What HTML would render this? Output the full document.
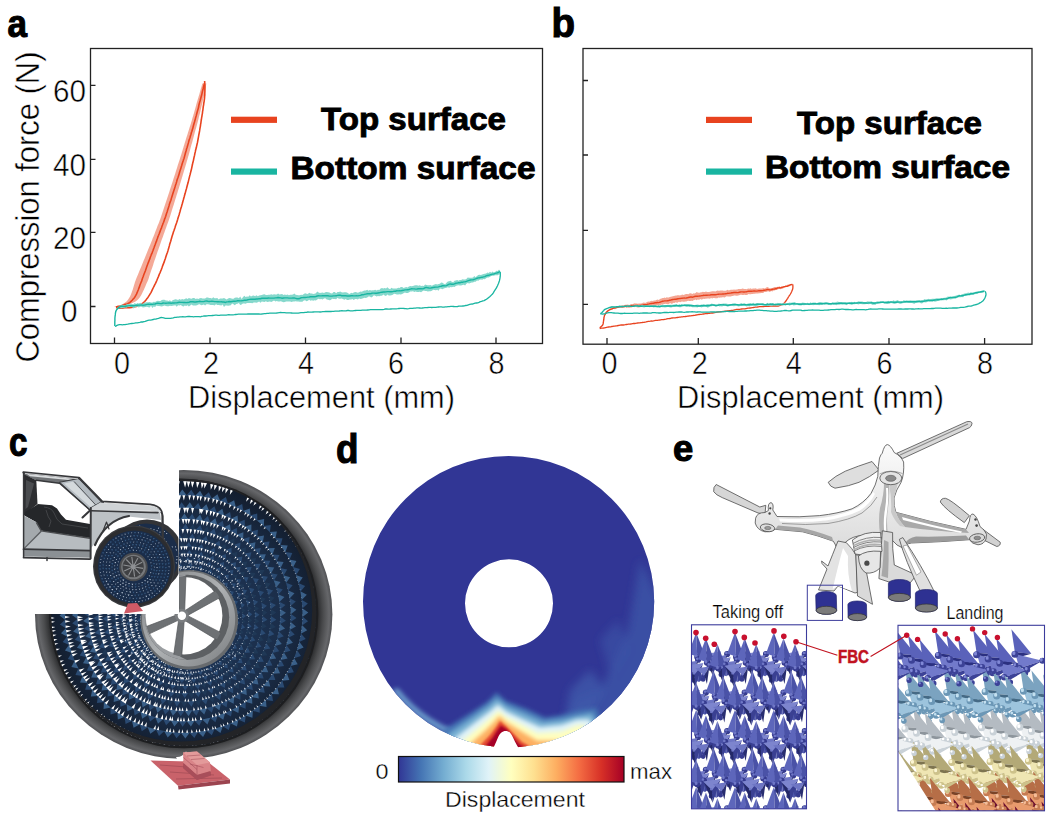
<!DOCTYPE html>
<html><head><meta charset="utf-8"><title>Figure</title>
<style>
html,body{margin:0;padding:0;background:#fff;}
body{width:1053px;height:820px;overflow:hidden;font-family:"Liberation Sans",sans-serif;}
svg{display:block}
.lbl{font-family:"Liberation Sans",sans-serif;font-weight:bold;font-size:41px;fill:#000;stroke:#000;stroke-width:1.1px}
.ax{font-family:"Liberation Sans",sans-serif;fill:#000;stroke:#fff;stroke-width:0.5px}
.lg{font-family:"Liberation Sans",sans-serif;font-weight:bold;fill:#000;stroke:#000;stroke-width:0.9px}
</style></head><body>
<svg width="1053" height="820" viewBox="0 0 1053 820">
<rect width="1053" height="820" fill="#fff"/>

<g id="axes" fill="none" stroke="#222" stroke-width="1.3">
<rect x="90.5" y="48.5" width="452" height="295"/>
<rect x="583" y="48.5" width="449" height="295.7"/>
<path d="M90.5,85.3h5M90.5,159.3h5M90.5,232.4h5M90.5,306.5h5"/>
<path d="M114.5,343.5v-6M210,343.5v-6M305.5,343.5v-6M401,343.5v-6M496,343.5v-6"/>
<path d="M583,80.5h5M583,155h5M583,230.3h5M583,304.4h5"/>
<path d="M607,344v-6M698.3,344v-6M793.3,344v-6M889,344v-6M984.6,344v-6"/>
</g>
<g class="ax" font-size="32">
<text x="86" y="101.5" text-anchor="end" textLength="33" lengthAdjust="spacingAndGlyphs">60</text>
<text x="86" y="175.5" text-anchor="end" textLength="33" lengthAdjust="spacingAndGlyphs">40</text>
<text x="86" y="248.5" text-anchor="end" textLength="33" lengthAdjust="spacingAndGlyphs">20</text>
<text x="77.5" y="321.5" text-anchor="end" textLength="16.5" lengthAdjust="spacingAndGlyphs">0</text>
</g>
<g class="ax" font-size="31" text-anchor="middle">
<text x="122" y="374" textLength="16" lengthAdjust="spacingAndGlyphs">0</text>
<text x="211" y="374" textLength="16" lengthAdjust="spacingAndGlyphs">2</text>
<text x="306" y="374" textLength="16" lengthAdjust="spacingAndGlyphs">4</text>
<text x="396" y="374" textLength="16" lengthAdjust="spacingAndGlyphs">6</text>
<text x="496.5" y="374" textLength="16" lengthAdjust="spacingAndGlyphs">8</text>
<text x="609.5" y="374" textLength="16" lengthAdjust="spacingAndGlyphs">0</text>
<text x="699.7" y="374" textLength="16" lengthAdjust="spacingAndGlyphs">2</text>
<text x="793.8" y="374" textLength="16" lengthAdjust="spacingAndGlyphs">4</text>
<text x="884.5" y="374" textLength="16" lengthAdjust="spacingAndGlyphs">6</text>
<text x="985" y="374" textLength="16" lengthAdjust="spacingAndGlyphs">8</text>
</g>
<g class="ax" font-size="31">
<text x="188" y="408" textLength="267" lengthAdjust="spacingAndGlyphs">Displacement (mm)</text>
<text x="677" y="408" textLength="267" lengthAdjust="spacingAndGlyphs">Displacement (mm)</text>
<text transform="translate(39,362.5) rotate(-90)" font-size="34" textLength="311" lengthAdjust="spacingAndGlyphs">Compression force (N)</text>
</g>
<g id="legend">
<rect x="231" y="116.7" width="46" height="6.2" fill="#e8431f"/>
<rect x="231" y="168.5" width="46" height="6.2" fill="#19b5a1"/>
<rect x="706" y="116.8" width="46" height="6.2" fill="#e8431f"/>
<rect x="706" y="168.5" width="46" height="6.2" fill="#19b5a1"/>
<g class="lg" font-size="32">
<text x="321" y="130" textLength="185" lengthAdjust="spacingAndGlyphs">Top surface</text>
<text x="290.5" y="179.3" textLength="245" lengthAdjust="spacingAndGlyphs">Bottom surface</text>
<text x="797" y="133.5" textLength="185" lengthAdjust="spacingAndGlyphs">Top surface</text>
<text x="765" y="177.5" textLength="245" lengthAdjust="spacingAndGlyphs">Bottom surface</text>
</g>
</g>
<g class="lbl">
<text x="7.5" y="37" font-size="38.5" textLength="19.5" lengthAdjust="spacingAndGlyphs">a</text>
<text x="551.5" y="36.5" font-size="40" textLength="23.5" lengthAdjust="spacingAndGlyphs">b</text>
<text x="9" y="455.5" font-size="40" textLength="18.5" lengthAdjust="spacingAndGlyphs">c</text>
<text x="336" y="463" font-size="40" textLength="22.5" lengthAdjust="spacingAndGlyphs">d</text>
<text x="673" y="461" font-size="36.5" textLength="20.3" lengthAdjust="spacingAndGlyphs">e</text>
</g>
<g id="plotA">
<path d="M113.9,306.9 L114.6,306.8 L115.6,306.6 L117.0,306.3 L118.2,306.0 L119.5,305.5 L120.8,305.0 L122.0,304.5 L123.2,303.8 L124.4,303.1 L125.5,302.3 L126.5,301.4 L127.4,300.4 L128.3,299.3 L129.1,298.1 L129.9,296.8 L130.5,295.4 L131.1,294.0 L131.7,292.6 L132.2,291.1 L132.7,289.7 L133.1,288.2 L133.6,286.8 L134.0,285.3 L134.5,283.8 L134.9,282.3 L135.4,280.9 L135.9,279.4 L136.5,277.9 L137.1,276.5 L137.8,275.0 L138.4,273.5 L139.0,272.1 L139.6,270.6 L140.2,269.1 L140.8,267.7 L141.4,266.2 L142.0,264.7 L142.6,263.3 L143.2,261.8 L143.8,260.3 L144.4,258.9 L145.0,257.4 L145.6,255.9 L146.2,254.5 L146.8,253.0 L147.4,251.5 L148.0,250.1 L148.6,248.6 L149.2,247.1 L149.8,245.7 L150.4,244.2 L151.0,242.7 L151.6,241.3 L152.2,239.8 L152.7,238.3 L153.3,236.9 L153.9,235.4 L154.5,233.9 L155.0,232.5 L155.6,231.0 L156.2,229.5 L156.8,228.1 L157.3,226.6 L157.9,225.1 L158.5,223.7 L159.1,222.2 L159.6,220.7 L160.2,219.3 L160.7,217.8 L161.2,216.3 L161.7,214.8 L162.2,213.3 L162.7,211.8 L163.2,210.3 L163.7,208.8 L164.1,207.4 L164.6,205.9 L165.1,204.4 L165.6,202.9 L166.1,201.4 L166.6,199.9 L167.1,198.4 L167.6,196.9 L168.1,195.4 L168.6,193.9 L169.1,192.4 L169.6,190.9 L170.0,189.4 L170.5,188.0 L171.0,186.5 L171.5,185.0 L172.0,183.5 L172.5,182.0 L173.0,180.5 L173.4,179.0 L173.9,177.5 L174.4,176.0 L174.9,174.5 L175.4,173.0 L175.8,171.5 L176.3,170.0 L176.8,168.5 L177.3,167.0 L177.7,165.5 L178.2,164.0 L178.7,162.5 L179.2,161.0 L179.7,159.5 L180.1,158.0 L180.6,156.5 L181.1,155.0 L181.6,153.5 L182.0,152.0 L182.5,150.5 L182.9,149.0 L183.4,147.5 L183.8,146.0 L184.3,144.5 L184.7,143.0 L185.2,141.5 L185.7,140.0 L186.1,138.5 L186.6,137.0 L187.1,135.5 L187.6,134.0 L188.0,132.5 L188.5,131.0 L189.0,129.5 L189.4,128.0 L189.9,126.5 L190.4,125.0 L190.9,123.5 L191.3,121.9 L191.8,120.4 L192.2,118.9 L192.6,117.4 L193.1,115.9 L193.5,114.4 L194.0,112.9 L194.4,111.4 L194.8,109.9 L195.3,108.3 L195.7,106.8 L196.1,105.3 L196.5,103.8 L196.9,102.3 L197.4,100.7 L197.8,99.2 L198.3,97.7 L198.7,96.2 L199.2,94.7 L199.6,93.2 L200.1,91.6 L200.5,90.1 L200.9,88.6 L201.4,87.1 L201.8,85.6 L202.1,84.3 L202.4,83.4 L206.4,83.4 L206.2,84.3 L206.0,85.6 L205.7,87.1 L205.4,88.6 L205.1,90.1 L204.8,91.6 L204.5,93.2 L204.1,94.7 L203.8,96.2 L203.5,97.7 L203.2,99.2 L202.8,100.7 L202.5,102.3 L202.2,103.8 L201.8,105.3 L201.4,106.8 L201.1,108.3 L200.7,109.9 L200.4,111.4 L200.0,112.9 L199.6,114.4 L199.2,115.9 L198.8,117.4 L198.5,118.9 L198.1,120.4 L197.7,121.9 L197.3,123.5 L196.9,125.0 L196.5,126.5 L196.1,128.0 L195.6,129.5 L195.2,131.0 L194.8,132.5 L194.4,134.0 L194.0,135.5 L193.6,137.0 L193.2,138.5 L192.8,140.0 L192.4,141.5 L192.0,143.0 L191.5,144.5 L191.1,146.0 L190.7,147.5 L190.3,149.0 L189.9,150.5 L189.5,152.0 L189.1,153.5 L188.7,155.0 L188.2,156.5 L187.8,158.0 L187.4,159.5 L186.9,161.0 L186.5,162.5 L186.1,164.0 L185.6,165.5 L185.2,167.0 L184.7,168.5 L184.3,170.0 L183.8,171.5 L183.4,173.0 L182.9,174.5 L182.5,176.0 L182.0,177.5 L181.6,179.0 L181.1,180.5 L180.7,182.0 L180.2,183.5 L179.8,185.0 L179.3,186.5 L178.9,188.0 L178.4,189.4 L177.9,190.9 L177.5,192.4 L177.0,193.9 L176.5,195.4 L176.1,196.9 L175.6,198.4 L175.1,199.9 L174.7,201.4 L174.2,202.9 L173.8,204.4 L173.3,205.9 L172.8,207.4 L172.4,208.8 L171.9,210.3 L171.5,211.8 L171.0,213.3 L170.6,214.8 L170.1,216.3 L169.6,217.8 L169.1,219.3 L168.6,220.7 L168.1,222.2 L167.5,223.7 L167.0,225.1 L166.5,226.6 L166.0,228.1 L165.4,229.5 L164.9,231.0 L164.4,232.5 L163.8,233.9 L163.3,235.4 L162.8,236.9 L162.3,238.3 L161.7,239.8 L161.2,241.3 L160.7,242.7 L160.2,244.2 L159.7,245.7 L159.2,247.1 L158.7,248.6 L158.2,250.1 L157.6,251.5 L157.1,253.0 L156.6,254.5 L156.1,255.9 L155.6,257.4 L155.1,258.9 L154.6,260.3 L154.1,261.8 L153.6,263.3 L153.2,264.7 L152.7,266.2 L152.2,267.7 L151.7,269.1 L151.2,270.6 L150.7,272.1 L150.2,273.5 L149.7,275.0 L149.2,276.5 L148.8,277.9 L148.3,279.4 L147.7,280.9 L147.1,282.3 L146.4,283.8 L145.8,285.3 L145.2,286.8 L144.5,288.2 L143.9,289.7 L143.2,291.1 L142.5,292.6 L141.8,294.0 L141.0,295.4 L140.2,296.8 L139.3,298.1 L138.2,299.3 L136.9,300.4 L135.5,301.4 L134.0,302.3 L132.4,303.1 L130.8,303.8 L129.2,304.5 L127.5,305.0 L125.8,305.5 L124.1,306.0 L122.3,306.3 L120.6,306.6 L119.1,306.8 L117.9,306.9Z" fill="#f3a08c" opacity="0.9"/>
<path d="M115.9,306.9 L116.9,306.8 L118.1,306.4 L119.6,306.3 L121.2,305.9 L122.7,305.3 L124.1,304.8 L125.6,304.2 L127.0,304.0 L128.4,303.3 L129.7,302.6 L131.0,301.4 L132.2,300.3 L133.2,299.1 L134.2,297.9 L135.0,296.7 L135.8,295.4 L136.5,294.1 L137.1,292.6 L137.7,291.2 L138.3,289.8 L138.8,288.4 L139.4,286.9 L139.9,285.3 L140.5,283.8 L141.0,282.5 L141.6,281.1 L142.1,279.5 L142.6,278.0 L143.2,276.5 L143.7,275.0 L144.3,273.5 L144.8,272.2 L145.4,270.7 L145.9,269.3 L146.5,267.5 L147.0,266.1 L147.6,264.5 L148.1,263.1 L148.7,261.6 L149.2,260.3 L149.8,258.9 L150.3,257.3 L150.9,255.8 L151.4,254.4 L152.0,253.1 L152.5,251.7 L153.1,250.3 L153.6,248.8 L154.2,247.2 L154.7,245.7 L155.3,244.2 L155.8,242.8 L156.4,241.4 L156.9,239.8 L157.5,238.3 L158.0,236.6 L158.6,235.3 L159.2,233.8 L159.7,232.4 L160.3,230.9 L160.8,229.3 L161.4,228.1 L161.9,226.4 L162.5,225.0 L163.0,223.5 L163.6,222.3 L164.1,220.7 L164.6,219.1 L165.2,217.6 L165.7,216.2 L166.1,214.9 L166.6,213.3 L167.1,211.9 L167.6,210.2 L168.0,208.9 L168.5,207.4 L169.0,205.9 L169.4,204.2 L169.9,202.8 L170.4,201.4 L170.9,200.2 L171.3,198.6 L171.8,197.1 L172.3,195.5 L172.8,193.8 L173.3,192.2 L173.7,190.9 L174.2,189.4 L174.7,187.9 L175.2,186.3 L175.6,184.9 L176.1,183.5 L176.6,181.9 L177.0,180.3 L177.5,178.7 L178.0,177.5 L178.4,176.2 L178.9,174.7 L179.4,173.1 L179.8,171.5 L180.3,170.0 L180.8,168.6 L181.2,167.0 L181.7,165.5 L182.1,164.0 L182.6,162.6 L183.1,161.1 L183.5,159.8 L184.0,158.4 L184.4,157.0 L184.9,155.1 L185.3,153.5 L185.8,151.8 L186.2,150.5 L186.6,148.8 L187.1,147.5 L187.5,146.0 L187.9,144.6 L188.4,142.9 L188.8,141.2 L189.2,139.8 L189.7,138.5 L190.1,137.2 L190.5,135.7 L191.0,134.2 L191.4,132.5 L191.9,131.2 L192.3,129.7 L192.8,128.3 L193.2,126.5 L193.6,125.0 L194.1,123.3 L194.5,122.0 L194.9,120.5 L195.3,119.1 L195.7,117.4 L196.2,115.9 L196.6,114.3 L197.0,112.8 L197.4,111.3 L197.8,110.0 L198.2,108.6 L198.6,107.0 L198.9,105.1 L199.3,103.5 L199.7,102.1 L200.1,100.8 L200.5,99.3 L200.9,97.8 L201.3,96.2 L201.7,94.7 L202.1,93.1 L202.4,91.5 L202.8,90.0 L203.2,88.5 L203.5,87.0 L203.9,85.4 L204.2,84.2 L204.4,83.3" fill="none" stroke="#e8431f" stroke-width="1.6"/>
<path d="M204.6,81.0 L204.7,82.0 L204.7,83.3 L204.8,85.0 L204.9,86.8 L204.9,88.3 L204.9,89.9 L204.9,91.5 L204.8,93.3 L204.8,94.9 L204.6,96.7 L204.5,98.4 L204.3,100.0 L204.1,101.6 L203.8,103.2 L203.6,104.8 L203.3,106.4 L203.1,108.0 L202.9,109.8 L202.6,111.4 L202.4,113.3 L202.1,114.8 L201.9,116.3 L201.6,117.8 L201.4,119.5 L201.1,121.1 L200.9,122.8 L200.6,124.3 L200.4,126.1 L200.1,127.7 L199.8,129.4 L199.6,130.9 L199.3,132.5 L199.0,134.0 L198.7,135.6 L198.4,137.3 L198.1,139.0 L197.8,140.7 L197.5,142.4 L197.1,144.0 L196.7,145.7 L196.4,147.3 L196.0,148.7 L195.6,150.2 L195.3,151.9 L194.9,153.4 L194.6,155.2 L194.2,156.7 L193.8,158.5 L193.5,160.1 L193.1,161.7 L192.7,163.2 L192.4,164.8 L192.0,166.5 L191.7,168.1 L191.3,169.7 L190.9,171.3 L190.5,172.9 L190.1,174.5 L189.7,175.9 L189.3,177.6 L188.9,179.1 L188.5,180.9 L188.1,182.6 L187.6,184.2 L187.2,185.7 L186.8,187.2 L186.4,188.9 L185.9,190.5 L185.5,192.1 L185.1,193.6 L184.6,195.2 L184.2,196.8 L183.7,198.5 L183.3,200.0 L182.8,201.7 L182.4,203.3 L181.9,204.9 L181.5,206.4 L181.0,207.9 L180.5,209.6 L180.1,211.3 L179.6,212.9 L179.2,214.5 L178.7,215.9 L178.2,217.5 L177.7,219.3 L177.2,220.9 L176.7,222.5 L176.2,223.9 L175.6,225.5 L175.1,227.2 L174.6,228.7 L174.1,230.3 L173.5,231.8 L173.0,233.4 L172.5,234.9 L172.0,236.5 L171.6,238.1 L171.1,239.7 L170.7,241.2 L170.2,242.7 L169.7,244.3 L169.3,246.0 L168.8,247.7 L168.3,249.4 L167.9,250.9 L167.4,252.5 L166.8,254.0 L166.3,255.6 L165.8,257.1 L165.3,258.7 L164.7,260.3 L164.2,261.9 L163.6,263.4 L163.0,264.9 L162.4,266.5 L161.9,268.1 L161.3,269.6 L160.7,271.0 L160.1,272.6 L159.4,274.0 L158.8,275.6 L158.2,277.1 L157.5,278.7 L156.9,280.3 L156.2,281.8 L155.5,283.3 L154.8,284.7 L154.1,286.1 L153.4,287.5 L152.6,289.1 L151.9,290.6 L151.1,292.3 L150.3,293.6 L149.4,295.1 L148.6,296.4 L147.7,297.7 L146.7,298.9 L145.8,300.2 L144.7,301.5 L143.5,302.6 L142.2,303.7 L140.9,304.6 L139.4,305.3 L137.9,305.8 L136.3,306.4 L134.7,306.8 L133.1,307.2 L131.4,307.4 L129.8,307.6 L128.1,307.6 L126.5,307.6 L124.9,307.7 L123.2,307.9 L121.6,308.1 L119.9,308.1 L118.3,307.9 L117.0,307.7 L116.0,307.5" fill="none" stroke="#e8431f" stroke-width="1.6"/>
<path d="M115.4,312.7 L115.7,311.1 L116.2,309.6 L116.8,309.5 L117.7,307.0 L118.8,306.8 L120.0,305.5 L121.3,305.2 L122.7,304.4 L124.0,305.4 L125.3,305.2 L126.7,304.3 L128.0,303.7 L129.4,304.3 L130.7,303.5 L132.1,303.9 L133.4,304.3 L134.8,303.1 L136.1,303.9 L137.5,302.9 L138.8,303.4 L140.2,302.8 L141.6,303.5 L142.9,303.7 L144.3,302.4 L145.6,302.5 L147.0,302.2 L148.3,302.3 L149.7,301.9 L151.0,302.6 L152.4,302.6 L153.7,301.8 L155.1,302.0 L156.4,301.2 L157.8,300.7 L159.1,300.9 L160.5,301.1 L161.8,300.0 L163.2,299.8 L164.5,299.8 L165.9,300.4 L167.2,300.6 L168.6,300.9 L169.9,300.3 L171.3,301.4 L172.6,300.3 L174.0,299.8 L175.4,299.2 L176.7,299.5 L178.1,300.0 L179.4,299.1 L180.8,299.8 L182.1,298.9 L183.5,299.5 L184.8,298.9 L186.2,298.3 L187.5,299.0 L188.9,298.1 L190.2,298.6 L191.6,298.7 L192.9,297.9 L194.3,298.0 L195.7,299.1 L197.0,298.5 L198.4,299.1 L199.7,298.2 L201.1,297.9 L202.4,298.4 L203.8,298.6 L205.1,298.6 L206.5,297.6 L207.8,297.6 L209.2,297.9 L210.5,297.9 L211.9,298.6 L213.3,297.2 L214.6,298.3 L216.0,298.3 L217.3,297.9 L218.7,299.5 L220.0,298.5 L221.4,298.4 L222.7,298.4 L224.0,297.9 L225.4,298.8 L226.7,299.4 L228.1,298.6 L229.4,298.0 L230.8,298.2 L232.1,298.7 L233.5,298.8 L234.8,297.7 L236.2,297.5 L237.5,297.4 L238.9,298.2 L240.2,296.6 L241.6,298.9 L242.9,297.3 L244.3,295.8 L245.6,297.0 L247.0,296.5 L248.3,296.8 L249.7,295.3 L251.0,296.5 L252.4,295.7 L253.7,295.6 L255.1,296.3 L256.4,295.2 L257.8,296.3 L259.1,295.5 L260.5,295.3 L261.8,295.0 L263.2,294.5 L264.5,294.2 L265.9,294.9 L267.2,295.0 L268.6,294.8 L269.9,294.7 L271.3,294.2 L272.7,294.7 L274.0,294.3 L275.4,294.4 L276.7,294.6 L278.1,293.4 L279.4,294.6 L280.8,294.3 L282.1,293.9 L283.5,295.0 L284.8,294.4 L286.2,295.1 L287.5,294.6 L288.9,295.3 L290.2,294.7 L291.6,294.8 L293.0,294.4 L294.3,293.6 L295.7,294.7 L297.0,294.9 L298.4,295.3 L299.7,295.2 L301.1,294.7 L302.4,295.1 L303.8,294.0 L305.1,293.3 L306.5,293.8 L307.8,293.9 L309.2,292.8 L310.5,293.6 L311.9,293.6 L313.2,293.9 L314.5,293.8 L315.9,293.3 L317.2,291.6 L318.6,292.5 L319.9,293.0 L321.3,292.8 L322.6,292.4 L324.0,293.1 L325.3,292.2 L326.7,292.1 L328.1,292.3 L329.4,292.4 L330.8,293.3 L332.1,293.5 L333.5,291.9 L334.8,291.9 L336.2,293.2 L337.5,291.9 L338.9,291.9 L340.2,291.5 L341.6,292.2 L342.9,292.5 L344.3,292.3 L345.7,292.2 L347.0,292.6 L348.4,293.5 L349.7,294.1 L351.1,292.8 L352.4,293.2 L353.8,292.4 L355.1,292.1 L356.5,292.3 L357.8,292.7 L359.1,292.2 L360.5,291.4 L361.8,291.8 L363.1,290.9 L364.5,290.6 L365.8,290.6 L367.2,289.7 L368.5,290.8 L369.8,289.9 L371.2,290.6 L372.5,290.2 L373.9,290.3 L375.2,289.7 L376.6,290.4 L377.9,289.7 L379.3,290.0 L380.6,288.6 L382.0,288.0 L383.3,288.6 L384.7,287.9 L386.0,288.4 L387.4,287.3 L388.7,288.4 L390.1,289.3 L391.4,287.8 L392.8,288.4 L394.1,288.6 L395.5,288.4 L396.8,288.5 L398.1,287.8 L399.5,288.0 L400.8,287.0 L402.2,287.0 L403.5,288.0 L404.9,287.6 L406.2,287.1 L407.6,287.6 L408.9,286.5 L410.3,286.1 L411.6,286.2 L413.0,286.1 L414.3,285.6 L415.6,285.3 L417.0,285.2 L418.4,285.7 L419.7,285.2 L421.1,286.0 L422.4,285.7 L423.8,286.0 L425.1,284.4 L426.5,285.0 L427.8,285.3 L429.2,285.2 L430.5,284.9 L431.9,285.7 L433.2,284.9 L434.5,284.4 L435.9,284.1 L437.2,284.6 L438.5,284.0 L439.9,283.7 L441.2,282.6 L442.5,282.7 L443.8,283.7 L445.2,284.2 L446.5,282.7 L447.8,281.4 L449.2,281.3 L450.5,280.8 L451.8,281.8 L453.2,282.2 L454.5,280.7 L455.8,280.5 L457.2,280.0 L458.5,280.8 L459.8,280.0 L461.2,279.9 L462.5,279.2 L463.8,279.5 L465.1,279.4 L466.4,279.0 L467.7,277.6 L469.1,277.8 L470.4,277.8 L471.7,277.8 L473.0,277.6 L474.3,276.0 L475.6,277.2 L477.0,276.1 L478.3,275.1 L479.6,274.7 L480.9,275.0 L482.2,274.5 L483.5,274.1 L484.8,273.8 L486.1,273.6 L487.4,272.4 L488.7,272.9 L490.0,271.8 L491.3,272.8 L492.6,271.5 L493.8,272.5 L495.1,272.1 L496.4,270.7 L497.7,271.1 L498.9,269.8 L499.8,269.9 L499.8,274.3 L498.9,274.4 L497.7,275.3 L496.4,275.3 L495.1,275.3 L493.8,275.8 L492.6,275.8 L491.3,275.9 L490.0,276.7 L488.7,277.6 L487.4,277.6 L486.1,278.2 L484.8,279.3 L483.5,279.0 L482.2,279.8 L480.9,279.5 L479.6,279.7 L478.3,280.8 L477.0,280.6 L475.6,281.7 L474.3,281.8 L473.0,282.5 L471.7,282.5 L470.4,282.9 L469.1,283.6 L467.7,282.9 L466.4,283.7 L465.1,285.4 L463.8,284.8 L462.5,284.9 L461.2,285.6 L459.8,285.6 L458.5,285.3 L457.2,285.4 L455.8,286.1 L454.5,287.0 L453.2,286.8 L451.8,287.3 L450.5,287.0 L449.2,287.7 L447.8,287.3 L446.5,287.7 L445.2,288.1 L443.8,288.4 L442.5,289.2 L441.2,288.8 L439.9,288.5 L438.5,290.7 L437.2,289.7 L435.9,290.3 L434.5,290.0 L433.2,289.8 L431.9,290.8 L430.5,291.3 L429.2,291.2 L427.8,291.5 L426.5,291.0 L425.1,291.1 L423.8,290.4 L422.4,291.3 L421.1,292.3 L419.7,291.7 L418.4,291.9 L417.0,291.9 L415.6,291.6 L414.3,292.0 L413.0,291.2 L411.6,291.6 L410.3,291.4 L408.9,292.6 L407.6,293.0 L406.2,293.1 L404.9,292.5 L403.5,293.2 L402.2,294.0 L400.8,294.5 L399.5,294.3 L398.1,294.6 L396.8,294.4 L395.5,294.0 L394.1,293.8 L392.8,294.7 L391.4,295.3 L390.1,295.5 L388.7,295.5 L387.4,294.5 L386.0,296.1 L384.7,295.6 L383.3,294.6 L382.0,295.7 L380.6,295.7 L379.3,296.3 L377.9,295.9 L376.6,296.6 L375.2,295.8 L373.9,295.3 L372.5,296.7 L371.2,297.5 L369.8,296.4 L368.5,296.4 L367.2,297.5 L365.8,297.9 L364.5,297.8 L363.1,298.2 L361.8,298.8 L360.5,299.0 L359.1,298.6 L357.8,299.6 L356.5,298.9 L355.1,299.0 L353.8,300.0 L352.4,299.0 L351.1,299.4 L349.7,299.6 L348.4,299.9 L347.0,299.9 L345.7,299.1 L344.3,299.8 L342.9,299.1 L341.6,298.6 L340.2,298.7 L338.9,298.7 L337.5,297.7 L336.2,299.2 L334.8,299.0 L333.5,299.0 L332.1,298.7 L330.8,300.1 L329.4,300.2 L328.1,299.8 L326.7,299.6 L325.3,298.3 L324.0,298.5 L322.6,299.5 L321.3,298.9 L319.9,299.2 L318.6,298.8 L317.2,299.6 L315.9,300.4 L314.5,300.3 L313.2,300.8 L311.9,300.2 L310.5,300.7 L309.2,299.8 L307.8,300.7 L306.5,301.3 L305.1,300.2 L303.8,300.4 L302.4,301.7 L301.1,301.8 L299.7,301.8 L298.4,301.4 L297.0,301.4 L295.7,301.2 L294.3,301.5 L293.0,301.4 L291.6,301.9 L290.2,301.5 L288.9,301.5 L287.5,301.6 L286.2,301.6 L284.8,302.0 L283.5,302.3 L282.1,301.8 L280.8,301.2 L279.4,301.4 L278.1,301.5 L276.7,300.9 L275.4,301.4 L274.0,300.6 L272.7,301.3 L271.3,301.9 L269.9,301.6 L268.6,301.8 L267.2,302.1 L265.9,301.3 L264.5,302.0 L263.2,301.8 L261.8,301.6 L260.5,302.8 L259.1,301.4 L257.8,302.2 L256.4,302.7 L255.1,302.4 L253.7,302.6 L252.4,303.3 L251.0,303.0 L249.7,302.9 L248.3,302.9 L247.0,302.9 L245.6,303.7 L244.3,303.6 L242.9,303.5 L241.6,304.5 L240.2,304.9 L238.9,303.0 L237.5,303.7 L236.2,304.0 L234.8,305.2 L233.5,304.2 L232.1,303.5 L230.8,305.2 L229.4,305.4 L228.1,305.7 L226.7,305.5 L225.4,305.5 L224.0,307.0 L222.7,304.4 L221.4,305.4 L220.0,305.3 L218.7,304.9 L217.3,304.9 L216.0,304.2 L214.6,305.4 L213.3,304.9 L211.9,305.1 L210.5,305.0 L209.2,304.5 L207.8,304.3 L206.5,304.3 L205.1,305.5 L203.8,304.4 L202.4,304.9 L201.1,305.2 L199.7,304.3 L198.4,304.5 L197.0,305.2 L195.7,305.4 L194.3,305.4 L192.9,305.6 L191.6,304.4 L190.2,305.4 L188.9,306.4 L187.5,305.3 L186.2,306.0 L184.8,305.4 L183.5,306.5 L182.1,306.1 L180.8,305.0 L179.4,305.4 L178.1,305.3 L176.7,306.7 L175.4,305.2 L174.0,305.4 L172.6,305.7 L171.3,305.9 L169.9,305.7 L168.6,306.2 L167.2,306.3 L165.9,305.9 L164.5,305.4 L163.2,306.0 L161.8,306.6 L160.5,306.3 L159.1,306.1 L157.8,305.9 L156.4,305.5 L155.1,307.1 L153.7,306.6 L152.4,308.1 L151.0,305.8 L149.7,307.6 L148.3,307.3 L147.0,306.7 L145.6,307.0 L144.3,307.3 L142.9,307.4 L141.6,306.7 L140.2,306.7 L138.8,307.4 L137.5,306.7 L136.1,306.7 L134.8,307.5 L133.4,308.4 L132.1,306.9 L130.7,307.1 L129.4,305.8 L128.0,306.7 L126.7,307.8 L125.3,307.4 L124.0,308.0 L122.7,307.9 L121.3,308.6 L120.0,308.2 L118.8,308.3 L117.7,309.9 L116.8,310.4 L116.2,310.9 L115.7,312.7 L115.4,315.1Z" fill="#7fd6c9" opacity="0.95"/>
<path d="M114.8,325.9 L114.8,324.8 L114.8,323.3 L114.8,321.9 L114.9,320.6 L114.9,319.3 L114.9,318.2 L115.0,317.0 L115.1,316.2 L115.3,314.9 L115.4,313.5 L115.7,311.8 L116.2,310.5 L116.8,309.3 L117.7,308.4 L118.8,307.6 L120.0,306.7 L121.3,306.3 L122.7,306.1 L124.0,306.6 L125.3,306.2 L126.7,306.0 L128.0,305.9 L129.4,305.7 L130.7,305.8 L132.1,305.7 L133.4,305.8 L134.8,305.6 L136.1,305.3 L137.5,305.3 L138.8,305.1 L140.2,305.1 L141.6,304.9 L142.9,305.3 L144.3,305.1 L145.6,304.8 L147.0,304.4 L148.3,304.3 L149.7,304.4 L151.0,304.2 L152.4,304.4 L153.7,304.1 L155.1,304.0 L156.4,303.4 L157.8,303.2 L159.1,303.4 L160.5,303.6 L161.8,303.5 L163.2,303.0 L164.5,303.1 L165.9,303.2 L167.2,303.1 L168.6,303.0 L169.9,303.0 L171.3,303.2 L172.6,302.9 L174.0,303.0 L175.4,302.9 L176.7,302.9 L178.1,302.5 L179.4,302.3 L180.8,302.4 L182.1,302.4 L183.5,302.5 L184.8,302.4 L186.2,302.6 L187.5,302.5 L188.9,302.4 L190.2,301.8 L191.6,301.7 L192.9,301.8 L194.3,302.0 L195.7,302.0 L197.0,301.8 L198.4,301.6 L199.7,301.3 L201.1,301.6 L202.4,301.6 L203.8,301.6 L205.1,301.1 L206.5,301.0 L207.8,301.3 L209.2,301.5 L210.5,301.4 L211.9,301.3 L213.3,301.4 L214.6,301.6 L216.0,301.6 L217.3,301.7 L218.7,301.7 L220.0,301.9 L221.4,301.7 L222.7,302.0 L224.0,302.0 L225.4,302.5 L226.7,301.9 L228.1,301.8 L229.4,301.5 L230.8,301.7 L232.1,301.5 L233.5,301.3 L234.8,301.3 L236.2,301.1 L237.5,300.8 L238.9,300.8 L240.2,300.9 L241.6,300.8 L242.9,300.6 L244.3,300.3 L245.6,300.3 L247.0,300.0 L248.3,299.6 L249.7,299.4 L251.0,299.3 L252.4,299.3 L253.7,299.1 L255.1,299.2 L256.4,299.0 L257.8,299.0 L259.1,298.6 L260.5,298.7 L261.8,298.3 L263.2,298.3 L264.5,298.2 L265.9,298.3 L267.2,298.3 L268.6,298.0 L269.9,298.1 L271.3,298.1 L272.7,298.1 L274.0,298.1 L275.4,297.9 L276.7,297.8 L278.1,297.5 L279.4,297.7 L280.8,297.9 L282.1,298.2 L283.5,298.0 L284.8,297.9 L286.2,297.9 L287.5,297.9 L288.9,298.1 L290.2,298.1 L291.6,298.1 L293.0,298.0 L294.3,297.9 L295.7,298.3 L297.0,298.7 L298.4,298.8 L299.7,298.5 L301.1,297.7 L302.4,297.6 L303.8,297.5 L305.1,297.5 L306.5,297.4 L307.8,297.1 L309.2,297.0 L310.5,296.8 L311.9,296.7 L313.2,296.7 L314.5,296.7 L315.9,296.5 L317.2,296.0 L318.6,295.8 L319.9,295.9 L321.3,295.9 L322.6,295.7 L324.0,295.6 L325.3,295.7 L326.7,295.8 L328.1,295.8 L329.4,296.1 L330.8,296.1 L332.1,296.1 L333.5,295.9 L334.8,295.9 L336.2,295.8 L337.5,295.4 L338.9,295.3 L340.2,295.2 L341.6,295.7 L342.9,295.6 L344.3,295.8 L345.7,295.6 L347.0,296.0 L348.4,296.0 L349.7,296.0 L351.1,295.8 L352.4,295.8 L353.8,295.9 L355.1,295.9 L356.5,295.8 L357.8,295.9 L359.1,295.6 L360.5,295.4 L361.8,294.8 L363.1,294.8 L364.5,294.4 L365.8,294.1 L367.2,293.8 L368.5,293.8 L369.8,293.7 L371.2,293.5 L372.5,293.1 L373.9,293.1 L375.2,293.2 L376.6,293.2 L377.9,293.0 L379.3,292.8 L380.6,292.4 L382.0,292.2 L383.3,292.0 L384.7,292.0 L386.0,291.9 L387.4,291.6 L388.7,291.6 L390.1,291.8 L391.4,291.8 L392.8,291.6 L394.1,291.2 L395.5,291.2 L396.8,290.8 L398.1,290.9 L399.5,290.6 L400.8,290.9 L402.2,290.5 L403.5,290.3 L404.9,289.9 L406.2,289.9 L407.6,289.7 L408.9,289.5 L410.3,289.1 L411.6,288.8 L413.0,288.9 L414.3,288.9 L415.6,289.1 L417.0,289.0 L418.4,288.7 L419.7,288.6 L421.1,288.7 L422.4,288.9 L423.8,288.5 L425.1,287.7 L426.5,287.4 L427.8,287.8 L429.2,288.1 L430.5,288.1 L431.9,287.8 L433.2,287.5 L434.5,287.3 L435.9,287.1 L437.2,287.1 L438.5,286.9 L439.9,286.4 L441.2,286.2 L442.5,285.8 L443.8,285.8 L445.2,285.9 L446.5,285.6 L447.8,284.8 L449.2,284.1 L450.5,284.0 L451.8,284.3 L453.2,284.3 L454.5,283.8 L455.8,283.3 L457.2,283.1 L458.5,282.8 L459.8,282.8 L461.2,282.3 L462.5,282.3 L463.8,281.9 L465.1,281.7 L466.4,281.4 L467.7,280.8 L469.1,280.4 L470.4,280.0 L471.7,279.9 L473.0,279.7 L474.3,279.3 L475.6,278.9 L477.0,278.2 L478.3,277.9 L479.6,277.8 L480.9,277.4 L482.2,277.3 L483.5,276.9 L484.8,276.6 L486.1,275.9 L487.4,275.5 L488.7,275.3 L490.0,274.8 L491.3,274.5 L492.6,274.1 L493.8,274.0 L495.1,273.4 L496.4,273.1 L497.7,272.8 L498.9,272.1 L499.8,271.4" fill="none" stroke="#19b5a1" stroke-width="1.4"/>
<path d="M500.2,271.8 L500.3,272.8 L500.3,274.2 L500.3,275.5 L500.2,276.7 L500.0,278.1 L499.7,279.5 L499.4,280.9 L499.0,282.1 L498.5,283.4 L498.0,284.5 L497.5,285.8 L496.9,286.9 L496.3,288.2 L495.6,289.2 L494.8,290.4 L494.0,291.6 L493.3,292.9 L492.5,294.0 L491.6,294.9 L490.7,295.8 L489.7,296.7 L488.7,297.5 L487.6,298.4 L486.5,299.2 L485.3,299.9 L484.1,300.6 L482.8,300.9 L481.5,301.4 L480.3,301.7 L479.0,302.4 L477.7,302.8 L476.4,303.0 L475.0,303.2 L473.7,303.6 L472.4,304.0 L471.0,304.2 L469.7,304.4 L468.4,304.8 L467.0,305.3 L465.7,305.5 L464.4,305.9 L463.0,306.0 L461.7,306.2 L460.3,306.1 L458.9,306.2 L457.6,306.5 L456.2,306.6 L454.9,306.6 L453.5,306.5 L452.1,306.4 L450.8,306.4 L449.4,306.6 L448.1,306.7 L446.7,306.9 L445.3,306.9 L444.0,307.1 L442.6,307.1 L441.3,306.9 L439.9,306.9 L438.5,307.0 L437.2,307.2 L435.8,307.4 L434.5,307.4 L433.1,307.4 L431.7,307.5 L430.4,307.4 L429.0,307.3 L427.6,307.5 L426.3,307.6 L424.9,307.7 L423.6,307.8 L422.2,308.0 L420.8,308.1 L419.5,308.0 L418.1,307.9 L416.8,307.9 L415.4,308.1 L414.0,308.1 L412.7,308.3 L411.3,308.3 L409.9,308.4 L408.6,308.7 L407.2,308.8 L405.9,308.6 L404.5,308.5 L403.1,308.3 L401.8,308.4 L400.4,308.4 L399.1,308.5 L397.7,308.7 L396.3,308.8 L395.0,308.8 L393.6,308.8 L392.2,308.8 L390.9,309.0 L389.5,309.2 L388.2,309.1 L386.8,309.0 L385.4,309.0 L384.1,309.4 L382.7,309.6 L381.4,309.7 L380.0,309.7 L378.6,309.6 L377.3,309.7 L375.9,309.6 L374.5,309.6 L373.2,309.6 L371.8,309.7 L370.5,309.7 L369.1,309.9 L367.7,310.0 L366.4,310.2 L365.0,310.1 L363.7,310.1 L362.3,310.2 L360.9,310.4 L359.6,310.4 L358.2,310.3 L356.9,310.4 L355.5,310.5 L354.1,310.6 L352.8,310.8 L351.4,310.8 L350.0,310.9 L348.7,310.5 L347.3,310.5 L346.0,310.8 L344.6,310.9 L343.2,310.9 L341.9,310.7 L340.5,310.8 L339.2,311.0 L337.8,311.1 L336.4,311.2 L335.1,311.2 L333.7,311.3 L332.3,311.4 L331.0,311.5 L329.6,311.5 L328.3,311.5 L326.9,311.5 L325.5,311.5 L324.2,311.6 L322.8,311.6 L321.5,311.9 L320.1,312.0 L318.7,311.9 L317.4,311.9 L316.0,311.9 L314.6,311.9 L313.3,312.0 L311.9,312.2 L310.6,312.2 L309.2,312.2 L307.8,312.0 L306.5,312.3 L305.1,312.3 L303.8,312.7 L302.4,312.6 L301.0,312.7 L299.7,312.8 L298.3,313.1 L297.0,313.1 L295.6,313.2 L294.2,313.1 L292.9,313.1 L291.5,313.0 L290.2,312.9 L288.8,312.9 L287.4,312.8 L286.1,312.8 L284.7,312.7 L283.4,312.7 L282.0,312.6 L280.6,312.5 L279.3,312.6 L277.9,312.8 L276.6,313.0 L275.2,313.1 L273.8,313.1 L272.5,313.1 L271.1,313.1 L269.8,313.1 L268.4,313.3 L267.0,313.4 L265.7,313.6 L264.3,313.6 L263.0,313.8 L261.6,314.0 L260.2,314.1 L258.9,314.0 L257.5,314.0 L256.2,314.0 L254.8,314.0 L253.4,313.8 L252.1,314.0 L250.7,313.9 L249.3,314.0 L248.0,314.0 L246.6,314.1 L245.3,314.2 L243.9,314.2 L242.5,314.1 L241.2,314.2 L239.8,314.1 L238.4,314.2 L237.1,314.3 L235.7,314.5 L234.4,314.7 L233.0,314.8 L231.6,314.8 L230.3,314.8 L228.9,314.7 L227.6,314.9 L226.2,315.1 L224.8,315.2 L223.5,315.1 L222.1,315.1 L220.7,315.2 L219.4,315.3 L218.0,315.3 L216.7,315.2 L215.3,315.2 L213.9,315.3 L212.6,315.5 L211.2,315.7 L209.9,315.7 L208.5,315.7 L207.1,315.8 L205.8,316.0 L204.4,316.0 L203.1,316.2 L201.7,316.3 L200.4,316.8 L199.0,316.7 L197.7,316.7 L196.3,316.7 L194.9,316.7 L193.6,316.8 L192.2,316.6 L190.9,316.6 L189.5,316.4 L188.1,316.5 L186.8,316.7 L185.4,316.9 L184.0,316.9 L182.7,316.7 L181.3,316.8 L180.0,316.9 L178.6,317.2 L177.3,317.1 L176.0,317.4 L174.6,317.4 L173.3,317.9 L171.9,318.1 L170.6,318.3 L169.3,318.4 L167.9,318.4 L166.6,318.4 L165.2,318.3 L163.8,317.9 L162.5,317.7 L161.1,317.5 L159.8,317.8 L158.5,318.3 L157.2,318.7 L155.9,319.1 L154.5,319.2 L153.2,319.5 L151.9,319.8 L150.6,320.1 L149.2,320.2 L147.9,320.4 L146.6,320.8 L145.2,321.4 L143.9,321.7 L142.6,322.0 L141.2,322.0 L139.9,322.4 L138.5,322.6 L137.2,322.8 L135.8,322.8 L134.5,323.2 L133.1,323.4 L131.8,323.5 L130.4,323.6 L129.1,323.8 L127.7,324.1 L126.4,324.3 L125.0,324.6 L123.7,324.7 L122.3,324.8 L121.0,324.6 L119.6,324.7 L118.3,324.9 L117.0,325.4 L115.8,326.1 L115.0,326.5" fill="none" stroke="#19b5a1" stroke-width="1.3"/>
</g>
<g id="plotB">
<path d="M603.5,320.7 L603.6,319.9 L603.8,319.2 L603.9,317.9 L604.0,316.4 L604.3,316.0 L604.6,314.7 L605.1,313.6 L605.6,313.3 L606.1,312.1 L606.7,311.6 L607.4,310.7 L608.3,310.1 L609.2,309.5 L610.1,308.9 L611.0,308.3 L612.0,308.0 L612.9,308.0 L614.0,306.7 L615.0,306.8 L616.0,306.8 L617.0,306.4 L618.0,306.0 L619.1,306.1 L620.1,305.8 L621.1,305.7 L622.2,305.3 L623.2,305.4 L624.3,304.9 L625.3,304.7 L626.3,304.7 L627.4,304.5 L628.4,304.8 L629.5,304.9 L630.5,304.2 L631.5,304.0 L632.6,303.9 L633.6,303.7 L634.7,303.3 L635.7,303.6 L636.8,303.6 L637.8,303.7 L638.8,303.4 L639.9,303.6 L640.9,303.6 L642.0,303.3 L643.0,302.7 L644.0,302.4 L645.1,303.0 L646.1,302.5 L647.1,301.9 L648.1,301.5 L649.2,301.8 L650.2,301.2 L651.2,300.8 L652.2,301.0 L653.3,300.8 L654.3,300.5 L655.3,300.4 L656.4,299.9 L657.4,299.6 L658.4,300.0 L659.4,299.4 L660.5,298.8 L661.5,298.6 L662.5,298.0 L663.6,298.1 L664.6,297.4 L665.6,297.9 L666.6,297.2 L667.7,297.6 L668.7,297.4 L669.7,297.0 L670.8,296.7 L671.8,296.4 L672.8,296.3 L673.9,296.0 L674.9,295.7 L675.9,295.5 L677.0,295.6 L678.0,295.0 L679.0,295.4 L680.1,295.2 L681.1,295.2 L682.1,294.5 L683.2,295.0 L684.2,294.8 L685.2,294.2 L686.3,294.0 L687.3,293.9 L688.3,294.3 L689.4,293.6 L690.4,293.2 L691.4,293.4 L692.5,294.0 L693.5,293.3 L694.5,293.4 L695.6,292.9 L696.6,292.1 L697.7,292.4 L698.7,292.8 L699.7,292.8 L700.8,292.2 L701.8,292.2 L702.8,291.7 L703.9,291.9 L704.9,291.9 L706.0,291.6 L707.0,291.9 L708.0,292.0 L709.1,291.9 L710.1,291.7 L711.2,291.4 L712.2,291.3 L713.2,291.2 L714.3,291.2 L715.3,291.5 L716.4,290.9 L717.4,290.5 L718.4,290.7 L719.5,290.7 L720.5,290.4 L721.6,290.6 L722.6,290.6 L723.6,290.7 L724.7,290.8 L725.7,290.7 L726.8,290.2 L727.8,289.8 L728.8,290.4 L729.9,289.9 L730.9,289.8 L732.0,289.7 L733.0,289.7 L734.0,289.4 L735.1,289.8 L736.1,289.4 L737.2,289.6 L738.2,288.9 L739.2,289.0 L740.3,289.1 L741.3,289.0 L742.4,288.5 L743.4,288.7 L744.4,289.1 L745.5,289.1 L746.5,289.3 L747.6,288.7 L748.6,288.6 L749.7,288.7 L750.7,288.2 L751.7,289.1 L752.8,288.5 L753.8,288.4 L754.9,288.4 L755.9,288.2 L756.9,289.1 L758.0,288.8 L759.0,288.5 L760.1,288.4 L761.1,288.6 L762.1,288.6 L763.2,288.1 L764.2,288.4 L765.3,288.2 L766.3,287.4 L767.3,287.1 L768.4,287.5 L769.4,288.2 L770.5,288.3 L771.5,288.1 L772.5,287.9 L773.5,287.5 L774.6,287.1 L775.6,287.1 L776.6,287.2 L777.6,286.7 L778.7,286.8 L779.7,286.2 L780.7,287.2 L781.7,286.2 L782.7,286.5 L783.7,286.0 L784.7,285.9 L785.7,285.2 L786.7,285.4 L787.7,284.5 L788.7,285.0 L789.7,284.6 L790.7,283.9 L791.7,283.8 L792.4,283.7 L792.4,284.8 L791.7,284.7 L790.7,284.9 L789.7,286.2 L788.7,286.3 L787.7,287.0 L786.7,287.1 L785.7,287.2 L784.7,287.6 L783.7,287.9 L782.7,288.7 L781.7,288.4 L780.7,289.2 L779.7,289.1 L778.7,289.1 L777.6,289.5 L776.6,290.0 L775.6,290.0 L774.6,290.6 L773.5,290.4 L772.5,291.5 L771.5,291.1 L770.5,291.6 L769.4,292.0 L768.4,291.3 L767.3,291.5 L766.3,291.9 L765.3,292.1 L764.2,292.1 L763.2,293.1 L762.1,293.0 L761.1,293.1 L760.1,293.3 L759.0,293.3 L758.0,293.4 L756.9,293.5 L755.9,293.6 L754.9,293.8 L753.8,293.7 L752.8,293.9 L751.7,294.1 L750.7,294.2 L749.7,294.3 L748.6,294.1 L747.6,294.7 L746.5,295.1 L745.5,295.0 L744.4,294.8 L743.4,295.1 L742.4,294.9 L741.3,294.7 L740.3,294.8 L739.2,295.3 L738.2,295.5 L737.2,295.8 L736.1,295.8 L735.1,295.6 L734.0,295.6 L733.0,296.1 L732.0,295.9 L730.9,296.4 L729.9,296.4 L728.8,296.5 L727.8,296.6 L726.8,296.3 L725.7,296.7 L724.7,297.4 L723.6,297.3 L722.6,297.2 L721.6,297.6 L720.5,297.4 L719.5,297.7 L718.4,297.4 L717.4,298.2 L716.4,298.2 L715.3,298.2 L714.3,297.9 L713.2,298.1 L712.2,298.5 L711.2,298.0 L710.1,298.5 L709.1,298.7 L708.0,298.3 L707.0,298.7 L706.0,298.5 L704.9,299.0 L703.9,298.7 L702.8,299.0 L701.8,299.7 L700.8,299.1 L699.7,299.6 L698.7,299.8 L697.7,299.6 L696.6,300.2 L695.6,299.6 L694.5,300.1 L693.5,300.3 L692.5,300.9 L691.4,300.7 L690.4,300.9 L689.4,301.0 L688.3,300.8 L687.3,301.1 L686.3,301.6 L685.2,301.5 L684.2,301.7 L683.2,301.8 L682.1,301.5 L681.1,301.8 L680.1,302.3 L679.0,301.8 L678.0,302.3 L677.0,302.9 L675.9,302.0 L674.9,302.9 L673.9,302.8 L672.8,303.2 L671.8,304.1 L670.8,303.3 L669.7,303.2 L668.7,304.3 L667.7,304.2 L666.6,304.1 L665.6,303.7 L664.6,304.0 L663.6,304.0 L662.5,304.7 L661.5,304.4 L660.5,305.1 L659.4,304.9 L658.4,305.8 L657.4,305.5 L656.4,305.5 L655.3,305.8 L654.3,306.1 L653.3,306.0 L652.2,306.0 L651.2,306.1 L650.2,306.3 L649.2,306.5 L648.1,306.4 L647.1,306.8 L646.1,306.6 L645.1,307.1 L644.0,306.5 L643.0,307.0 L642.0,307.0 L640.9,307.1 L639.9,307.3 L638.8,307.5 L637.8,307.6 L636.8,307.2 L635.7,306.8 L634.7,307.3 L633.6,306.6 L632.6,307.0 L631.5,307.5 L630.5,307.5 L629.5,307.8 L628.4,307.8 L627.4,307.5 L626.3,307.9 L625.3,307.1 L624.3,307.9 L623.2,307.6 L622.2,307.7 L621.1,307.6 L620.1,307.8 L619.1,308.1 L618.0,307.9 L617.0,308.2 L616.0,308.7 L615.0,309.2 L614.0,309.1 L612.9,309.0 L612.0,309.9 L611.0,309.8 L610.1,310.3 L609.2,310.8 L608.3,311.5 L607.4,311.8 L606.7,312.4 L606.1,313.7 L605.6,314.1 L605.1,315.0 L604.6,315.7 L604.3,317.0 L604.0,317.7 L603.9,319.1 L603.8,320.0 L603.6,321.3 L603.5,321.1Z" fill="#f3a08c" opacity="0.95"/>
<path d="M599.7,327.8 L600.2,327.4 L601.0,326.7 L601.8,326.1 L602.5,325.3 L602.9,324.6 L603.2,323.4 L603.3,322.3 L603.5,321.2 L603.6,320.5 L603.8,319.5 L603.9,318.5 L604.0,317.3 L604.3,316.3 L604.6,315.2 L605.1,314.4 L605.6,313.6 L606.1,312.7 L606.7,311.9 L607.4,311.2 L608.3,310.5 L609.2,310.0 L610.1,309.5 L611.0,309.1 L612.0,308.8 L612.9,308.3 L614.0,308.0 L615.0,307.7 L616.0,307.6 L617.0,307.3 L618.0,307.1 L619.1,307.0 L620.1,306.9 L621.1,306.8 L622.2,306.7 L623.2,306.6 L624.3,306.4 L625.3,306.1 L626.3,306.1 L627.4,306.2 L628.4,306.3 L629.5,306.1 L630.5,305.9 L631.5,305.7 L632.6,305.6 L633.6,305.5 L634.7,305.6 L635.7,305.4 L636.8,305.5 L637.8,305.5 L638.8,305.7 L639.9,305.5 L640.9,305.4 L642.0,305.1 L643.0,305.0 L644.0,304.8 L645.1,304.8 L646.1,304.6 L647.1,304.4 L648.1,304.1 L649.2,303.9 L650.2,303.6 L651.2,303.5 L652.2,303.4 L653.3,303.3 L654.3,303.0 L655.3,302.8 L656.4,302.7 L657.4,302.5 L658.4,302.6 L659.4,302.4 L660.5,302.0 L661.5,301.7 L662.5,301.3 L663.6,301.1 L664.6,300.9 L665.6,300.9 L666.6,300.9 L667.7,300.7 L668.7,300.5 L669.7,300.2 L670.8,300.0 L671.8,299.7 L672.8,299.5 L673.9,299.4 L674.9,299.3 L675.9,299.2 L677.0,299.0 L678.0,298.8 L679.0,298.6 L680.1,298.5 L681.1,298.4 L682.1,298.2 L683.2,298.1 L684.2,298.0 L685.2,298.1 L686.3,298.0 L687.3,297.8 L688.3,297.5 L689.4,297.2 L690.4,297.0 L691.4,297.0 L692.5,297.2 L693.5,296.8 L694.5,296.5 L695.6,296.2 L696.6,296.2 L697.7,296.2 L698.7,296.1 L699.7,296.0 L700.8,295.9 L701.8,295.6 L702.8,295.5 L703.9,295.3 L704.9,295.4 L706.0,295.2 L707.0,295.2 L708.0,295.1 L709.1,295.1 L710.1,295.0 L711.2,294.8 L712.2,294.7 L713.2,294.6 L714.3,294.8 L715.3,294.7 L716.4,294.6 L717.4,294.4 L718.4,294.2 L719.5,294.1 L720.5,294.1 L721.6,294.1 L722.6,293.9 L723.6,294.0 L724.7,293.9 L725.7,293.7 L726.8,293.6 L727.8,293.3 L728.8,293.4 L729.9,293.1 L730.9,293.0 L732.0,292.8 L733.0,292.7 L734.0,292.4 L735.1,292.5 L736.1,292.5 L737.2,292.6 L738.2,292.5 L739.2,292.3 L740.3,292.0 L741.3,291.9 L742.4,291.9 L743.4,292.0 L744.4,292.0 L745.5,291.9 L746.5,291.8 L747.6,291.4 L748.6,291.3 L749.7,291.3 L750.7,291.3 L751.7,291.2 L752.8,291.1 L753.8,291.0 L754.9,291.0 L755.9,291.1 L756.9,291.1 L758.0,290.9 L759.0,290.8 L760.1,290.7 L761.1,290.7 L762.1,290.6 L763.2,290.5 L764.2,290.2 L765.3,290.1 L766.3,289.8 L767.3,289.5 L768.4,289.6 L769.4,289.8 L770.5,289.9 L771.5,289.6 L772.5,289.3 L773.5,289.1 L774.6,289.0 L775.6,288.7 L776.6,288.5 L777.6,287.9 L778.7,287.9 L779.7,287.8 L780.7,287.9 L781.7,287.5 L782.7,287.2 L783.7,286.8 L784.7,286.6 L785.7,286.4 L786.7,286.3 L787.7,286.1 L788.7,285.5 L789.7,285.1 L790.7,284.8 L791.7,284.6 L792.4,284.3" fill="none" stroke="#e8431f" stroke-width="1.4"/>
<path d="M792.7,284.3 L792.8,284.9 L792.9,286.1 L792.9,287.2 L792.8,288.3 L792.6,289.3 L792.2,290.3 L791.8,291.3 L791.4,292.2 L790.9,293.1 L790.4,294.0 L789.9,294.8 L789.3,295.6 L788.8,296.5 L788.2,297.4 L787.7,298.3 L787.1,299.1 L786.5,300.2 L785.9,301.0 L785.3,301.8 L784.6,302.6 L783.9,303.3 L783.1,304.0 L782.3,304.6 L781.3,305.0 L780.3,305.4 L779.4,305.7 L778.3,306.0 L777.3,305.9 L776.2,306.0 L775.2,306.0 L774.1,306.1 L773.1,306.0 L772.1,306.0 L771.0,306.1 L770.0,306.2 L768.9,306.3 L767.9,306.3 L766.8,306.3 L765.8,306.3 L764.7,306.4 L763.7,306.6 L762.6,306.6 L761.6,306.7 L760.5,306.6 L759.5,306.7 L758.4,306.8 L757.4,307.0 L756.4,307.1 L755.3,307.2 L754.3,307.3 L753.2,307.5 L752.2,307.6 L751.2,307.9 L750.1,308.0 L749.1,308.2 L748.0,308.2 L747.0,308.4 L746.0,308.6 L744.9,308.8 L743.9,308.9 L742.8,308.9 L741.8,309.0 L740.8,309.2 L739.7,309.4 L738.7,309.4 L737.6,309.4 L736.6,309.4 L735.5,309.7 L734.5,309.9 L733.5,310.2 L732.4,310.4 L731.4,310.5 L730.3,310.6 L729.3,310.6 L728.3,310.9 L727.2,310.9 L726.2,311.1 L725.1,311.2 L724.1,311.4 L723.1,311.5 L722.0,311.6 L721.0,311.7 L719.9,311.8 L718.9,311.9 L717.9,312.1 L716.8,312.2 L715.8,312.4 L714.7,312.7 L713.7,312.8 L712.7,313.0 L711.6,313.0 L710.6,313.1 L709.5,313.3 L708.5,313.4 L707.5,313.5 L706.4,313.5 L705.4,313.6 L704.3,313.8 L703.3,314.0 L702.3,314.2 L701.2,314.3 L700.2,314.4 L699.1,314.5 L698.1,314.7 L697.1,314.9 L696.0,315.0 L695.0,315.3 L693.9,315.3 L692.9,315.5 L691.9,315.6 L690.8,315.8 L689.8,315.8 L688.7,316.0 L687.7,316.1 L686.7,316.4 L685.6,316.5 L684.6,316.6 L683.5,316.7 L682.5,316.8 L681.5,316.9 L680.4,317.1 L679.4,317.2 L678.3,317.3 L677.3,317.5 L676.3,317.7 L675.2,317.9 L674.2,317.9 L673.1,317.9 L672.1,318.0 L671.1,318.1 L670.0,318.5 L669.0,318.6 L667.9,318.7 L666.9,318.9 L665.9,319.2 L664.8,319.3 L663.8,319.5 L662.7,319.6 L661.7,319.7 L660.7,319.8 L659.6,320.0 L658.6,320.1 L657.5,320.3 L656.5,320.3 L655.5,320.4 L654.4,320.7 L653.4,320.9 L652.4,321.1 L651.3,321.0 L650.3,321.2 L649.2,321.3 L648.2,321.4 L647.2,321.6 L646.1,321.9 L645.1,322.1 L644.0,322.3 L643.0,322.3 L642.0,322.5 L640.9,322.6 L639.9,322.8 L638.8,322.9 L637.8,323.0 L636.8,323.1 L635.7,323.3 L634.7,323.5 L633.6,323.5 L632.6,323.6 L631.6,323.8 L630.5,324.0 L629.5,324.1 L628.4,324.2 L627.4,324.3 L626.4,324.5 L625.3,324.7 L624.3,324.8 L623.3,325.0 L622.2,325.0 L621.2,325.0 L620.1,325.1 L619.1,325.4 L618.1,325.5 L617.0,325.8 L616.0,325.9 L614.9,326.1 L613.9,326.1 L612.9,326.4 L611.8,326.5 L610.8,326.8 L609.7,326.8 L608.7,327.0 L607.7,327.2 L606.6,327.4 L605.6,327.6 L604.6,327.8 L603.5,328.0 L602.5,328.1 L601.5,328.2 L600.4,328.4 L599.7,328.6" fill="none" stroke="#e8431f" stroke-width="1.3"/>
<path d="M610.5,307.5 L611.8,306.1 L613.0,306.2 L614.3,307.2 L615.6,306.8 L616.9,306.1 L618.2,305.9 L619.5,305.6 L620.8,306.7 L622.1,306.3 L623.4,306.2 L624.7,305.8 L626.0,306.1 L627.3,305.5 L628.6,305.5 L629.9,305.5 L631.2,306.2 L632.5,305.7 L633.8,305.7 L635.1,305.5 L636.4,304.9 L637.7,305.5 L639.0,305.1 L640.3,305.7 L641.6,305.0 L642.9,304.9 L644.2,305.6 L645.5,305.3 L646.8,305.3 L648.1,305.7 L649.4,305.3 L650.7,305.3 L652.0,305.6 L653.3,305.2 L654.6,305.2 L655.9,305.5 L657.2,305.9 L658.5,305.1 L659.8,305.8 L661.1,305.3 L662.4,304.8 L663.7,304.8 L665.0,305.6 L666.2,305.1 L667.5,305.0 L668.8,304.9 L670.1,304.8 L671.4,304.8 L672.7,304.7 L674.0,304.5 L675.3,304.2 L676.6,304.0 L677.9,305.2 L679.2,303.9 L680.5,304.7 L681.8,304.0 L683.1,304.7 L684.4,304.3 L685.7,304.5 L687.0,303.9 L688.3,304.0 L689.6,304.3 L690.9,304.4 L692.2,304.5 L693.5,304.9 L694.8,304.9 L696.1,304.8 L697.4,304.6 L698.7,304.7 L700.0,305.1 L701.3,304.5 L702.6,304.4 L703.9,304.1 L705.2,304.8 L706.5,304.3 L707.8,304.0 L709.1,304.4 L710.4,304.2 L711.7,303.6 L713.0,303.9 L714.3,304.0 L715.6,304.4 L716.9,304.4 L718.2,303.8 L719.5,303.8 L720.8,303.9 L722.0,303.8 L723.3,303.6 L724.6,303.6 L725.9,303.5 L727.2,303.7 L728.5,304.3 L729.8,303.9 L731.1,304.2 L732.4,303.5 L733.7,303.3 L735.0,303.5 L736.3,303.8 L737.6,303.9 L738.9,304.3 L740.2,303.5 L741.5,303.0 L742.8,303.8 L744.1,303.0 L745.4,303.7 L746.7,304.1 L748.0,303.4 L749.3,303.3 L750.6,303.2 L751.9,303.4 L753.2,302.8 L754.5,303.5 L755.8,303.2 L757.1,302.9 L758.4,303.3 L759.7,303.6 L761.0,303.6 L762.3,303.2 L763.6,303.2 L764.9,304.0 L766.2,303.7 L767.5,302.7 L768.8,303.9 L770.1,303.0 L771.4,303.1 L772.7,302.9 L774.0,303.8 L775.3,303.3 L776.6,303.6 L777.9,302.8 L779.2,303.4 L780.5,303.1 L781.8,303.5 L783.1,303.1 L784.4,303.7 L785.7,303.1 L787.0,302.9 L788.3,302.9 L789.6,302.4 L790.9,302.7 L792.2,302.4 L793.5,302.3 L794.8,302.0 L796.1,302.9 L797.4,302.9 L798.7,303.1 L800.0,303.0 L801.3,303.1 L802.6,302.5 L803.9,302.7 L805.2,302.9 L806.5,302.9 L807.8,302.7 L809.1,303.7 L810.4,302.3 L811.7,303.0 L812.9,302.6 L814.2,302.4 L815.5,302.6 L816.8,303.2 L818.1,302.6 L819.4,302.1 L820.7,302.1 L822.0,302.2 L823.3,302.6 L824.6,302.4 L825.9,302.0 L827.2,302.0 L828.5,302.5 L829.8,302.9 L831.1,303.2 L832.4,301.9 L833.7,302.7 L835.0,302.3 L836.3,302.1 L837.6,301.4 L838.9,302.0 L840.2,302.1 L841.5,301.9 L842.8,302.0 L844.1,301.9 L845.4,302.1 L846.7,302.5 L848.0,302.7 L849.3,302.0 L850.6,302.2 L851.9,301.7 L853.2,302.4 L854.5,301.8 L855.8,302.2 L857.1,302.1 L858.4,301.2 L859.7,301.5 L861.0,301.6 L862.3,301.5 L863.6,302.1 L864.9,301.9 L866.2,302.0 L867.5,301.3 L868.8,301.6 L870.1,301.5 L871.4,301.2 L872.7,301.9 L874.0,302.0 L875.3,302.3 L876.6,301.5 L877.9,301.3 L879.2,301.5 L880.5,300.9 L881.8,301.6 L883.1,301.0 L884.4,301.7 L885.7,301.6 L887.0,301.3 L888.3,300.7 L889.6,301.4 L890.9,301.0 L892.2,301.2 L893.5,300.3 L894.8,301.0 L896.1,300.8 L897.4,300.1 L898.7,300.7 L900.0,301.4 L901.2,301.1 L902.5,301.2 L903.8,300.0 L905.1,300.8 L906.4,300.2 L907.7,300.4 L909.0,300.5 L910.3,300.3 L911.6,300.4 L912.9,300.5 L914.2,300.6 L915.5,300.5 L916.8,300.4 L918.1,300.3 L919.4,300.0 L920.7,300.2 L922.0,300.0 L923.3,300.1 L924.6,299.0 L925.9,299.6 L927.2,299.4 L928.5,298.8 L929.8,299.2 L931.0,299.0 L932.3,298.7 L933.6,298.8 L934.9,298.7 L936.2,298.2 L937.5,298.2 L938.8,298.3 L940.1,298.4 L941.4,298.0 L942.7,298.3 L943.9,297.8 L945.2,297.8 L946.5,297.2 L947.8,296.6 L949.1,296.7 L950.3,296.3 L951.6,296.5 L952.9,296.5 L954.2,296.1 L955.5,295.7 L956.8,295.3 L958.0,294.9 L959.3,294.6 L960.6,295.5 L961.9,294.1 L963.1,294.0 L964.4,293.5 L965.7,293.3 L967.0,293.0 L968.2,292.4 L969.5,292.9 L970.8,292.2 L972.1,292.4 L973.3,292.2 L974.6,292.1 L975.9,291.7 L977.2,291.7 L978.4,291.1 L979.7,291.2 L981.0,291.1 L982.3,290.7 L983.5,290.7 L984.4,289.8 L984.4,291.9 L983.5,292.4 L982.3,292.8 L981.0,292.9 L979.7,292.9 L978.4,293.3 L977.2,294.0 L975.9,294.1 L974.6,294.3 L973.3,294.9 L972.1,294.8 L970.8,295.0 L969.5,295.5 L968.2,295.6 L967.0,295.6 L965.7,296.1 L964.4,295.8 L963.1,297.2 L961.9,297.0 L960.6,297.2 L959.3,297.2 L958.0,297.4 L956.8,298.1 L955.5,298.8 L954.2,298.7 L952.9,299.1 L951.6,299.2 L950.3,299.4 L949.1,298.9 L947.8,299.6 L946.5,300.5 L945.2,300.1 L943.9,300.2 L942.7,300.3 L941.4,300.5 L940.1,300.6 L938.8,301.1 L937.5,300.9 L936.2,301.6 L934.9,301.7 L933.6,301.3 L932.3,302.0 L931.0,301.8 L929.8,302.1 L928.5,301.2 L927.2,302.0 L925.9,302.5 L924.6,302.3 L923.3,302.5 L922.0,303.5 L920.7,303.3 L919.4,302.3 L918.1,302.6 L916.8,303.1 L915.5,303.1 L914.2,303.9 L912.9,303.2 L911.6,303.1 L910.3,302.9 L909.0,302.9 L907.7,302.8 L906.4,302.5 L905.1,303.1 L903.8,303.0 L902.5,303.3 L901.2,303.7 L900.0,303.9 L898.7,303.2 L897.4,303.1 L896.1,303.4 L894.8,304.1 L893.5,303.7 L892.2,303.3 L890.9,302.9 L889.6,303.8 L888.3,303.9 L887.0,304.0 L885.7,303.9 L884.4,303.9 L883.1,303.1 L881.8,302.9 L880.5,303.4 L879.2,303.5 L877.9,303.9 L876.6,303.7 L875.3,304.9 L874.0,304.8 L872.7,304.9 L871.4,304.3 L870.1,303.7 L868.8,304.3 L867.5,303.9 L866.2,304.1 L864.9,304.3 L863.6,304.2 L862.3,304.2 L861.0,303.9 L859.7,304.1 L858.4,304.4 L857.1,304.1 L855.8,304.0 L854.5,304.2 L853.2,304.2 L851.9,304.9 L850.6,304.5 L849.3,304.3 L848.0,303.9 L846.7,305.2 L845.4,304.4 L844.1,304.1 L842.8,304.8 L841.5,304.4 L840.2,304.4 L838.9,304.9 L837.6,304.6 L836.3,305.2 L835.0,304.8 L833.7,305.1 L832.4,304.5 L831.1,305.2 L829.8,305.0 L828.5,304.9 L827.2,304.2 L825.9,304.3 L824.6,304.8 L823.3,304.6 L822.0,305.1 L820.7,304.6 L819.4,305.3 L818.1,305.1 L816.8,304.9 L815.5,304.7 L814.2,305.0 L812.9,305.3 L811.7,304.4 L810.4,304.8 L809.1,305.3 L807.8,304.7 L806.5,304.7 L805.2,304.9 L803.9,305.3 L802.6,304.9 L801.3,305.4 L800.0,305.4 L798.7,305.3 L797.4,304.9 L796.1,305.0 L794.8,305.3 L793.5,305.4 L792.2,304.6 L790.9,304.9 L789.6,305.7 L788.3,305.1 L787.0,304.6 L785.7,305.7 L784.4,305.3 L783.1,305.4 L781.8,305.5 L780.5,305.6 L779.2,305.6 L777.9,305.8 L776.6,305.8 L775.3,305.6 L774.0,305.3 L772.7,305.8 L771.4,306.3 L770.1,305.3 L768.8,305.8 L767.5,305.7 L766.2,305.9 L764.9,305.3 L763.6,305.8 L762.3,305.5 L761.0,305.2 L759.7,305.2 L758.4,305.5 L757.1,306.0 L755.8,306.4 L754.5,306.0 L753.2,305.8 L751.9,306.1 L750.6,306.0 L749.3,306.4 L748.0,306.1 L746.7,306.6 L745.4,306.0 L744.1,305.5 L742.8,305.8 L741.5,305.9 L740.2,306.0 L738.9,306.6 L737.6,306.2 L736.3,305.2 L735.0,306.0 L733.7,306.2 L732.4,305.8 L731.1,306.1 L729.8,305.9 L728.5,306.6 L727.2,306.7 L725.9,305.8 L724.6,306.1 L723.3,305.9 L722.0,306.4 L720.8,306.2 L719.5,306.5 L718.2,305.8 L716.9,306.8 L715.6,306.9 L714.3,306.1 L713.0,305.3 L711.7,306.3 L710.4,306.4 L709.1,306.9 L707.8,307.7 L706.5,307.1 L705.2,306.4 L703.9,306.4 L702.6,307.1 L701.3,307.4 L700.0,306.8 L698.7,306.8 L697.4,307.4 L696.1,307.3 L694.8,307.3 L693.5,307.2 L692.2,307.2 L690.9,306.5 L689.6,306.9 L688.3,306.2 L687.0,306.8 L685.7,306.7 L684.4,306.3 L683.1,306.6 L681.8,306.9 L680.5,307.3 L679.2,307.2 L677.9,306.7 L676.6,306.2 L675.3,306.8 L674.0,307.0 L672.7,306.9 L671.4,307.5 L670.1,307.4 L668.8,306.9 L667.5,307.0 L666.2,307.3 L665.0,307.6 L663.7,307.3 L662.4,307.2 L661.1,307.0 L659.8,307.7 L658.5,307.2 L657.2,307.2 L655.9,307.2 L654.6,307.2 L653.3,307.5 L652.0,306.5 L650.7,307.1 L649.4,307.3 L648.1,306.8 L646.8,306.8 L645.5,307.1 L644.2,307.4 L642.9,307.2 L641.6,306.8 L640.3,306.8 L639.0,306.7 L637.7,306.6 L636.4,306.7 L635.1,306.7 L633.8,307.1 L632.5,306.6 L631.2,306.4 L629.9,306.8 L628.6,306.3 L627.3,307.3 L626.0,306.6 L624.7,307.0 L623.4,307.1 L622.1,307.1 L620.8,307.6 L619.5,307.5 L618.2,307.1 L616.9,307.0 L615.6,307.7 L614.3,306.9 L613.0,307.0 L611.8,307.4 L610.5,307.5Z" fill="#7fd6c9" opacity="0.9"/>
<path d="M600.4,313.6 L601.2,313.1 L602.1,312.5 L602.9,311.4 L603.6,310.6 L604.5,309.5 L605.5,309.1 L606.7,308.6 L607.9,308.2 L609.2,307.7 L610.5,307.3 L611.8,307.0 L613.0,307.0 L614.3,306.9 L615.6,307.0 L616.9,306.7 L618.2,306.7 L619.5,306.5 L620.8,306.5 L622.1,306.4 L623.4,306.5 L624.7,306.4 L626.0,306.2 L627.3,306.1 L628.6,306.1 L629.9,306.2 L631.2,306.4 L632.5,306.4 L633.8,306.3 L635.1,305.9 L636.4,305.9 L637.7,306.0 L639.0,306.2 L640.3,306.2 L641.6,306.2 L642.9,306.1 L644.2,306.1 L645.5,306.2 L646.8,306.2 L648.1,306.2 L649.4,306.4 L650.7,306.3 L652.0,306.2 L653.3,306.1 L654.6,306.3 L655.9,306.3 L657.2,306.6 L658.5,306.5 L659.8,306.5 L661.1,306.3 L662.4,306.1 L663.7,306.1 L665.0,306.0 L666.2,306.0 L667.5,306.0 L668.8,305.9 L670.1,306.0 L671.4,306.1 L672.7,305.9 L674.0,305.7 L675.3,305.7 L676.6,305.5 L677.9,305.8 L679.2,305.7 L680.5,305.7 L681.8,305.4 L683.1,305.4 L684.4,305.3 L685.7,305.3 L687.0,305.5 L688.3,305.5 L689.6,305.5 L690.9,305.5 L692.2,305.8 L693.5,305.8 L694.8,305.9 L696.1,305.7 L697.4,306.0 L698.7,305.9 L700.0,306.0 L701.3,305.8 L702.6,305.8 L703.9,305.7 L705.2,305.8 L706.5,305.6 L707.8,305.8 L709.1,305.5 L710.4,305.3 L711.7,305.0 L713.0,305.0 L714.3,305.2 L715.6,305.4 L716.9,305.4 L718.2,305.2 L719.5,304.9 L720.8,304.8 L722.0,304.9 L723.3,304.8 L724.6,304.9 L725.9,305.0 L727.2,305.4 L728.5,305.2 L729.8,305.0 L731.1,304.8 L732.4,304.7 L733.7,304.6 L735.0,304.5 L736.3,304.7 L737.6,304.8 L738.9,305.0 L740.2,304.9 L741.5,304.7 L742.8,304.6 L744.1,304.7 L745.4,304.8 L746.7,304.9 L748.0,304.8 L749.3,304.8 L750.6,304.5 L751.9,304.6 L753.2,304.5 L754.5,304.6 L755.8,304.6 L757.1,304.3 L758.4,304.2 L759.7,304.2 L761.0,304.2 L762.3,304.2 L763.6,304.5 L764.9,304.7 L766.2,304.7 L767.5,304.3 L768.8,304.5 L770.1,304.3 L771.4,304.4 L772.7,304.3 L774.0,304.5 L775.3,304.6 L776.6,304.4 L777.9,304.4 L779.2,304.3 L780.5,304.4 L781.8,304.4 L783.1,304.4 L784.4,304.4 L785.7,304.4 L787.0,304.3 L788.3,304.1 L789.6,304.1 L790.9,304.0 L792.2,303.8 L793.5,303.6 L794.8,303.8 L796.1,303.9 L797.4,303.9 L798.7,304.2 L800.0,304.3 L801.3,304.3 L802.6,304.0 L803.9,304.0 L805.2,303.9 L806.5,304.1 L807.8,304.0 L809.1,304.2 L810.4,303.9 L811.7,304.0 L812.9,303.6 L814.2,303.7 L815.5,303.7 L816.8,303.9 L818.1,303.7 L819.4,303.7 L820.7,303.6 L822.0,303.8 L823.3,303.6 L824.6,303.5 L825.9,303.5 L827.2,303.6 L828.5,303.7 L829.8,303.8 L831.1,303.8 L832.4,303.6 L833.7,303.4 L835.0,303.6 L836.3,303.6 L837.6,303.6 L838.9,303.2 L840.2,303.2 L841.5,303.2 L842.8,303.4 L844.1,303.5 L845.4,303.5 L846.7,303.5 L848.0,303.2 L849.3,303.2 L850.6,303.2 L851.9,303.3 L853.2,303.2 L854.5,303.0 L855.8,303.1 L857.1,303.0 L858.4,302.9 L859.7,302.8 L861.0,302.8 L862.3,302.9 L863.6,303.0 L864.9,303.0 L866.2,303.0 L867.5,303.1 L868.8,302.9 L870.1,302.9 L871.4,302.8 L872.7,303.0 L874.0,303.2 L875.3,303.0 L876.6,302.9 L877.9,302.6 L879.2,302.6 L880.5,302.4 L881.8,302.3 L883.1,302.3 L884.4,302.4 L885.7,302.4 L887.0,302.5 L888.3,302.3 L889.6,302.3 L890.9,301.9 L892.2,302.1 L893.5,302.2 L894.8,302.4 L896.1,302.2 L897.4,302.0 L898.7,302.1 L900.0,302.1 L901.2,302.2 L902.5,302.1 L903.8,301.9 L905.1,301.7 L906.4,301.7 L907.7,301.6 L909.0,301.7 L910.3,301.7 L911.6,301.7 L912.9,301.7 L914.2,301.6 L915.5,301.7 L916.8,301.5 L918.1,301.5 L919.4,301.4 L920.7,301.6 L922.0,301.5 L923.3,301.4 L924.6,301.0 L925.9,300.8 L927.2,300.5 L928.5,300.5 L929.8,300.4 L931.0,300.4 L932.3,300.4 L933.6,300.2 L934.9,300.0 L936.2,299.9 L937.5,299.7 L938.8,299.6 L940.1,299.4 L941.4,299.3 L942.7,299.2 L943.9,298.9 L945.2,298.9 L946.5,298.7 L947.8,298.3 L949.1,297.8 L950.3,297.6 L951.6,297.6 L952.9,297.4 L954.2,297.4 L955.5,297.2 L956.8,296.8 L958.0,296.3 L959.3,295.8 L960.6,295.9 L961.9,295.7 L963.1,295.6 L964.4,295.1 L965.7,294.8 L967.0,294.6 L968.2,294.4 L969.5,294.2 L970.8,293.8 L972.1,293.8 L973.3,293.6 L974.6,293.2 L975.9,292.7 L977.2,292.5 L978.4,292.4 L979.7,292.1 L981.0,291.8 L982.3,291.5 L983.5,291.3 L984.4,291.3" fill="none" stroke="#19b5a1" stroke-width="1.4"/>
<path d="M985.1,291.3 L985.5,292.0 L985.9,293.3 L986.0,294.7 L985.7,296.1 L985.2,297.3 L984.6,298.6 L983.9,299.6 L983.1,300.7 L982.1,301.4 L981.1,302.2 L979.9,302.9 L978.7,303.6 L977.5,304.2 L976.3,304.5 L975.0,304.8 L973.7,305.2 L972.5,305.7 L971.2,306.0 L969.9,306.1 L968.6,306.2 L967.3,306.5 L966.0,306.8 L964.7,307.1 L963.4,307.3 L962.0,307.3 L960.7,307.3 L959.4,307.6 L958.1,307.8 L956.8,308.0 L955.5,307.9 L954.1,308.0 L952.8,308.0 L951.5,308.1 L950.2,308.2 L948.8,308.2 L947.5,308.3 L946.2,308.2 L944.9,308.4 L943.6,308.3 L942.2,308.4 L940.9,308.2 L939.6,308.2 L938.3,308.1 L936.9,308.1 L935.6,308.2 L934.3,308.3 L933.0,308.5 L931.6,308.5 L930.3,308.6 L929.0,308.6 L927.7,308.6 L926.3,308.6 L925.0,308.6 L923.7,308.7 L922.4,308.8 L921.0,308.8 L919.7,308.8 L918.4,308.7 L917.1,308.8 L915.8,308.8 L914.4,309.1 L913.1,309.0 L911.8,309.0 L910.5,308.9 L909.1,308.9 L907.8,309.0 L906.5,309.0 L905.2,309.0 L903.8,309.1 L902.5,309.1 L901.2,309.0 L899.9,309.0 L898.5,308.8 L897.2,309.1 L895.9,309.1 L894.6,309.2 L893.2,309.2 L891.9,309.1 L890.6,309.1 L889.3,309.1 L887.9,309.2 L886.6,309.1 L885.3,309.1 L884.0,309.1 L882.7,309.0 L881.3,308.9 L880.0,308.8 L878.7,308.9 L877.4,309.1 L876.0,309.2 L874.7,309.1 L873.4,309.1 L872.1,309.1 L870.7,309.0 L869.4,309.1 L868.1,309.4 L866.8,309.6 L865.4,309.8 L864.1,309.7 L862.8,309.7 L861.5,309.6 L860.2,309.6 L858.8,309.6 L857.5,309.6 L856.2,309.5 L854.9,309.6 L853.5,309.9 L852.2,309.9 L850.9,309.7 L849.6,309.6 L848.2,309.4 L846.9,309.5 L845.6,309.5 L844.3,309.4 L842.9,309.1 L841.6,309.2 L840.3,309.3 L839.0,309.5 L837.6,309.4 L836.3,309.4 L835.0,309.6 L833.7,309.6 L832.4,309.7 L831.0,309.7 L829.7,309.9 L828.4,310.0 L827.1,310.1 L825.7,310.2 L824.4,310.2 L823.1,310.3 L821.8,310.4 L820.4,310.3 L819.1,310.2 L817.8,310.2 L816.5,310.1 L815.1,310.1 L813.8,310.1 L812.5,310.0 L811.2,310.1 L809.9,310.1 L808.5,310.2 L807.2,310.3 L805.9,310.4 L804.6,310.5 L803.2,310.6 L801.9,310.5 L800.6,310.2 L799.3,310.1 L797.9,310.1 L796.6,310.2 L795.3,310.1 L794.0,310.1 L792.6,310.2 L791.3,310.5 L790.0,310.8 L788.7,310.8 L787.3,310.7 L786.0,310.5 L784.7,310.5 L783.4,310.7 L782.1,310.8 L780.7,311.0 L779.4,311.1 L778.1,311.2 L776.8,311.4 L775.5,311.3 L774.1,311.4 L772.8,311.2 L771.5,311.2 L770.2,311.1 L768.8,310.9 L767.5,310.8 L766.2,310.6 L764.9,310.6 L763.6,310.6 L762.2,310.4 L760.9,310.3 L759.6,310.1 L758.3,310.2 L757.0,310.2 L755.6,310.3 L754.3,310.4 L753.0,310.7 L751.7,310.7 L750.3,310.6 L749.0,310.8 L747.7,310.8 L746.4,311.0 L745.1,310.9 L743.7,311.1 L742.4,311.2 L741.1,311.1 L739.8,311.1 L738.4,311.1 L737.1,311.4 L735.8,311.4 L734.5,311.5 L733.2,311.4 L731.8,311.5 L730.5,311.5 L729.2,311.5 L727.9,311.4 L726.5,311.4 L725.2,311.5 L723.9,311.7 L722.6,311.7 L721.2,311.8 L719.9,311.8 L718.6,311.9 L717.3,311.8 L715.9,312.1 L714.6,312.0 L713.3,312.0 L712.0,311.8 L710.7,311.9 L709.3,312.1 L708.0,312.1 L706.7,312.1 L705.4,312.2 L704.0,312.2 L702.7,312.2 L701.4,312.1 L700.1,311.9 L698.7,311.9 L697.4,312.0 L696.1,312.1 L694.8,311.9 L693.4,311.8 L692.1,311.7 L690.8,311.9 L689.5,311.8 L688.1,312.0 L686.8,311.9 L685.5,312.2 L684.2,312.3 L682.8,312.2 L681.5,312.0 L680.2,312.0 L678.9,312.0 L677.6,312.1 L676.2,312.1 L674.9,312.4 L673.6,312.5 L672.3,312.4 L670.9,312.4 L669.6,312.4 L668.3,312.6 L667.0,312.5 L665.6,312.4 L664.3,312.5 L663.0,312.6 L661.7,312.8 L660.3,313.0 L659.0,313.0 L657.7,312.8 L656.4,312.8 L655.1,312.6 L653.7,312.6 L652.4,312.6 L651.1,313.1 L649.8,313.1 L648.4,313.1 L647.1,312.9 L645.8,313.0 L644.5,313.0 L643.1,313.0 L641.8,313.1 L640.5,313.1 L639.2,313.3 L637.8,313.2 L636.5,313.2 L635.2,313.1 L633.9,313.2 L632.5,313.3 L631.2,313.4 L629.9,313.4 L628.6,313.4 L627.2,313.3 L625.9,313.3 L624.6,313.2 L623.3,313.3 L622.0,313.5 L620.6,313.5 L619.3,313.3 L618.0,313.1 L616.7,313.1 L615.3,313.1 L614.0,313.0 L612.7,312.9 L611.4,312.6 L610.1,312.6 L608.8,312.7 L607.5,312.9 L606.3,313.1 L605.1,313.6 L603.9,313.8 L602.6,314.2 L601.3,313.9 L600.4,313.9" fill="none" stroke="#19b5a1" stroke-width="1.3"/>
</g><defs>
<clipPath id="cclip"><path d="M179,455 H345 V800 H20 V614 H179 Z"/></clipPath>
<radialGradient id="tread" cx="185" cy="616" r="147" gradientUnits="userSpaceOnUse">
<stop offset="0.90" stop-color="#2b2c2e"/><stop offset="0.935" stop-color="#4a4b4d"/><stop offset="0.975" stop-color="#66676a"/><stop offset="1" stop-color="#4c4d50"/></radialGradient>
<radialGradient id="navy" cx="189" cy="621" r="135" gradientUnits="userSpaceOnUse">
<stop offset="0.3" stop-color="#1d3353"/><stop offset="0.7" stop-color="#1b2e4a"/><stop offset="1" stop-color="#131e2f"/></radialGradient>
<linearGradient id="rimg" x1="0" y1="0" x2="1" y2="1"><stop offset="0" stop-color="#7f8285"/><stop offset="0.5" stop-color="#aeb1b3"/><stop offset="1" stop-color="#7b7e81"/></linearGradient>
<filter id="cb" x="-5%" y="-5%" width="110%" height="110%"><feGaussianBlur stdDeviation="0.45"/></filter>
</defs>
<defs><clipPath id="hubclip"><ellipse cx="184.6" cy="616.2" rx="39.6" ry="40"/></clipPath></defs>
<g id="panelC">
<g>
<path d="M150.5,760.5 L208,762 L230,779.5 L178,785.8 Z" fill="#c9626a"/>
<path d="M178,785.8 L230,779.5 L230,783.5 L178.5,789.5 Z" fill="#9c4450"/>
<path d="M182,752 L196,751 L210,763 L211,772 L197,775.5 L183,763 Z" fill="#d67a7c"/>
<path d="M183,763 L197,775.5 L211,772 L211,775.5 L197,780 L183,768 Z" fill="#b0525c"/>
<path d="M160,765 L200,768 M170,772 L214,775 M176,779 L222,778 M186,756 L200,768 M190,770 L205,766" stroke="#8e3f4a" stroke-width="0.6" fill="none" opacity="0.8"/>
</g>
<g clip-path="url(#cclip)">
<g transform="translate(183.7,614.5) scale(1.015,0.9857) translate(-185,-616)">
<circle cx="185.0" cy="616.0" r="146.5" fill="url(#tread)"/>
</g>
<circle cx="183.7" cy="613.7" r="134.6" fill="#1d1e20"/>
<g transform="translate(183.7,613.5) scale(0.993) translate(-186.2,-616.8)">
<circle cx="186.2" cy="616.8" r="133.5" fill="url(#navy)"/>
<path d="M142.2,728.4L134.0,724.7L135.7,731.9ZM126.9,720.9L119.3,716.2L119.9,723.6ZM112.7,711.4L105.9,705.6L105.5,713.0ZM100.1,700.0L94.1,693.3L92.7,700.5ZM89.2,686.9L84.3,679.4L81.8,686.4ZM80.3,672.3L76.5,664.2L73.1,670.8ZM73.6,656.7L70.9,648.1L66.6,654.1ZM69.1,640.2L67.7,631.4L62.6,636.7ZM67.0,623.3L66.9,614.3L61.1,618.9ZM67.4,606.2L68.6,597.4L62.2,601.0ZM70.2,589.4L72.6,580.8L65.7,583.5ZM75.4,573.2L79.0,565.0L71.8,566.7ZM82.8,557.8L87.5,550.2L80.1,550.9ZM92.3,543.7L98.1,536.8L90.7,536.5ZM103.7,531.0L110.4,525.1L103.2,523.7ZM116.9,520.2L124.3,515.2L117.3,512.8ZM131.4,511.2L139.5,507.4L132.9,504.0ZM147.0,504.5L155.6,501.9L149.6,497.6ZM163.5,500.1L172.3,498.7L167.0,493.5ZM180.4,498.0L189.4,497.9L184.8,492.0ZM197.5,498.4L206.3,499.5L202.7,493.1ZM214.3,501.2L222.9,503.6L220.2,496.7ZM230.5,506.3L238.7,509.9L237.0,502.7ZM245.9,513.7L253.5,518.5L252.8,511.1ZM260.0,523.2L266.9,529.0L267.2,521.6ZM272.7,534.7L278.6,541.4L280.0,534.1ZM283.6,547.8L288.5,555.3L290.9,548.3ZM292.5,562.3L296.3,570.4L299.7,563.9ZM299.2,578.0L301.8,586.6L306.1,580.5ZM303.7,594.5L305.0,603.3L310.2,598.0ZM305.7,611.4L305.8,620.3L311.7,615.8ZM305.3,628.4L304.2,637.3L310.6,633.6ZM302.6,645.2L300.1,653.9L307.0,651.1ZM297.4,661.5L293.8,669.7L301.0,668.0ZM290.0,676.8L285.2,684.4L292.6,683.8ZM280.5,691.0L274.7,697.8L282.1,698.2ZM269.0,703.6L262.3,709.6L269.6,711.0ZM255.9,714.5L248.4,719.4L255.4,721.9ZM241.4,723.4L233.3,727.2L239.8,730.6ZM225.7,730.2L217.2,732.8L223.2,737.1ZM209.3,734.6L200.4,736.0L205.7,741.1ZM192.3,736.7L183.4,736.8L187.9,742.6ZM175.3,736.3L166.4,735.1L170.1,741.6ZM158.5,733.5L149.8,731.1L152.6,738.0ZM255.0,700.5L248.4,705.6L255.3,707.7ZM242.1,709.7L234.8,713.7L241.3,716.9ZM228.0,716.8L220.2,719.7L226.1,723.8ZM212.9,721.8L204.8,723.6L210.1,728.5ZM197.3,724.6L189.0,725.1L193.5,730.7ZM181.5,725.0L173.2,724.2L176.8,730.5ZM165.7,723.0L157.6,721.1L160.3,727.8ZM150.5,718.8L142.7,715.7L144.4,722.7ZM136.0,712.3L128.8,708.1L129.4,715.3ZM122.6,703.8L116.1,698.6L115.7,705.8ZM110.6,693.5L105.0,687.3L103.5,694.4ZM100.3,681.4L95.6,674.5L93.1,681.3ZM91.9,668.0L88.3,660.5L84.8,666.8ZM85.5,653.5L83.0,645.5L78.7,651.3ZM81.4,638.2L80.1,630.0L74.9,635.0ZM79.5,622.5L79.5,614.1L73.6,618.3ZM80.0,606.6L81.2,598.4L74.7,601.7ZM82.8,591.0L85.2,583.0L78.3,585.3ZM87.9,576.0L91.4,568.5L84.3,569.7ZM95.1,561.9L99.7,555.0L92.5,555.2ZM104.3,549.0L109.9,542.8L102.8,542.0ZM115.4,537.6L121.8,532.3L114.8,530.4ZM127.9,528.0L135.1,523.7L128.5,520.8ZM141.8,520.3L149.5,517.1L143.4,513.3ZM156.7,514.8L164.7,512.8L159.3,508.0ZM172.2,511.5L180.4,510.7L175.7,505.2ZM188.0,510.5L196.3,510.9L192.4,504.8ZM203.8,511.8L211.9,513.5L209.0,506.9ZM219.2,515.5L227.0,518.3L225.1,511.4ZM233.9,521.4L241.2,525.4L240.4,518.2ZM247.6,529.4L254.3,534.4L254.4,527.2ZM259.9,539.4L265.8,545.3L267.1,538.2ZM270.7,551.0L275.6,557.7L277.9,550.9ZM279.6,564.1L283.5,571.5L286.8,565.0ZM286.5,578.4L289.3,586.2L293.4,580.3ZM291.2,593.5L292.8,601.7L297.8,596.5ZM293.7,609.2L294.0,617.5L299.7,613.1ZM293.8,625.0L292.9,633.3L299.2,629.8ZM291.5,640.7L289.4,648.8L296.2,646.2ZM287.0,655.9L283.8,663.6L290.8,662.0ZM280.3,670.3L276.0,677.4L283.2,676.9ZM271.6,683.5L266.2,689.9L273.4,690.4ZM261.0,695.3L254.7,700.8L261.8,702.4ZM140.2,534.0L147.2,530.4L141.0,526.9ZM153.7,527.7L161.2,525.3L155.7,520.9ZM168.1,523.7L175.9,522.5L171.1,517.2ZM183.0,521.9L190.8,521.9L186.9,516.0ZM197.9,522.4L205.6,523.6L202.7,517.2ZM212.6,525.3L220.0,527.6L218.1,520.8ZM226.6,530.3L233.6,533.8L232.8,526.8ZM239.7,537.5L246.1,542.0L246.3,535.0ZM251.6,546.6L257.2,552.1L258.5,545.1ZM261.9,557.4L266.6,563.7L268.9,557.1ZM270.4,569.7L274.0,576.7L277.4,570.5ZM276.8,583.2L279.4,590.6L283.7,585.0ZM281.2,597.5L282.5,605.2L287.7,600.3ZM283.2,612.3L283.4,620.1L289.2,616.1ZM283.0,627.2L282.0,635.0L288.3,631.9ZM280.5,642.0L278.2,649.5L285.0,647.4ZM275.7,656.1L272.3,663.2L279.3,662.2ZM268.7,669.4L264.3,675.8L271.4,675.9ZM259.9,681.4L254.5,687.1L261.5,688.3ZM249.2,691.9L243.0,696.7L249.7,698.9ZM237.1,700.6L230.2,704.4L236.5,707.7ZM223.8,707.4L216.4,710.0L222.1,714.2ZM209.6,712.0L201.9,713.5L206.9,718.5ZM194.8,714.3L187.0,714.6L191.1,720.4ZM179.9,714.4L172.1,713.5L175.3,719.8ZM165.1,712.1L157.5,710.0L159.7,716.7ZM150.8,707.6L143.7,704.4L144.8,711.3ZM137.5,700.9L130.9,696.6L131.0,703.7ZM125.3,692.3L119.5,687.0L118.4,694.0ZM114.6,681.9L109.6,675.8L107.5,682.5ZM105.6,669.9L101.7,663.1L98.6,669.5ZM98.6,656.7L95.8,649.4L91.7,655.2ZM93.7,642.6L92.1,634.9L87.1,640.0ZM91.1,627.9L90.6,620.0L85.0,624.3ZM90.7,612.9L91.5,605.1L85.3,608.5ZM92.7,598.1L94.7,590.5L88.0,592.9ZM97.0,583.8L100.1,576.6L93.1,577.9ZM103.4,570.3L107.5,563.6L100.5,563.8ZM111.8,557.9L116.9,552.0L109.9,551.1ZM122.0,547.0L128.0,542.0L121.2,540.0Z" fill="#3a6089"/>
<path d="M150.3,731.2L141.8,728.2L144.0,735.3ZM134.4,724.9L126.5,720.7L127.7,728.0ZM119.6,716.4L112.4,711.2L112.5,718.5ZM106.2,705.9L99.8,699.7L98.9,707.0ZM94.4,693.6L89.0,686.5L87.0,693.6ZM84.5,679.7L80.1,671.9L77.2,678.7ZM76.6,664.6L73.4,656.3L69.5,662.6ZM71.0,648.5L69.0,639.8L64.3,645.5ZM67.8,631.8L67.0,622.9L61.5,627.8ZM66.9,614.8L67.4,605.8L61.3,609.9ZM68.5,597.8L70.3,589.0L63.6,592.2ZM72.5,581.2L75.5,572.8L68.5,575.0ZM78.8,565.4L83.0,557.5L75.7,558.6ZM87.3,550.6L92.6,543.3L85.2,543.5ZM97.8,537.2L104.0,530.7L96.7,529.8ZM110.1,525.4L117.2,519.9L110.1,518.0ZM124.0,515.4L131.8,511.1L125.0,508.1ZM139.1,507.6L147.4,504.4L141.1,500.5ZM155.2,502.0L163.9,500.0L158.2,495.2ZM171.9,498.7L180.8,498.0L175.9,492.5ZM189.0,497.9L197.9,498.4L193.8,492.3ZM205.9,499.5L214.7,501.2L211.5,494.6ZM222.5,503.4L230.9,506.5L228.7,499.4ZM238.3,509.7L246.3,513.9L245.1,506.6ZM253.1,518.2L260.4,523.5L260.2,516.1ZM266.6,528.7L273.0,535.0L273.9,527.6ZM278.3,541.0L283.8,548.1L285.7,541.0ZM288.3,554.9L292.7,562.7L295.6,555.9ZM296.1,570.0L299.3,578.4L303.2,572.1ZM301.7,586.1L303.7,594.9L308.5,589.2ZM305.0,602.9L305.7,611.8L311.2,606.8ZM305.8,619.9L305.3,628.8L311.4,624.7ZM304.3,636.9L302.5,645.6L309.1,642.4ZM300.3,653.5L297.2,661.9L304.3,659.7ZM294.0,669.3L289.8,677.2L297.1,676.0ZM285.5,684.1L280.2,691.3L287.6,691.2ZM275.0,697.5L268.7,703.9L276.1,704.8ZM262.7,709.3L255.6,714.7L262.7,716.7ZM248.8,719.2L241.0,723.6L247.8,726.5ZM233.7,727.1L225.3,730.3L231.6,734.2ZM217.6,732.7L208.8,734.7L214.5,739.4ZM200.8,735.9L191.9,736.7L196.9,742.2ZM183.8,736.8L174.9,736.3L179.0,742.4ZM166.8,735.2L158.1,733.4L161.3,740.1ZM248.7,705.3L241.8,709.9L248.5,712.6ZM235.2,713.5L227.6,717.0L233.8,720.6ZM220.5,719.6L212.5,721.9L218.2,726.4ZM205.2,723.5L196.9,724.6L201.8,729.9ZM189.4,725.1L181.1,724.9L185.1,730.9ZM173.6,724.3L165.3,722.9L168.5,729.4ZM158.0,721.2L150.1,718.7L152.3,725.5ZM143.1,715.8L135.6,712.2L136.8,719.3ZM129.1,708.3L122.3,703.6L122.4,710.8ZM116.4,698.9L110.3,693.2L109.4,700.3ZM105.2,687.6L100.1,681.1L98.0,688.0ZM95.8,674.9L91.7,667.7L88.7,674.2ZM88.4,660.9L85.4,653.1L81.4,659.1ZM83.1,645.9L81.3,637.8L76.5,643.2ZM80.1,630.4L79.5,622.1L73.9,626.7ZM79.4,614.5L80.0,606.2L73.9,610.0ZM81.1,598.8L82.9,590.6L76.2,593.4ZM85.1,583.4L88.0,575.6L81.0,577.4ZM91.2,568.8L95.3,561.6L88.1,562.3ZM99.5,555.3L104.6,548.7L97.4,548.4ZM109.6,543.1L115.7,537.4L108.6,536.0ZM121.5,532.6L128.3,527.8L121.5,525.4ZM134.7,523.9L142.2,520.2L135.8,516.8ZM149.1,517.3L157.0,514.7L151.2,510.4ZM164.4,512.8L172.6,511.4L167.5,506.3ZM180.1,510.7L188.4,510.5L184.1,504.7ZM195.9,510.9L204.2,511.9L200.8,505.5ZM211.6,513.4L219.6,515.6L217.1,508.8ZM226.7,518.2L234.3,521.6L232.9,514.5ZM240.9,525.2L247.9,529.6L247.6,522.4ZM253.9,534.2L260.2,539.6L261.0,532.4ZM265.5,545.0L270.9,551.3L272.7,544.3ZM275.4,557.4L279.8,564.4L282.6,557.8ZM283.3,571.1L286.7,578.7L290.4,572.6ZM289.2,585.8L291.3,593.9L295.9,588.3ZM292.7,601.3L293.7,609.6L299.1,604.7ZM294.0,617.1L293.7,625.4L299.8,621.4ZM292.9,632.9L291.5,641.1L298.0,638.0ZM289.6,648.4L286.9,656.3L293.8,654.2ZM283.9,663.2L280.1,670.6L287.3,669.6ZM276.2,677.0L271.3,683.8L278.5,683.8ZM266.5,689.6L260.7,695.5L267.8,696.6ZM133.8,537.8L140.5,533.8L134.1,530.8ZM146.8,530.6L154.1,527.6L148.2,523.6ZM160.9,525.4L168.5,523.6L163.3,518.8ZM175.5,522.5L183.3,521.9L179.0,516.3ZM190.4,521.9L198.3,522.5L194.8,516.3ZM205.3,523.6L212.9,525.4L210.5,518.7ZM219.7,527.5L227.0,530.5L225.5,523.5ZM233.3,533.7L240.0,537.7L239.7,530.6ZM245.8,541.8L251.8,546.9L252.6,539.8ZM256.9,551.8L262.1,557.7L263.9,550.9ZM266.3,563.4L270.5,570.1L273.4,563.6ZM273.9,576.3L277.0,583.5L280.8,577.6ZM279.3,590.3L281.3,597.9L286.0,592.6ZM282.5,604.9L283.3,612.7L288.7,608.2ZM283.4,619.8L283.0,627.6L289.1,624.0ZM282.0,634.7L280.4,642.3L287.0,639.7ZM278.3,649.1L275.5,656.5L282.4,654.9ZM272.5,662.9L268.6,669.7L275.6,669.2ZM264.5,675.5L259.6,681.7L266.7,682.3ZM254.8,686.8L248.9,692.1L255.8,693.8ZM243.3,696.5L236.8,700.8L243.3,703.6ZM230.6,704.2L223.4,707.5L229.4,711.2ZM216.8,709.9L209.2,712.0L214.6,716.7ZM202.2,713.4L194.4,714.3L199.0,719.7ZM187.3,714.6L179.5,714.3L183.2,720.4ZM172.4,713.5L164.7,712.0L167.5,718.6ZM157.9,710.1L150.5,707.5L152.2,714.3ZM144.0,704.5L137.2,700.7L137.8,707.8ZM131.2,696.8L125.0,692.0L124.5,699.1ZM119.7,687.3L114.3,681.6L112.8,688.5ZM109.9,676.0L105.4,669.6L102.8,676.2ZM101.9,663.4L98.5,656.4L94.9,662.4ZM95.9,649.7L93.6,642.2L89.1,647.7ZM92.1,635.3L91.0,627.5L85.8,632.2ZM90.6,620.4L90.8,612.6L84.8,616.4ZM91.4,605.5L92.8,597.8L86.3,600.6ZM94.6,590.9L97.1,583.4L90.3,585.3ZM99.9,576.9L103.5,570.0L96.5,570.7ZM107.3,564.0L112.0,557.7L104.9,557.3ZM116.7,552.3L122.3,546.8L115.3,545.3ZM127.7,542.2L134.1,537.6L127.5,535.1ZM122.1,675.7L117.5,670.0L115.3,676.5ZM113.8,664.5L110.2,658.1L107.0,664.2ZM107.4,652.1L104.8,645.3L100.7,650.7ZM103.0,638.9L101.6,631.7L96.7,636.4ZM100.9,625.1L100.7,617.8L95.0,621.6ZM101.0,611.2L101.9,603.9L95.8,606.8ZM103.3,597.4L105.4,590.4L98.8,592.2ZM107.8,584.2L111.0,577.6L104.2,578.4ZM114.3,571.9L118.6,565.9L111.8,565.6ZM122.8,560.8L127.9,555.5L121.2,554.2ZM132.9,551.2L138.8,546.8L132.4,544.4ZM144.4,543.3L150.9,540.0L145.1,536.6ZM157.1,537.4L164.0,535.2L158.8,530.8ZM170.5,533.6L177.7,532.5L173.2,527.4ZM184.3,532.0L191.7,532.1L188.1,526.3ZM198.3,532.7L205.5,533.9L202.9,527.6ZM211.9,535.5L218.9,537.9L217.2,531.3ZM224.9,540.6L231.4,544.0L230.9,537.2ZM237.0,547.6L242.8,552.1L243.4,545.3ZM247.7,556.5L252.8,561.8L254.4,555.2ZM256.9,567.0L261.0,573.1L263.7,566.8ZM264.3,578.8L267.4,585.5L271.0,579.7ZM269.7,591.7L271.7,598.7L276.2,593.7ZM272.9,605.3L273.8,612.5L279.1,608.2ZM274.0,619.2L273.6,626.5L279.5,623.1ZM272.8,633.1L271.2,640.2L277.6,637.8ZM269.4,646.6L266.7,653.4L273.4,652.1ZM263.8,659.4L260.1,665.7L266.9,665.4ZM256.3,671.1L251.6,676.8L258.4,677.6ZM247.0,681.5L241.5,686.3L248.0,688.2ZM236.1,690.3L229.9,694.1L236.0,697.1ZM224.0,697.2L217.2,700.0L222.8,703.9ZM210.9,702.0L203.8,703.7L208.7,708.5ZM197.2,704.7L189.9,705.3L194.0,710.7ZM183.3,705.2L176.0,704.6L179.2,710.6ZM169.5,703.4L162.4,701.6L164.5,708.1ZM156.1,699.5L149.4,696.6L150.5,703.3ZM143.5,693.4L137.4,689.5L137.3,696.3ZM132.1,685.4L126.7,680.5L125.5,687.3ZM191.1,541.2L198.0,541.8L195.0,536.4ZM204.2,542.9L210.9,544.7L208.9,538.8ZM216.9,546.8L223.2,549.7L222.2,543.6ZM228.6,552.8L234.4,556.7L234.4,550.5ZM239.3,560.7L244.2,565.5L245.3,559.4ZM248.4,570.3L252.5,575.9L254.6,570.0ZM255.7,581.2L258.8,587.4L261.9,582.0ZM261.2,593.3L263.2,599.9L267.1,595.1ZM264.5,606.1L265.3,613.0L270.0,608.9ZM265.5,619.3L265.2,626.2L270.5,623.0ZM264.4,632.4L262.9,639.2L268.7,636.9ZM261.0,645.2L258.4,651.6L264.5,650.4ZM255.5,657.2L251.9,663.1L258.1,662.9ZM248.1,668.2L243.5,673.4L249.7,674.2ZM238.9,677.7L233.5,682.0L239.4,683.9ZM228.3,685.5L222.2,688.9L227.7,691.7ZM216.5,691.4L209.9,693.7L214.9,697.4ZM203.8,695.3L197.0,696.4L201.2,700.9ZM190.7,696.9L183.8,696.9L187.2,702.0ZM177.5,696.3L170.7,695.1L173.2,700.8ZM164.6,693.5L158.1,691.2L159.6,697.2ZM152.3,688.5L146.3,685.1L146.8,691.3ZM141.1,681.6L135.7,677.2L135.2,683.4ZM131.2,672.8L126.6,667.6L125.0,673.6ZM122.9,662.5L119.3,656.6L116.7,662.2ZM116.5,651.0L113.9,644.5L110.4,649.6ZM112.1,638.5L110.7,631.7L106.4,636.2ZM109.9,625.5L109.7,618.5L104.7,622.2ZM110.0,612.2L110.9,605.4L105.3,608.1ZM112.2,599.2L114.3,592.6L108.4,594.4ZM116.7,586.8L119.8,580.6L113.7,581.3ZM123.2,575.2L127.3,569.7L121.1,569.4ZM131.5,565.0L136.5,560.2L130.5,558.9ZM141.4,556.3L147.2,552.4L141.5,550.1ZM152.7,549.4L159.0,546.5L153.8,543.3ZM165.0,544.5L171.7,542.8L167.1,538.6ZM177.9,541.7L184.8,541.2L181.0,536.3ZM238.0,570.4L242.4,575.3L243.6,569.8ZM245.9,580.0L249.3,585.6L251.5,580.4ZM251.9,590.9L254.3,596.9L257.4,592.2ZM256.0,602.6L257.2,609.0L261.1,604.9ZM257.9,614.8L258.0,621.3L262.5,618.0ZM257.6,627.2L256.6,633.6L261.6,631.1ZM255.1,639.4L253.0,645.5L258.4,643.9ZM250.6,650.9L247.4,656.6L253.0,656.0ZM244.1,661.4L239.9,666.5L245.5,666.9ZM235.8,670.7L230.8,674.9L236.3,676.3ZM226.0,678.3L220.4,681.6L225.5,683.9ZM215.1,684.1L209.0,686.3L213.6,689.5ZM203.3,687.9L196.9,689.0L200.9,693.0ZM191.0,689.5L184.5,689.5L187.7,694.1ZM178.6,689.0L172.2,687.8L174.6,692.9ZM166.5,686.2L160.4,684.0L161.8,689.4ZM155.1,681.4L149.5,678.1L149.9,683.7ZM144.7,674.7L139.7,670.4L139.2,676.0ZM135.6,666.2L131.5,661.2L130.0,666.6ZM128.2,656.3L125.1,650.6L122.6,655.7ZM122.7,645.2L120.6,639.0L117.3,643.6ZM119.2,633.3L118.2,626.9L114.1,630.8ZM117.8,621.0L117.9,614.5L113.3,617.6ZM118.6,608.6L119.9,602.2L114.8,604.5ZM121.6,596.6L124.0,590.5L118.5,591.9ZM126.7,585.3L130.1,579.7L124.5,580.1ZM133.6,575.0L138.0,570.2L132.4,569.5ZM142.3,566.2L147.4,562.2L142.1,560.5ZM152.4,559.0L158.2,555.9L153.1,553.4ZM163.6,553.7L169.8,551.7L165.3,548.3ZM175.6,550.4L182.0,549.6L178.2,545.4ZM187.9,549.3L194.4,549.6L191.4,544.9ZM200.3,550.4L206.6,551.9L204.5,546.7ZM212.2,553.7L218.2,556.2L217.0,550.7ZM223.4,559.0L228.9,562.5L228.7,556.9ZM233.5,566.2L238.3,570.7L239.0,565.1ZM249.1,603.2L250.4,609.1L253.7,605.3ZM251.1,614.6L251.3,620.8L255.3,617.6ZM251.0,626.3L250.1,632.3L254.6,629.9ZM248.7,637.7L246.7,643.5L251.6,642.0ZM244.4,648.5L241.4,653.8L246.5,653.2ZM238.2,658.4L234.2,663.0L239.3,663.4ZM230.2,666.9L225.5,670.8L230.5,672.0ZM220.9,673.8L215.5,676.8L220.2,678.9ZM210.4,678.9L204.6,680.8L208.8,683.8ZM199.2,682.0L193.1,682.8L196.7,686.5ZM187.6,683.0L181.4,682.6L184.3,686.9ZM176.0,681.8L170.0,680.3L172.0,685.0ZM164.8,678.5L159.2,675.9L160.3,681.0ZM154.4,673.2L149.4,669.7L149.5,674.8ZM145.2,666.1L140.9,661.7L140.1,666.8ZM137.4,657.4L134.0,652.3L132.3,657.1ZM131.4,647.4L129.0,641.8L126.4,646.2ZM127.3,636.5L126.0,630.6L122.6,634.4ZM125.3,625.1L125.1,618.9L121.0,622.1ZM125.4,613.4L126.3,607.4L121.8,609.8ZM127.6,602.0L129.6,596.2L124.7,597.7ZM131.9,591.2L135.0,585.8L129.9,586.5ZM138.2,581.3L142.1,576.6L137.0,576.3ZM146.1,572.8L150.9,568.9L145.9,567.7ZM155.5,565.8L160.9,562.9L156.2,560.8ZM166.0,560.8L171.8,558.9L167.6,555.9ZM177.2,557.7L183.3,556.9L179.7,553.2ZM188.8,556.7L194.9,557.1L192.1,552.8ZM200.4,557.9L206.3,559.4L204.3,554.6ZM211.6,561.2L217.1,563.7L216.1,558.7ZM221.9,566.5L226.9,570.0L226.8,564.9ZM231.2,573.6L235.4,578.0L236.2,572.9ZM238.9,582.3L242.3,587.4L244.1,582.6ZM245.0,592.3L247.4,597.9L250.0,593.5ZM244.9,627.3L243.9,632.9L248.0,630.8ZM242.5,637.9L240.5,643.2L245.0,641.8ZM238.2,647.8L235.2,652.6L239.8,652.1ZM232.1,656.7L228.2,660.9L232.9,661.3ZM224.4,664.3L219.8,667.7L224.3,669.0ZM215.4,670.3L210.3,672.8L214.4,674.9ZM205.5,674.5L200.0,675.9L203.6,678.8ZM194.9,676.7L189.2,677.1L192.3,680.6ZM184.1,676.9L178.4,676.2L180.8,680.2ZM173.4,675.1L168.0,673.3L169.6,677.7ZM163.3,671.2L158.3,668.5L159.0,673.1ZM154.1,665.6L149.8,661.9L149.6,666.6ZM146.1,658.2L142.6,653.8L141.5,658.4ZM139.7,649.5L137.0,644.5L135.1,648.8ZM135.1,639.8L133.4,634.4L130.7,638.2ZM132.3,629.3L131.7,623.7L128.3,626.9ZM131.6,618.5L132.1,612.9L128.2,615.4ZM133.0,607.8L134.5,602.3L130.2,604.1ZM136.3,597.5L138.8,592.5L134.3,593.4ZM141.5,588.1L145.0,583.6L140.3,583.6ZM148.5,579.8L152.7,576.0L148.1,575.1ZM156.9,572.9L161.7,570.0L157.4,568.3ZM166.4,567.8L171.7,565.9L167.8,563.4ZM176.7,564.6L182.3,563.7L178.9,560.5ZM187.4,563.4L193.1,563.6L190.4,559.8ZM198.2,564.2L203.8,565.5L201.8,561.2ZM208.6,567.1L213.8,569.3L212.7,564.8ZM218.3,571.8L223.0,575.1L222.8,570.4ZM227.0,578.4L230.9,582.4L231.6,577.8ZM234.2,586.4L237.3,591.2L238.8,586.7ZM239.8,595.7L241.9,600.9L244.3,596.9ZM243.5,605.8L244.6,611.4L247.7,607.9ZM245.2,616.5L245.3,622.2L248.9,619.3ZM146.5,591.6L149.7,587.3L145.5,587.5ZM153.0,583.8L157.1,580.3L152.9,579.6ZM161.0,577.5L165.7,574.8L161.7,573.3ZM170.1,572.8L175.2,571.2L171.7,568.9ZM180.0,570.1L185.3,569.5L182.3,566.5ZM190.2,569.4L195.5,569.8L193.1,566.3ZM200.3,570.7L205.4,572.2L203.8,568.2ZM210.0,574.0L214.7,576.4L213.9,572.3ZM218.8,579.1L223.0,582.5L222.9,578.2ZM226.4,585.9L229.8,590.0L230.7,585.8ZM232.6,594.0L235.1,598.7L236.7,594.8ZM237.0,603.2L238.5,608.4L240.9,604.8ZM239.5,613.1L240.0,618.5L243.0,615.5ZM239.9,623.3L239.4,628.7L242.9,626.3ZM238.4,633.4L236.8,638.5L240.7,637.0ZM234.9,643.0L232.3,647.7L236.4,647.0ZM229.5,651.7L226.0,655.8L230.3,655.9ZM222.5,659.2L218.3,662.5L222.5,663.4ZM214.2,665.1L209.4,667.5L213.3,669.3ZM204.9,669.3L199.7,670.7L203.2,673.2ZM194.9,671.5L189.6,671.9L192.5,675.0ZM184.7,671.7L179.4,671.0L181.6,674.7ZM174.7,669.9L169.6,668.2L171.1,672.2ZM165.2,666.2L160.6,663.5L161.2,667.7ZM156.6,660.6L152.6,657.0L152.4,661.3ZM149.3,653.5L146.1,649.2L145.1,653.3ZM143.6,645.0L141.3,640.2L139.5,644.0ZM139.7,635.6L138.4,630.4L135.8,633.8ZM137.7,625.6L137.5,620.2L134.3,623.0ZM137.7,615.4L138.6,610.1L134.9,612.2ZM139.8,605.4L141.6,600.3L137.6,601.7ZM188.9,574.7L194.0,575.0L191.6,571.9ZM198.5,575.7L203.4,577.0L201.7,573.5ZM207.7,578.7L212.3,581.0L211.3,577.2ZM216.1,583.5L220.1,586.7L219.9,582.8ZM223.3,590.0L226.5,593.9L227.2,590.1ZM229.0,597.8L231.3,602.3L232.8,598.7ZM233.0,606.6L234.3,611.5L236.5,608.3ZM235.0,616.1L235.3,621.1L238.1,618.5ZM235.0,625.7L234.2,630.8L237.5,628.7ZM233.0,635.2L231.2,639.9L234.9,638.6ZM229.1,644.0L226.3,648.3L230.2,647.8ZM223.4,651.9L219.8,655.5L223.7,655.8ZM216.3,658.4L212.0,661.1L215.7,662.2ZM207.9,663.2L203.2,665.0L206.6,666.9ZM198.7,666.2L193.7,667.0L196.7,669.5ZM189.1,667.3L184.0,667.0L186.4,670.1ZM179.5,666.3L174.6,665.0L176.3,668.5ZM170.3,663.3L165.7,661.0L166.7,664.8ZM161.9,658.5L157.9,655.3L158.1,659.2ZM154.7,652.0L151.5,648.1L150.8,651.9ZM149.0,644.2L146.7,639.7L145.2,643.3ZM145.0,635.4L143.7,630.5L141.5,633.7ZM143.0,625.9L142.7,620.9L139.9,623.5ZM143.0,616.3L143.8,611.2L140.5,613.3ZM145.0,606.8L146.8,602.1L143.1,603.4ZM148.9,598.0L151.7,593.7L147.8,594.2ZM154.6,590.1L158.2,586.5L154.3,586.2ZM161.7,583.6L166.0,580.9L162.3,579.8ZM170.1,578.8L174.8,577.0L171.4,575.1ZM179.3,575.8L184.3,575.0L181.3,572.5Z" fill="#2a4a72"/>
<path d="M117.7,670.3L113.6,664.2L110.9,670.5ZM110.3,658.5L107.3,651.8L103.6,657.6ZM105.0,645.6L103.0,638.5L98.4,643.6ZM101.7,632.0L100.9,624.8L95.6,629.0ZM100.7,618.1L101.0,610.8L95.1,614.2ZM101.9,604.2L103.4,597.1L97.0,599.5ZM105.3,590.7L107.9,583.9L101.3,585.2ZM110.8,577.9L114.5,571.6L107.7,571.8ZM118.3,566.2L123.0,560.5L116.3,559.7ZM127.7,555.8L133.2,551.0L126.6,549.0ZM138.5,547.0L144.7,543.2L138.6,540.2ZM150.6,540.1L157.4,537.3L151.8,533.4ZM163.7,535.3L170.8,533.6L165.9,528.8ZM177.4,532.6L184.7,532.0L180.6,526.6ZM191.3,532.1L198.6,532.7L195.5,526.7ZM205.2,533.8L212.3,535.6L210.1,529.2ZM218.5,537.8L225.2,540.7L224.2,534.0ZM231.1,543.9L237.3,547.8L237.3,541.0ZM242.5,551.8L248.0,556.7L249.1,550.0ZM252.5,561.6L257.1,567.3L259.3,560.8ZM260.8,572.8L264.4,579.1L267.6,573.1ZM267.2,585.2L269.8,592.0L273.9,586.6ZM271.6,598.4L273.0,605.6L277.9,600.9ZM273.7,612.2L274.0,619.5L279.6,615.7ZM273.7,626.1L272.7,633.4L278.9,630.5ZM271.3,639.9L269.2,646.9L275.8,645.0ZM266.8,653.1L263.6,659.7L270.4,658.9ZM260.3,665.4L256.1,671.4L262.9,671.7ZM251.8,676.5L246.7,681.7L253.4,683.1ZM241.7,686.1L235.8,690.4L242.2,692.9ZM230.2,693.9L223.7,697.3L229.6,700.7ZM217.6,699.9L210.6,702.1L215.9,706.4ZM204.1,703.7L196.9,704.8L201.4,709.9ZM190.3,705.3L183.0,705.2L186.6,711.0ZM176.4,704.6L169.1,703.4L171.8,709.7ZM162.7,701.7L155.8,699.4L157.4,706.0ZM149.7,696.7L143.2,693.3L143.8,700.0ZM137.7,689.7L131.8,685.2L131.3,692.0ZM126.9,680.8L121.9,675.5L120.2,682.1ZM184.5,541.2L191.4,541.2L188.0,536.1ZM197.7,541.8L204.5,543.0L202.0,537.3ZM210.6,544.6L217.2,546.9L215.6,540.9ZM222.9,549.6L228.9,553.0L228.4,546.8ZM234.1,556.5L239.5,560.9L240.1,554.7ZM244.0,565.3L248.6,570.5L250.2,564.5ZM252.3,575.6L255.9,581.5L258.5,575.9ZM258.7,587.1L261.3,593.6L264.8,588.5ZM263.1,599.6L264.5,606.4L268.8,601.9ZM265.3,612.6L265.5,619.6L270.5,615.9ZM265.2,625.9L264.3,632.7L269.9,630.0ZM263.0,638.9L260.9,645.5L266.9,643.7ZM258.5,651.3L255.4,657.5L261.5,656.8ZM252.1,662.9L247.9,668.4L254.1,668.7ZM243.7,673.1L238.7,677.9L244.8,679.2ZM233.8,681.8L228.0,685.7L233.8,688.0ZM222.5,688.7L216.2,691.6L221.4,694.8ZM210.2,693.6L203.5,695.3L208.1,699.5ZM197.3,696.4L190.4,696.9L194.3,701.8ZM184.1,696.9L177.2,696.3L180.2,701.7ZM171.0,695.2L164.3,693.4L166.3,699.3ZM158.4,691.3L152.0,688.4L153.1,694.5ZM146.6,685.3L140.8,681.4L140.8,687.6ZM136.0,677.4L131.0,672.6L129.9,678.7ZM126.8,667.9L122.7,662.3L120.6,668.1ZM119.5,656.9L116.4,650.7L113.3,656.1ZM114.1,644.8L112.1,638.2L108.1,643.0ZM110.8,632.0L109.9,625.1L105.2,629.2ZM109.7,618.8L110.0,611.9L104.7,615.1ZM110.8,605.7L112.3,598.9L106.6,601.2ZM114.2,592.9L116.8,586.5L110.7,587.7ZM119.7,580.9L123.3,575.0L117.1,575.2ZM127.1,569.9L131.7,564.7L125.6,563.9ZM136.3,560.4L141.7,556.1L135.8,554.2ZM146.9,552.6L153.0,549.2L147.5,546.4ZM158.7,546.7L165.3,544.4L160.3,540.7ZM171.4,542.8L178.2,541.7L174.0,537.2ZM242.2,575.1L246.1,580.3L247.8,574.9ZM249.1,585.3L252.0,591.1L254.7,586.2ZM254.2,596.6L256.0,602.9L259.5,598.5ZM257.2,608.7L257.9,615.1L262.1,611.4ZM258.0,621.0L257.6,627.5L262.4,624.6ZM256.6,633.3L255.0,639.7L260.3,637.6ZM253.1,645.2L250.4,651.2L256.0,650.1ZM247.6,656.3L243.9,661.7L249.5,661.6ZM240.1,666.2L235.6,670.9L241.1,671.8ZM231.1,674.7L225.8,678.5L231.1,680.3ZM220.7,681.4L214.8,684.2L219.7,687.0ZM209.2,686.2L203.0,687.9L207.3,691.5ZM197.2,689.0L190.7,689.5L194.3,693.8ZM184.8,689.5L178.3,688.9L181.1,693.8ZM172.5,687.9L166.2,686.1L168.1,691.4ZM160.7,684.1L154.8,681.3L155.8,686.8ZM149.7,678.3L144.4,674.5L144.4,680.1ZM140.0,670.6L135.4,666.0L134.4,671.5ZM131.7,661.4L128.1,656.0L126.1,661.3ZM125.2,650.9L122.6,644.9L119.7,649.7ZM120.6,639.3L119.1,633.0L115.4,637.3ZM118.2,627.2L117.8,620.7L113.4,624.2ZM117.9,614.8L118.7,608.3L113.7,611.0ZM119.8,602.5L121.7,596.3L116.4,598.1ZM123.9,590.8L126.8,585.0L121.2,585.8ZM129.9,580.0L133.8,574.8L128.2,574.6ZM137.8,570.4L142.5,566.0L137.0,564.8ZM147.2,562.3L152.7,558.8L147.4,556.7ZM157.9,556.1L163.9,553.6L159.1,550.6ZM169.5,551.8L175.9,550.4L171.7,546.6ZM181.7,549.6L188.2,549.3L184.8,544.9ZM194.1,549.6L200.6,550.5L198.0,545.5ZM206.3,551.8L212.5,553.8L210.8,548.4ZM217.9,556.1L223.7,559.1L223.0,553.6ZM228.6,562.4L233.7,566.4L234.0,560.8ZM247.3,597.6L249.1,603.4L252.1,599.3ZM250.3,608.9L251.1,614.9L254.8,611.4ZM251.3,620.5L250.9,626.6L255.2,623.8ZM250.1,632.1L248.6,638.0L253.4,636.0ZM246.8,643.2L244.3,648.8L249.3,647.7ZM241.5,653.6L238.0,658.6L243.1,658.5ZM234.4,662.8L230.0,667.1L235.1,667.9ZM225.7,670.6L220.6,674.0L225.5,675.7ZM215.8,676.6L210.1,679.0L214.6,681.6ZM204.9,680.7L198.9,682.1L202.8,685.4ZM193.4,682.8L187.3,683.0L190.5,687.0ZM181.7,682.6L175.7,681.7L178.1,686.3ZM170.3,680.4L164.5,678.4L166.1,683.3ZM159.5,676.1L154.2,673.0L154.8,678.1ZM149.6,669.9L145.0,665.9L144.6,671.0ZM141.1,661.9L137.3,657.2L136.0,662.1ZM134.2,652.6L131.3,647.2L129.1,651.8ZM129.1,642.1L127.2,636.2L124.2,640.4ZM126.0,630.8L125.2,624.8L121.5,628.3ZM125.0,619.2L125.4,613.1L121.1,615.9ZM126.2,607.6L127.7,601.7L123.0,603.7ZM129.5,596.5L132.1,590.9L127.1,592.0ZM134.8,586.1L138.3,581.1L133.2,581.2ZM141.9,576.9L146.3,572.6L141.3,571.8ZM150.6,569.1L155.7,565.7L150.9,564.0ZM160.6,563.1L166.2,560.7L161.8,558.1ZM171.5,559.0L177.5,557.6L173.6,554.3ZM183.0,556.9L189.1,556.7L185.9,552.7ZM194.6,557.0L200.7,558.0L198.3,553.4ZM206.0,559.3L211.8,561.3L210.3,556.4ZM216.9,563.6L222.2,566.7L221.6,561.6ZM226.7,569.8L231.4,573.8L231.7,568.7ZM235.2,577.8L239.1,582.5L240.4,577.6ZM242.2,587.1L245.1,592.5L247.3,587.9ZM244.0,632.7L242.4,638.1L246.7,636.4ZM240.6,642.9L238.1,648.0L242.6,647.1ZM235.4,652.4L231.9,656.9L236.6,656.9ZM228.4,660.7L224.2,664.5L228.8,665.3ZM220.1,667.5L215.2,670.4L219.5,672.1ZM210.5,672.6L205.2,674.6L209.1,677.1ZM200.2,675.9L194.6,676.8L198.0,680.0ZM189.5,677.1L183.8,676.9L186.5,680.7ZM178.7,676.3L173.2,675.0L175.1,679.2ZM168.3,673.4L163.1,671.1L164.2,675.6ZM158.6,668.6L153.9,665.4L154.1,670.0ZM150.0,662.1L146.0,658.0L145.3,662.7ZM142.7,654.0L139.6,649.3L138.1,653.7ZM137.2,644.8L135.0,639.5L132.7,643.6ZM133.4,634.6L132.3,629.1L129.2,632.6ZM131.7,624.0L131.6,618.3L128.0,621.2ZM132.0,613.2L133.0,607.6L128.9,609.7ZM134.4,602.6L136.4,597.3L132.0,598.6ZM138.7,592.7L141.7,587.9L137.1,588.3ZM144.8,583.8L148.7,579.6L144.0,579.2ZM152.5,576.2L157.1,572.8L152.6,571.5ZM161.5,570.2L166.6,567.7L162.5,565.6ZM171.5,566.0L177.0,564.5L173.3,561.7ZM182.0,563.7L187.7,563.4L184.6,559.9ZM192.8,563.5L198.5,564.3L196.1,560.2ZM203.5,565.4L208.9,567.2L207.3,562.8ZM213.6,569.2L218.6,572.0L217.9,567.4ZM222.8,574.9L227.2,578.6L227.3,573.9ZM230.8,582.2L234.3,586.6L235.4,582.1ZM237.2,590.9L239.9,595.9L241.8,591.7ZM241.9,600.7L243.5,606.1L246.2,602.3ZM244.6,611.1L245.2,616.8L248.6,613.6ZM245.3,621.9L244.8,627.6L248.7,625.0ZM143.8,596.0L146.6,591.4L142.4,591.9ZM149.6,587.5L153.2,583.6L149.0,583.3ZM156.9,580.4L161.3,577.3L157.2,576.2ZM165.5,574.9L170.4,572.7L166.6,570.8ZM175.0,571.2L180.2,570.1L176.9,567.4ZM185.1,569.5L190.4,569.4L187.7,566.1ZM195.3,569.8L200.5,570.7L198.5,567.0ZM205.2,572.1L210.2,574.1L208.9,570.0ZM214.5,576.3L219.0,579.2L218.6,575.0ZM222.8,582.3L226.6,586.0L227.0,581.8ZM229.7,589.8L232.7,594.2L233.9,590.2ZM235.0,598.5L237.0,603.5L239.1,599.7ZM238.5,608.1L239.5,613.4L242.2,610.1ZM239.9,618.2L239.9,623.6L243.2,620.9ZM239.4,628.4L238.3,633.7L242.1,631.7ZM236.9,638.3L234.7,643.2L238.8,642.1ZM232.4,647.5L229.3,651.9L233.6,651.6ZM226.2,655.6L222.3,659.3L226.6,659.8ZM218.5,662.3L214.0,665.2L218.0,666.6ZM209.7,667.4L204.7,669.4L208.4,671.5ZM200.0,670.6L194.7,671.5L197.9,674.3ZM189.8,671.9L184.5,671.7L187.1,675.1ZM179.7,671.1L174.4,669.9L176.3,673.7ZM169.8,668.3L165.0,666.1L166.0,670.2ZM160.8,663.6L156.4,660.4L156.7,664.7ZM152.8,657.2L149.2,653.3L148.6,657.5ZM146.3,649.4L143.5,644.8L142.1,648.8ZM141.4,640.4L139.6,635.3L137.4,639.0ZM138.4,630.6L137.7,625.3L134.8,628.4ZM137.5,620.5L137.8,615.1L134.3,617.6ZM138.5,610.3L139.9,605.1L136.0,606.9ZM141.5,600.6L143.9,595.7L139.8,596.7ZM193.7,575.0L198.8,575.8L196.7,572.5ZM203.2,577.0L207.9,578.8L206.6,575.1ZM212.0,580.9L216.3,583.7L215.8,579.8ZM219.9,586.6L223.5,590.2L223.8,586.3ZM226.4,593.7L229.1,598.0L230.2,594.3ZM231.2,602.1L233.0,606.8L234.9,603.4ZM234.2,611.3L235.0,616.3L237.5,613.3ZM235.3,620.9L235.0,626.0L238.1,623.6ZM234.3,630.5L233.0,635.4L236.5,633.7ZM231.3,639.7L229.0,644.3L232.8,643.3ZM226.5,648.1L223.3,652.1L227.2,651.9ZM220.0,655.3L216.1,658.5L219.9,659.2ZM212.2,661.0L207.7,663.3L211.3,664.8ZM203.4,665.0L198.5,666.3L201.7,668.5ZM193.9,667.0L188.9,667.3L191.5,670.1ZM184.3,667.0L179.2,666.2L181.3,669.5ZM174.8,665.0L170.1,663.2L171.4,666.9ZM166.0,661.1L161.7,658.3L162.2,662.2ZM158.1,655.4L154.5,651.8L154.2,655.7ZM151.6,648.3L148.9,644.0L147.8,647.7ZM146.8,639.9L145.0,635.2L143.1,638.6ZM143.8,630.7L143.0,625.7L140.5,628.7ZM142.7,621.1L143.0,616.0L139.9,618.4ZM143.7,611.5L145.0,606.6L141.5,608.3ZM146.7,602.3L149.0,597.7L145.2,598.7ZM151.5,593.9L154.7,589.9L150.8,590.1ZM158.0,586.7L161.9,583.5L158.1,582.8ZM165.8,581.0L170.3,578.7L166.7,577.2ZM174.6,577.0L179.5,575.7L176.3,573.5ZM184.1,575.0L189.1,574.7L186.5,571.9Z" fill="#1f3856"/>
<path d="M130.2,737.9L128.5,737.1L130.9,734.3ZM126.1,735.9L124.4,735.0L126.8,732.3ZM121.7,733.6L120.0,732.6L122.7,729.9ZM117.2,731.0L115.6,730.0L118.3,727.4ZM113.7,728.9L112.1,727.7L115.0,725.2ZM110.5,726.6L108.8,725.5L111.8,722.9ZM105.5,723.1L103.9,721.8L107.1,719.4ZM102.9,721.0L101.3,719.8L104.5,717.4ZM98.2,717.2L96.7,715.8L100.1,713.6ZM93.1,712.5L91.7,711.0L95.3,709.0ZM89.4,708.6L87.9,707.2L91.5,705.1ZM86.7,705.8L85.3,704.2L89.1,702.4ZM82.5,700.9L81.2,699.3L85.0,697.5ZM80.2,697.9L79.0,696.2L82.8,694.7ZM77.7,694.5L76.4,692.8L80.3,691.2ZM75.6,691.6L74.4,689.8L78.4,688.5ZM72.8,687.2L71.7,685.5L75.7,684.2ZM70.3,683.1L69.3,681.3L73.4,680.3ZM67.9,678.6L66.9,676.7L70.9,675.7ZM66.2,675.3L65.3,673.4L69.4,672.7ZM63.8,670.1L63.0,668.2L67.0,667.5ZM62.2,666.4L61.5,664.4L65.6,664.0ZM60.3,661.2L59.6,659.3L63.7,658.9ZM58.1,654.3L57.5,652.3L61.5,652.2ZM56.5,648.6L56.1,646.7L60.1,646.8ZM55.6,644.6L55.2,642.6L59.1,642.8ZM54.7,639.9L54.4,637.9L58.2,638.3ZM54.0,635.4L53.7,633.5L57.6,633.9ZM53.5,631.7L53.3,629.8L57.0,630.4ZM53.0,626.3L52.9,624.4L56.6,625.0ZM52.8,622.3L52.7,620.4L56.3,621.3ZM52.7,616.3L52.6,614.4L56.2,615.3ZM52.7,612.7L52.8,610.8L56.4,611.9ZM53.0,607.8L53.1,605.9L56.7,607.1ZM53.4,602.8L53.7,600.9L57.2,602.3ZM53.8,599.8L54.0,597.8L57.6,599.3ZM54.5,594.6L54.9,592.6L58.5,594.3ZM55.3,590.4L55.7,588.4L59.3,590.1ZM55.8,587.7L56.7,584.3L63.0,587.7ZM57.4,581.6L58.3,578.2L64.6,581.6ZM58.2,578.6L59.4,575.2L65.5,579.2ZM60.2,572.7L61.4,569.3L67.5,573.2ZM61.3,569.5L62.7,566.2L68.6,570.6ZM63.5,564.2L64.9,560.8L70.9,565.3ZM65.2,560.3L66.9,557.0L72.6,561.9ZM66.9,556.9L68.5,553.7L74.3,558.6ZM70.9,549.5L72.8,546.4L78.3,551.7ZM73.2,545.6L75.3,542.6L80.4,548.3ZM76.2,541.1L78.3,538.2L83.5,543.9ZM78.4,538.0L80.6,535.2L85.4,541.3ZM81.6,534.0L83.8,531.1L88.6,537.2ZM87.9,526.5L90.3,523.9L94.8,530.3ZM90.7,523.5L93.3,521.0L97.3,527.7ZM93.2,521.1L95.8,518.6L99.8,525.4ZM97.6,517.0L100.4,514.6L103.9,521.6ZM101.3,513.9L104.1,511.5L107.6,518.5ZM103.9,511.7L106.8,509.6L109.8,516.8ZM108.2,508.6L111.1,506.4L114.1,513.6ZM110.6,506.8L113.7,504.8L116.2,512.2ZM114.8,504.1L117.9,502.2L120.4,509.5ZM118.2,501.9L121.4,500.2L123.4,507.6ZM122.7,499.5L125.8,497.8L127.8,505.3ZM126.9,497.2L130.2,495.7L131.6,503.2ZM132.4,494.8L135.7,493.3L137.1,500.8ZM134.7,493.6L138.1,492.4L139.0,499.9ZM139.7,491.8L143.0,490.6L143.9,498.0ZM143.2,490.5L146.7,489.4L147.0,496.8ZM149.8,488.5L153.2,487.5L153.6,494.9ZM152.8,487.6L156.3,486.8L156.1,494.1ZM156.5,486.8L160.1,486.0L159.8,493.3ZM161.1,485.8L164.7,485.2L164.0,492.3ZM165.6,485.1L169.2,484.5L168.4,491.6ZM171.8,484.2L175.4,483.9L174.1,490.8ZM174.6,484.0L178.2,483.7L177.0,490.6ZM178.7,483.6L182.3,483.5L180.6,490.1ZM185.7,483.5L189.3,483.4L187.6,490.0ZM189.4,483.5L192.9,483.7L190.8,489.9ZM193.4,483.7L196.9,483.9L194.8,490.1ZM198.7,484.1L202.1,484.5L199.7,490.3ZM203.5,484.6L206.8,485.1L204.4,490.9ZM206.6,485.0L209.7,485.6L207.0,491.0ZM213.0,486.3L216.2,486.9L213.5,492.3ZM216.9,487.1L219.9,487.9L217.0,492.8ZM221.4,488.3L224.4,489.1L221.5,494.0ZM225.1,489.3L227.9,490.3L224.8,494.7ZM228.5,490.5L231.3,491.4L228.2,495.9ZM233.3,492.1L235.8,493.2L232.7,497.2ZM250.1,499.9L252.2,501.1L249.0,504.2ZM254.0,502.1L256.1,503.4L252.8,506.5ZM257.7,504.4L259.6,505.6L256.4,508.3ZM263.0,508.0L264.9,509.3L261.7,511.9ZM265.8,510.0L267.5,511.3L264.3,513.5ZM270.1,513.4L271.8,514.7L268.7,517.0ZM273.3,516.0L274.7,517.3L271.7,519.2ZM277.0,519.4L278.5,520.7L275.5,522.6ZM279.7,522.0L281.0,523.2L278.1,524.7ZM283.5,525.9L284.8,527.2L282.0,528.7ZM289.0,532.1L290.0,533.4L287.4,534.5ZM292.5,536.6L293.4,537.8L291.0,538.7ZM294.2,539.0L295.1,540.2L292.7,541.0ZM296.8,542.6L297.5,543.6L295.3,544.2ZM300.1,547.9L300.8,549.0L298.7,549.6ZM304.4,555.6L305.0,556.6L303.1,557.0ZM306.3,559.3L306.7,560.2L305.1,560.4ZM310.1,568.0L310.3,568.7L309.0,568.8ZM312.0,573.1L312.2,573.8L310.9,573.9ZM313.3,577.1L313.5,577.8L312.4,577.7ZM314.2,580.2L314.4,580.8L313.3,580.8ZM315.4,584.6L315.5,585.2L314.6,585.1ZM316.6,589.9L316.7,590.5L315.8,590.4ZM317.3,593.9L317.4,594.3L316.8,594.2ZM318.2,599.7L318.3,600.2L317.7,600.1ZM318.6,603.0L318.6,603.5L318.0,603.3ZM319.1,608.8L319.1,609.3L318.5,609.1ZM319.3,613.1L319.3,613.6L318.6,613.4ZM319.3,617.0L319.3,617.5L318.7,617.2ZM319.3,620.1L319.3,620.6L318.7,620.3ZM319.0,625.3L319.0,625.7L318.4,625.5ZM318.6,631.0L318.5,631.5L317.9,631.2ZM318.1,635.0L318.0,635.5L317.4,635.2ZM317.4,639.5L317.3,640.0L316.7,639.6ZM316.5,644.1L316.4,644.6L315.8,644.2ZM315.4,648.9L315.3,649.4L314.7,649.0ZM314.3,653.0L314.2,653.5L313.6,653.1ZM313.3,656.5L313.1,657.0L312.6,656.6ZM311.6,661.6L311.4,662.0L310.9,661.6ZM309.8,666.2L309.6,666.7L309.0,666.1ZM308.3,669.9L308.1,670.4L307.5,669.8ZM306.5,673.9L306.2,674.5L305.5,673.8ZM304.1,678.6L303.9,679.1L303.2,678.5ZM302.3,682.0L301.9,682.6L301.2,681.8ZM299.4,687.0L299.0,687.6L298.3,686.8ZM295.2,693.2L294.8,693.8L294.1,692.9ZM291.7,698.0L291.2,698.6L290.5,697.5ZM290.0,700.2L289.5,700.9L288.8,699.8ZM286.8,704.1L286.2,704.7L285.5,703.5ZM283.9,707.3L283.3,707.9L282.6,706.7ZM280.2,711.1L279.5,711.8L278.9,710.4ZM276.4,714.8L275.7,715.5L275.0,714.1ZM273.5,717.4L272.7,718.0L272.1,716.5ZM270.9,719.6L270.1,720.2L269.5,718.7ZM266.0,723.5L265.1,724.1L264.5,722.4ZM262.1,726.2L261.3,726.9L260.7,725.2ZM254.8,731.0L253.8,731.6L253.3,729.8ZM251.9,732.7L250.8,733.3L250.4,731.3ZM247.9,734.9L246.8,735.4L246.4,733.5ZM244.1,736.8L243.0,737.3L242.7,735.2ZM240.4,738.5L239.3,739.0L239.0,736.9ZM235.5,740.6L234.3,741.1L234.2,738.8ZM231.3,742.2L230.1,742.6L229.9,740.4ZM226.8,743.7L225.5,744.1L225.5,741.8ZM221.2,745.4L219.9,745.8L219.9,743.5ZM217.0,746.5L215.7,746.8L215.8,744.4ZM214.0,747.1L212.6,747.4L212.8,745.0ZM208.6,748.2L207.1,748.4L207.5,745.9ZM205.4,748.7L204.0,748.9L204.3,746.4ZM199.2,749.5L197.8,749.6L198.3,747.0ZM196.0,749.7L194.6,749.8L195.1,747.3ZM190.2,750.1L188.7,750.1L189.4,747.5ZM185.9,750.1L184.4,750.1L185.1,747.6ZM183.1,750.1L181.6,750.1L182.5,747.4ZM177.5,749.8L175.9,749.8L176.9,747.1ZM172.0,749.4L170.4,749.2L171.5,746.4ZM167.6,748.8L166.0,748.6L167.1,745.9ZM163.2,748.2L161.5,747.8L162.9,745.0ZM158.5,747.3L156.8,746.9L158.2,744.1ZM155.5,746.6L153.8,746.2L155.5,743.3ZM149.5,745.0L147.9,744.6L149.5,741.8ZM147.2,744.4L145.5,743.8L147.4,741.0ZM142.5,742.8L140.7,742.2L142.7,739.4ZM138.6,741.4L136.8,740.7L139.0,737.9ZM134.1,739.6L132.4,738.9L134.5,736.0ZM148.6,730.9L146.4,730.2L149.1,726.1ZM144.9,729.6L142.7,728.8L145.4,724.8ZM141.5,728.3L139.3,727.4L142.3,723.4ZM137.6,726.6L135.4,725.7L138.4,721.6ZM132.9,724.5L130.7,723.3L134.2,719.4ZM130.0,722.9L127.9,721.8L131.3,717.9ZM125.1,720.2L122.9,718.8L126.8,715.0ZM121.5,717.9L119.3,716.6L123.2,712.8ZM118.7,716.1L116.6,714.6L120.8,711.0ZM115.3,713.6L113.2,712.1L117.4,708.5ZM108.7,708.4L106.7,706.7L111.2,703.3ZM105.0,705.2L103.1,703.3L108.0,700.2ZM102.3,702.5L100.4,700.7L105.3,697.6ZM99.9,700.3L98.1,698.2L103.3,695.5ZM96.9,696.9L95.1,694.9L100.3,692.1ZM94.0,693.5L92.3,691.4L97.7,688.9ZM91.5,690.3L89.8,688.1L95.2,685.7ZM88.0,685.6L86.5,683.3L92.1,681.3ZM86.3,683.0L84.8,680.7L90.3,678.6ZM84.0,679.5L82.7,677.2L88.4,675.5ZM82.0,675.9L80.7,673.5L86.3,671.9ZM77.3,666.6L76.1,664.2L81.9,663.0ZM74.6,660.1L73.6,657.6L79.4,656.8ZM73.3,656.9L72.6,654.4L78.3,654.0ZM71.7,651.6L70.9,649.1L76.6,648.7ZM70.7,648.3L70.1,645.8L75.7,645.8ZM69.8,644.4L69.2,641.9L74.8,641.9ZM68.8,640.2L68.4,637.7L73.9,638.1ZM68.1,635.9L67.7,633.4L73.2,633.8ZM67.4,631.3L67.2,628.8L72.5,629.6ZM67.0,626.2L66.8,623.7L72.1,624.5ZM66.7,621.7L66.7,619.3L71.7,620.4ZM66.7,617.3L66.6,614.9L71.7,616.0ZM66.7,614.0L66.8,611.5L71.9,613.1ZM67.0,608.2L67.2,605.7L72.2,607.3ZM67.3,604.8L67.6,602.2L72.8,604.2ZM67.7,601.8L68.0,599.3L73.1,601.2ZM68.6,596.0L69.1,593.4L74.2,595.8ZM69.4,591.9L69.9,589.3L75.0,591.7ZM69.9,589.3L70.7,586.7L75.7,589.5ZM71.4,584.2L72.1,581.6L77.1,584.4ZM72.7,579.7L73.7,577.0L78.6,580.3ZM74.1,575.9L75.0,573.3L80.0,576.5ZM75.6,571.9L76.7,569.3L81.5,573.0ZM77.0,568.8L78.1,566.2L82.9,569.8ZM78.5,565.2L79.9,562.7L84.4,566.8ZM80.6,561.3L81.9,558.8L86.5,562.9ZM83.0,556.9L84.5,554.4L88.9,558.8ZM85.4,553.0L87.0,550.5L91.3,554.9ZM87.5,549.8L89.2,547.4L93.3,552.2ZM90.5,545.6L92.3,543.2L96.3,548.0ZM92.5,542.9L94.5,540.6L98.2,545.7ZM95.7,539.2L97.6,536.9L101.3,542.0ZM98.5,536.0L100.6,533.9L103.9,539.3ZM100.5,533.9L102.6,531.7L106.0,537.1ZM104.5,530.0L106.7,528.0L109.7,533.6ZM110.5,524.7L112.9,522.8L115.4,528.6ZM114.0,522.0L116.4,520.1L118.9,525.9ZM117.8,519.2L120.3,517.5L122.4,523.4ZM121.3,516.9L123.8,515.2L125.9,521.1ZM123.8,515.2L126.4,513.7L128.1,519.8ZM128.8,512.4L131.5,510.9L133.1,516.9ZM132.1,510.6L134.8,509.3L136.0,515.4ZM135.1,509.2L137.8,507.9L139.0,514.0ZM140.0,506.9L142.8,505.8L143.6,511.9ZM144.2,505.3L147.0,504.2L147.8,510.3ZM147.7,504.0L150.6,503.1L150.8,509.1ZM151.9,502.7L154.7,501.8L155.0,507.8ZM156.7,501.3L159.6,500.7L159.5,506.6ZM163.2,499.8L166.0,499.4L165.5,505.1ZM172.6,498.4L175.4,498.1L174.5,503.7ZM180.6,497.7L183.4,497.7L182.1,503.0ZM184.9,497.6L187.7,497.6L186.4,502.9ZM190.9,497.7L193.6,497.8L191.9,502.9ZM195.0,497.9L197.7,498.1L196.1,503.1ZM199.3,498.3L201.9,498.6L199.9,503.3ZM202.3,498.7L204.8,499.0L202.9,503.7ZM206.9,499.4L209.4,499.9L207.2,504.2ZM210.3,500.0L212.7,500.5L210.5,504.9ZM215.3,501.1L217.5,501.8L215.2,505.7ZM218.9,502.1L221.2,502.8L218.9,506.7ZM223.3,503.4L225.4,504.1L222.9,507.7ZM226.8,504.7L228.9,505.4L226.5,509.0ZM232.4,506.8L234.4,507.7L231.8,510.8ZM236.7,508.7L238.6,509.6L236.1,512.7ZM240.4,510.5L242.1,511.4L239.5,514.2ZM243.3,512.0L245.0,512.9L242.4,515.7ZM248.1,514.8L249.7,515.7L247.1,518.1ZM250.7,516.4L252.3,517.3L249.7,519.8ZM254.0,518.5L255.4,519.5L252.8,521.6ZM257.3,520.9L258.7,521.9L256.2,524.0ZM264.3,526.5L265.5,527.5L263.1,529.2ZM267.9,529.6L268.9,530.6L266.5,532.0ZM274.5,536.3L275.4,537.3L273.2,538.4ZM277.1,539.2L278.0,540.2L275.8,541.3ZM280.2,543.0L280.9,543.9L278.9,544.7ZM282.6,546.1L283.3,547.1L281.3,547.9ZM285.0,549.5L285.6,550.4L283.8,551.0ZM287.5,553.3L288.1,554.2L286.3,554.7ZM289.2,555.9L289.6,556.7L288.0,557.1ZM292.1,561.0L292.5,561.9L290.9,562.2ZM293.5,563.8L293.8,564.6L292.4,564.8ZM295.2,567.5L295.6,568.2L294.2,568.5ZM297.5,572.7L297.7,573.3L296.5,573.4ZM298.8,576.2L299.1,576.9L297.9,576.9ZM300.1,579.9L300.3,580.5L299.3,580.4ZM301.2,583.3L301.3,583.9L300.4,583.9ZM302.3,587.4L302.4,587.9L301.6,587.8ZM303.5,592.4L303.6,592.9L302.8,592.8ZM304.9,600.7L305.0,601.2L304.2,601.1ZM305.4,604.1L305.4,604.7L304.6,604.5ZM305.8,608.9L305.8,609.5L305.0,609.3ZM306.0,612.8L306.0,613.3L305.3,613.0ZM306.1,618.0L306.1,618.5L305.3,618.3ZM306.0,622.4L306.0,623.0L305.2,622.7ZM305.8,626.2L305.7,626.7L305.0,626.4ZM305.4,630.1L305.4,630.7L304.6,630.3ZM304.9,633.9L304.9,634.4L304.1,634.0ZM303.9,639.9L303.8,640.4L303.1,640.0ZM303.3,643.3L303.1,643.8L302.4,643.4ZM302.1,648.0L302.0,648.5L301.3,648.0ZM301.2,651.0L301.1,651.5L300.4,651.1ZM300.0,655.2L299.8,655.7L299.1,655.2ZM298.0,660.6L297.8,661.1L297.2,660.6ZM296.6,664.1L296.3,664.7L295.5,664.0ZM295.5,666.5L295.3,667.1L294.5,666.4ZM292.9,671.9L292.6,672.5L291.7,671.6ZM291.2,675.2L290.8,675.9L289.9,675.0ZM289.4,678.3L289.0,679.0L288.0,678.0ZM286.5,683.0L286.1,683.7L285.1,682.6ZM284.1,686.5L283.5,687.3L282.5,686.0ZM282.6,688.6L282.0,689.3L281.0,688.0ZM279.5,692.5L278.9,693.3L277.9,691.8ZM276.1,696.7L275.4,697.4L274.4,695.9ZM273.8,699.2L273.0,699.9L272.0,698.2ZM271.0,702.1L270.2,702.8L269.2,701.1ZM268.8,704.2L267.9,705.0L266.9,703.1ZM265.1,707.5L264.2,708.3L263.2,706.3ZM261.3,710.7L260.3,711.5L259.4,709.3ZM258.7,712.7L257.7,713.5L256.8,711.3ZM254.5,715.8L253.4,716.5L252.6,714.1ZM251.8,717.6L250.6,718.4L249.8,715.9ZM247.6,720.2L246.3,721.0L245.7,718.3ZM243.9,722.3L242.7,723.0L242.0,720.4ZM240.0,724.4L238.6,725.1L238.1,722.2ZM236.5,726.0L235.1,726.7L234.6,723.8ZM231.5,728.2L230.0,728.8L229.7,725.8ZM227.5,729.8L226.0,730.4L225.6,727.3ZM225.0,730.7L223.4,731.2L223.3,728.0ZM219.2,732.5L217.6,733.0L217.5,729.8ZM216.7,733.2L215.0,733.6L215.1,730.2ZM211.9,734.3L210.2,734.7L210.4,731.3ZM208.2,735.1L206.4,735.4L206.7,731.9ZM203.2,735.9L201.4,736.1L201.8,732.7ZM200.2,736.3L198.3,736.4L198.9,732.9ZM195.5,736.7L193.6,736.8L194.2,733.3ZM190.7,737.0L188.7,737.0L189.6,733.4ZM185.9,737.0L184.0,737.1L184.9,733.4ZM182.5,737.0L180.5,736.9L181.8,733.1ZM177.0,736.7L175.0,736.6L176.3,732.8ZM173.4,736.3L171.3,736.1L172.8,732.2ZM170.3,735.9L168.2,735.7L169.7,731.8ZM161.3,734.4L159.1,733.9L161.1,730.0ZM157.9,733.7L155.7,733.1L158.0,729.0ZM254.3,701.5L253.2,702.3L252.2,699.9ZM250.0,704.7L248.9,705.6L247.9,703.1ZM248.6,705.8L247.3,706.6L246.4,703.9ZM244.5,708.5L243.2,709.3L242.4,706.6ZM240.4,710.9L239.0,711.7L238.3,708.8ZM234.5,714.2L232.9,714.9L232.4,711.7ZM229.6,716.4L228.0,717.1L227.5,714.0ZM227.9,717.2L226.2,717.8L225.9,714.4ZM223.3,718.9L221.6,719.5L221.3,716.1ZM219.9,720.1L218.0,720.7L218.0,717.1ZM216.5,721.1L214.7,721.6L214.7,718.1ZM204.8,723.9L202.7,724.1L203.2,720.3ZM199.4,724.6L197.3,724.9L197.9,721.0ZM196.5,724.9L194.3,725.1L195.2,721.1ZM192.2,725.2L190.1,725.3L190.9,721.3ZM187.5,725.3L185.3,725.3L186.5,721.2ZM184.5,725.3L182.3,725.3L183.5,721.2ZM181.5,725.3L179.2,725.1L180.7,720.9ZM175.7,724.8L173.4,724.6L174.9,720.3ZM173.6,724.6L171.2,724.2L173.1,719.9ZM169.4,723.9L167.1,723.5L169.0,719.2ZM165.4,723.2L162.9,722.7L165.3,718.2ZM160.0,722.0L157.6,721.4L159.9,716.9ZM153.0,719.9L150.5,719.1L153.3,714.6ZM149.2,718.6L146.7,717.6L150.0,713.2ZM146.2,717.4L143.7,716.4L147.0,711.9ZM141.9,715.6L139.4,714.3L143.1,709.9ZM136.1,712.8L133.6,711.3L137.8,707.1ZM127.7,707.7L125.3,706.0L129.9,702.0ZM125.5,706.2L123.0,704.5L127.6,700.4ZM122.0,703.7L119.6,701.8L124.6,698.0ZM119.2,701.5L116.9,699.6L121.9,695.8ZM115.4,698.4L113.2,696.3L118.6,692.8ZM112.3,695.5L110.1,693.4L115.5,689.9ZM110.3,693.5L108.2,691.3L113.9,688.1ZM107.4,690.4L105.3,688.2L111.0,685.0ZM105.2,688.1L103.3,685.7L109.3,682.9ZM101.8,683.7L99.9,681.3L105.8,678.5ZM100.3,681.9L98.5,679.4L104.7,677.0ZM97.4,677.6L95.6,675.1L101.8,672.7ZM94.8,673.7L93.3,671.0L99.6,669.2ZM92.7,670.1L91.2,667.4L97.5,665.5ZM91.7,668.4L90.4,665.7L96.8,664.3ZM89.6,663.9L88.2,661.1L94.6,659.8ZM88.0,660.5L86.9,657.7L93.3,656.8ZM86.5,656.7L85.4,653.9L91.8,653.0ZM84.9,652.7L84.1,649.8L90.4,649.4ZM83.6,648.4L82.7,645.5L89.1,645.1ZM82.9,646.2L82.2,643.3L88.5,643.4ZM81.9,641.8L81.2,638.9L87.5,639.0ZM81.0,637.9L80.6,635.0L86.6,635.5ZM80.4,634.1L80.0,631.3L86.1,631.8ZM79.8,630.2L79.6,627.4L85.5,628.4ZM79.4,624.8L79.2,622.0L85.0,622.9ZM79.2,622.1L79.2,619.4L84.8,620.7ZM79.2,616.6L79.2,613.8L84.7,615.2ZM79.2,614.4L79.3,611.6L85.0,613.4ZM79.7,606.8L80.1,603.9L85.8,606.2ZM80.5,601.2L80.9,598.3L86.6,600.6ZM81.1,597.3L81.8,594.3L87.4,597.1ZM81.7,594.5L82.4,591.5L88.0,594.3ZM84.9,583.1L86.0,580.1L91.4,583.9ZM86.4,579.0L87.5,576.1L93.0,579.9ZM89.2,572.4L90.6,569.5L95.8,573.7ZM91.3,568.0L92.9,565.3L97.9,569.9ZM93.1,564.8L94.7,562.1L99.7,566.7ZM94.8,561.8L96.5,559.2L101.3,564.2ZM97.5,557.7L99.3,555.0L104.0,560.1ZM99.2,555.2L101.1,552.7L105.5,558.1ZM101.9,551.7L103.8,549.2L108.2,554.6ZM104.0,548.9L106.1,546.6L110.1,552.3ZM106.8,545.8L108.9,543.5L113.0,549.2ZM109.9,542.5L112.1,540.3L115.7,546.4ZM112.2,540.3L114.5,538.1L118.1,544.1ZM115.6,537.0L118.1,535.0L121.2,541.3ZM118.1,535.0L120.6,533.0L123.7,539.3ZM122.0,531.8L124.6,530.0L127.3,536.5ZM124.7,529.9L127.3,528.1L130.0,534.6ZM129.0,527.0L131.7,525.4L133.9,532.0ZM131.9,525.3L134.6,523.6L136.8,530.3ZM134.9,523.5L137.7,522.1L139.3,528.8ZM139.7,521.1L142.5,519.6L144.1,526.4ZM141.6,520.1L144.5,518.9L145.6,525.6ZM145.4,518.5L148.4,517.3L149.4,524.0ZM150.3,516.6L153.3,515.6L153.9,522.3ZM154.1,515.3L157.1,514.3L157.6,521.0ZM157.9,514.2L160.9,513.4L160.9,520.0ZM160.4,513.5L163.5,512.8L163.5,519.3ZM164.9,512.4L168.0,511.9L167.5,518.3ZM169.7,511.6L172.9,511.1L172.4,517.5ZM172.9,511.1L176.0,510.8L175.1,517.0ZM176.8,510.7L179.9,510.4L179.0,516.6ZM180.1,510.4L183.3,510.3L181.8,516.3ZM185.6,510.3L188.8,510.2L187.3,516.2ZM188.5,510.2L191.6,510.4L189.8,516.0ZM193.7,510.5L196.7,510.6L194.9,516.3ZM201.7,511.3L204.6,511.7L202.4,516.9ZM203.6,511.5L206.3,512.1L203.9,516.9ZM208.4,512.5L211.1,513.0L208.7,517.8ZM212.6,513.4L215.2,514.1L212.6,518.5ZM215.7,514.2L218.2,515.0L215.6,519.3ZM219.5,515.3L221.9,516.2L219.1,520.1ZM224.7,517.2L227.0,518.0L224.3,522.0ZM227.0,518.0L229.2,519.0L226.3,522.5ZM231.2,519.9L233.4,520.9L230.5,524.4ZM234.7,521.5L236.6,522.5L233.7,525.6ZM238.1,523.3L240.1,524.4L237.2,527.4ZM242.6,525.9L244.4,527.0L241.5,529.6ZM245.6,527.8L247.3,528.9L244.4,531.5ZM247.9,529.3L249.4,530.4L246.6,532.6ZM251.4,531.9L252.9,533.0L250.1,535.2ZM255.1,534.8L256.4,535.9L253.7,537.7ZM257.9,537.2L259.2,538.3L256.5,540.1ZM261.2,540.2L262.3,541.3L259.7,542.7ZM264.2,543.2L265.3,544.4L262.8,545.8ZM266.6,545.7L267.5,546.8L265.1,547.9ZM269.5,549.2L270.4,550.3L268.1,551.4ZM271.5,551.5L272.2,552.6L270.0,553.4ZM274.6,555.8L275.3,556.8L273.2,557.6ZM276.1,557.9L276.7,558.9L274.8,559.4ZM278.2,561.3L278.8,562.3L276.9,562.8ZM280.6,565.2L281.0,566.1L279.3,566.4ZM282.5,568.9L283.0,569.8L281.3,570.1ZM283.9,571.6L284.2,572.4L282.8,572.6ZM285.6,575.5L285.9,576.3L284.5,576.5ZM287.6,580.5L287.8,581.1L286.6,581.1ZM288.4,583.0L288.7,583.6L287.5,583.6ZM290.8,590.8L290.9,591.3L290.1,591.3ZM292.1,596.2L292.2,596.8L291.3,596.7ZM292.8,599.9L292.9,600.5L292.0,600.4ZM293.4,604.0L293.4,604.6L292.6,604.4ZM293.8,608.1L293.9,608.7L293.0,608.5ZM294.0,610.3L294.0,610.8L293.2,610.6ZM294.3,616.0L294.3,616.6L293.4,616.3ZM294.3,618.6L294.2,619.1L293.4,618.8ZM294.1,622.3L294.1,622.9L293.3,622.6ZM293.9,626.4L293.9,626.9L293.1,626.6ZM293.5,630.2L293.5,630.8L292.7,630.4ZM292.8,635.6L292.7,636.1L291.9,635.7ZM292.3,638.3L292.2,638.9L291.4,638.5ZM291.5,642.2L291.3,642.7L290.6,642.2ZM290.5,645.9L290.4,646.4L289.6,646.0ZM289.0,651.0L288.8,651.6L288.1,651.0ZM287.7,654.9L287.5,655.4L286.8,654.9ZM286.4,658.2L286.1,658.8L285.3,658.1ZM285.0,661.5L284.7,662.1L283.9,661.4ZM283.6,664.6L283.2,665.3L282.2,664.3ZM281.5,668.6L281.1,669.3L280.2,668.4ZM279.3,672.5L278.8,673.2L277.8,672.1ZM277.0,676.2L276.5,677.0L275.5,675.8ZM275.6,678.3L275.0,679.1L274.0,677.7ZM270.7,685.0L270.0,685.8L268.9,684.1ZM267.8,688.4L267.1,689.3L266.0,687.6ZM266.1,690.3L265.3,691.2L264.2,689.3ZM263.4,693.1L262.6,694.0L261.5,692.1ZM260.5,696.1L259.5,697.0L258.4,694.8ZM256.2,699.8L255.2,700.7L254.2,698.5ZM133.7,537.5L136.3,536.0L138.1,542.0ZM136.6,535.8L139.1,534.2L141.0,540.2ZM140.6,533.4L143.3,532.0L144.7,538.1ZM144.0,531.7L146.6,530.4L148.0,536.4ZM146.5,530.4L149.2,529.3L150.1,535.3ZM151.1,528.5L153.8,527.4L154.7,533.5ZM153.2,527.6L156.0,526.7L156.4,532.7ZM157.1,526.3L159.9,525.4L160.3,531.5ZM160.7,525.1L163.6,524.5L163.5,530.4ZM165.2,524.1L168.1,523.4L168.0,529.3ZM168.8,523.3L171.7,522.8L171.1,528.6ZM175.5,522.2L178.4,522.0L177.4,527.5ZM179.1,521.9L182.0,521.7L181.0,527.2ZM184.2,521.6L187.1,521.6L185.7,526.9ZM187.2,521.6L190.1,521.6L188.7,526.9ZM190.0,521.5L192.9,521.8L191.1,526.7ZM195.0,521.9L197.9,522.1L196.1,527.1ZM198.8,522.3L201.5,522.7L199.4,527.2ZM203.3,523.0L205.9,523.4L203.9,527.9ZM205.5,523.3L208.0,523.9L205.7,528.1ZM209.0,524.1L211.5,524.7L209.2,528.9ZM213.2,525.1L215.5,525.9L213.0,529.6ZM216.3,526.1L218.6,526.9L216.1,530.6ZM219.7,527.2L221.8,528.0L219.2,531.4ZM225.0,529.3L227.1,530.2L224.5,533.5ZM227.0,530.2L228.9,531.1L226.3,534.0ZM231.1,532.2L233.0,533.2L230.3,536.1ZM234.8,534.2L236.5,535.2L233.9,537.7ZM237.3,535.7L239.0,536.7L236.4,539.2ZM240.0,537.3L241.5,538.4L238.9,540.5ZM244.4,540.5L245.9,541.5L243.3,543.6ZM246.1,541.7L247.4,542.8L244.9,544.5ZM250.3,545.1L251.5,546.2L249.0,547.9ZM253.0,547.6L254.1,548.6L251.7,550.0ZM255.1,549.6L256.1,550.7L253.8,552.0ZM257.6,552.2L258.5,553.2L256.3,554.2ZM260.4,555.3L261.3,556.3L259.1,557.4ZM263.1,558.7L263.9,559.6L261.9,560.4ZM265.5,561.8L266.2,562.8L264.2,563.5ZM267.4,564.6L268.0,565.5L266.2,566.0ZM269.8,568.3L270.3,569.2L268.5,569.7ZM271.1,570.5L271.5,571.3L270.0,571.6ZM273.6,575.2L274.0,576.0L272.5,576.3ZM275.1,578.4L275.4,579.1L274.1,579.2ZM276.1,580.8L276.4,581.5L275.1,581.7ZM279.1,588.8L279.3,589.4L278.3,589.4ZM280.2,592.6L280.3,593.1L279.5,593.0ZM280.9,595.1L281.0,595.6L280.2,595.6ZM281.8,599.4L281.9,599.9L281.1,599.8ZM283.0,606.5L283.0,607.0L282.2,606.8ZM283.4,610.8L283.4,611.3L282.6,611.1ZM283.6,613.9L283.6,614.4L282.8,614.1ZM283.7,618.1L283.7,618.6L282.9,618.3ZM283.7,620.9L283.6,621.4L282.9,621.1ZM283.4,624.6L283.4,625.1L282.7,624.8ZM283.2,628.3L283.1,628.8L282.4,628.4ZM282.7,632.1L282.6,632.6L281.8,632.2ZM282.0,636.1L281.9,636.6L281.2,636.2ZM281.3,639.3L281.2,639.8L280.5,639.4ZM280.2,644.0L280.0,644.5L279.3,644.1ZM279.0,647.8L278.9,648.3L278.2,647.8ZM278.3,650.0L278.1,650.5L277.4,650.0ZM276.7,654.2L276.5,654.8L275.8,654.2ZM275.0,658.3L274.7,658.9L273.8,658.1ZM273.9,660.5L273.6,661.1L272.8,660.3ZM270.4,667.1L270.0,667.8L269.1,666.8ZM268.6,670.1L268.1,670.9L267.1,669.7ZM265.5,674.6L265.0,675.3L264.1,674.1ZM263.7,677.1L263.1,677.9L262.1,676.4ZM261.2,680.1L260.6,680.9L259.6,679.5ZM259.7,682.0L258.9,682.8L257.9,681.1ZM256.1,685.8L255.3,686.6L254.3,684.9ZM254.2,687.7L253.3,688.6L252.4,686.6ZM251.8,690.0L250.8,690.8L249.9,688.8ZM248.7,692.6L247.7,693.5L246.8,691.3ZM245.5,695.2L244.4,696.0L243.6,693.8ZM241.7,697.9L240.5,698.7L239.7,696.2ZM238.6,699.9L237.4,700.7L236.7,698.3ZM237.0,701.0L235.7,701.7L235.1,699.1ZM232.9,703.3L231.5,704.0L230.9,701.3ZM229.9,704.9L228.4,705.5L228.0,702.6ZM226.0,706.6L224.5,707.3L224.1,704.4ZM222.2,708.3L220.6,708.8L220.3,705.8ZM218.6,709.6L217.0,710.2L216.7,707.1ZM216.8,710.2L215.0,710.7L215.0,707.5ZM209.6,712.3L207.7,712.6L208.0,709.2ZM204.8,713.2L202.9,713.6L203.2,710.2ZM201.9,713.8L200.0,714.0L200.5,710.5ZM197.7,714.3L195.7,714.5L196.3,711.0ZM190.4,714.8L188.3,714.9L189.2,711.3ZM186.0,714.9L183.9,714.8L185.1,711.1ZM183.3,714.8L181.1,714.7L182.3,711.0ZM179.8,714.7L177.6,714.4L179.2,710.6ZM174.7,714.1L172.5,713.8L174.1,710.0ZM171.3,713.6L169.1,713.2L171.0,709.2ZM167.9,713.0L165.6,712.5L167.6,708.6ZM163.5,712.0L161.2,711.3L163.6,707.3ZM159.8,710.9L157.4,710.3L159.8,706.3ZM157.7,710.4L155.3,709.5L158.1,705.5ZM152.7,708.6L150.3,707.7L153.1,703.7ZM150.3,707.7L148.0,706.6L151.2,702.7ZM147.0,706.2L144.7,705.1L147.9,701.2ZM143.3,704.5L140.9,703.2L144.6,699.3ZM139.5,702.4L137.1,701.1L140.8,697.2ZM137.1,701.0L134.8,699.5L138.8,695.8ZM134.1,699.1L131.8,697.6L135.9,693.9ZM130.3,696.5L128.1,694.8L132.6,691.4ZM128.0,694.7L125.8,693.0L130.2,689.5ZM124.3,691.8L122.2,689.9L127.0,686.7ZM122.3,690.0L120.2,688.1L125.0,684.9ZM118.6,686.5L116.7,684.5L121.8,681.6ZM116.9,684.7L114.9,682.6L120.0,679.7ZM113.8,681.3L112.0,679.1L117.3,676.6ZM112.0,679.1L110.2,676.9L115.5,674.4ZM109.6,676.2L108.0,673.8L113.5,671.7ZM107.1,672.5L105.4,670.1L111.0,668.1ZM105.3,669.9L103.8,667.4L109.5,665.7ZM102.7,665.4L101.2,662.9L106.9,661.3ZM100.0,660.3L98.8,657.7L104.6,656.5ZM97.8,655.4L96.8,652.8L102.6,652.0ZM96.6,652.2L95.5,649.6L101.3,648.8ZM95.6,649.9L94.8,647.2L100.5,646.9ZM94.5,646.3L93.7,643.6L99.5,643.3ZM93.4,642.3L92.8,639.6L98.4,639.8ZM92.5,638.4L91.9,635.7L97.5,635.9ZM91.7,634.3L91.3,631.7L96.8,632.3ZM91.2,630.6L90.8,627.9L96.2,628.5ZM90.8,628.0L90.6,625.3L95.8,626.3ZM90.5,623.5L90.4,620.9L95.6,621.9ZM90.4,618.9L90.4,616.3L95.4,617.7ZM90.4,615.7L90.5,613.1L95.5,614.5ZM90.5,612.5L90.7,609.8L95.8,611.6ZM90.9,608.0L91.2,605.3L96.3,607.1ZM91.3,604.4L91.8,601.6L96.9,603.9ZM92.0,600.3L92.5,597.6L97.6,599.9ZM92.6,597.3L93.3,594.5L98.4,597.3ZM93.4,594.1L94.2,591.3L99.2,594.1ZM94.2,591.1L95.1,588.3L100.1,591.5ZM95.9,586.1L96.8,583.3L101.8,586.5ZM97.0,583.0L98.1,580.3L102.9,583.9ZM98.4,579.8L99.5,577.0L104.3,580.7ZM100.0,576.1L101.3,573.5L105.9,577.6ZM103.0,570.3L104.6,567.7L108.9,572.2ZM105.7,565.9L107.3,563.4L111.6,567.9ZM109.2,561.0L110.9,558.6L115.0,563.4ZM111.4,557.9L113.4,555.6L117.0,560.8ZM115.0,553.8L117.0,551.5L120.6,556.7ZM116.2,552.3L118.4,550.2L121.6,555.6ZM119.7,548.9L121.8,546.8L125.0,552.3ZM122.2,546.5L124.5,544.6L127.3,550.2ZM125.7,543.6L127.9,541.6L130.8,547.3ZM130.6,539.7L133.1,538.0L135.4,543.9ZM121.3,675.2L119.6,673.1L124.5,670.9ZM118.7,672.0L117.0,669.9L121.9,667.7ZM117.7,670.7L116.1,668.5L121.2,666.7ZM115.3,667.2L113.7,664.9L118.8,663.1ZM113.4,664.4L112.0,662.0L117.2,660.6ZM111.3,660.7L110.0,658.4L115.2,657.0ZM110.0,658.5L108.9,656.1L114.2,655.1ZM106.9,651.7L106.0,649.2L111.2,648.7ZM105.5,647.8L104.5,645.3L109.8,644.8ZM104.7,645.7L104.0,643.2L109.1,643.1ZM103.4,641.2L102.7,638.6L107.8,638.5ZM102.6,638.2L102.1,635.6L107.1,636.0ZM101.9,634.7L101.4,632.2L106.5,632.5ZM101.2,630.6L101.0,628.2L105.8,628.9ZM100.9,627.6L100.6,625.1L105.5,625.8ZM100.6,623.9L100.5,621.5L105.1,622.6ZM100.5,621.2L100.4,618.8L105.0,619.8ZM100.4,618.2L100.5,615.7L105.0,617.2ZM100.5,614.1L100.7,611.7L105.2,613.1ZM100.7,611.0L101.0,608.4L105.6,610.3ZM101.2,607.4L101.5,604.8L106.1,606.7ZM101.6,604.2L102.1,601.6L106.7,604.0ZM102.5,599.7L103.1,597.1L107.6,599.4ZM103.0,597.3L103.8,594.7L108.3,597.5ZM104.2,593.4L105.0,590.8L109.5,593.5ZM105.3,590.0L106.3,587.4L110.6,590.5ZM106.4,587.0L107.4,584.4L111.8,587.6ZM108.0,583.1L109.2,580.6L113.4,584.2ZM109.6,579.8L110.8,577.3L115.0,580.9ZM111.1,576.9L112.5,574.5L116.4,578.5ZM113.0,573.7L114.4,571.3L118.3,575.2ZM113.8,572.1L115.4,569.8L119.1,574.1ZM116.9,567.7L118.5,565.4L122.2,569.7ZM118.1,566.0L119.9,563.8L123.2,568.4ZM120.3,563.3L122.1,561.2L125.5,565.8ZM123.2,559.9L125.2,557.9L128.2,562.8ZM125.0,558.1L126.9,556.1L129.9,561.0ZM128.2,554.9L130.3,553.1L132.9,558.2ZM131.1,552.4L133.2,550.6L135.8,555.7ZM133.5,550.4L135.7,548.7L137.9,554.0ZM136.6,548.1L138.8,546.4L141.0,551.7ZM139.3,546.2L141.6,544.7L143.3,550.2ZM142.1,544.4L144.5,543.0L146.2,548.4ZM145.1,542.7L147.6,541.4L148.8,546.9ZM148.6,540.9L151.0,539.6L152.3,545.1ZM150.5,539.8L153.1,538.8L153.9,544.3ZM153.7,538.5L156.3,537.5L157.0,542.9ZM156.6,537.3L159.3,536.4L159.6,541.8ZM160.3,536.1L162.9,535.2L163.2,540.7ZM164.1,534.9L166.8,534.2L166.6,539.6ZM168.3,533.9L171.0,533.2L170.8,538.6ZM171.5,533.2L174.2,532.7L173.6,537.9ZM174.6,532.7L177.4,532.3L176.8,537.5ZM178.4,532.2L181.2,532.0L180.2,537.0ZM184.0,531.7L186.8,531.8L185.4,536.5ZM188.7,531.8L191.5,531.8L190.0,536.5ZM192.1,531.8L194.7,532.1L193.0,536.5ZM196.3,532.2L198.9,532.4L197.2,536.9ZM199.8,532.6L202.2,533.0L200.3,537.1ZM202.5,533.1L205.0,533.5L203.0,537.6ZM205.0,533.5L207.3,534.1L205.2,537.7ZM209.6,534.7L211.9,535.3L209.8,538.9ZM213.3,535.7L215.4,536.4L213.1,539.7ZM216.1,536.7L218.2,537.4L215.9,540.7ZM219.8,538.0L221.7,538.9L219.4,541.7ZM222.6,539.2L224.5,540.1L222.1,542.9ZM225.9,540.8L227.6,541.7L225.2,544.1ZM228.7,542.3L230.4,543.2L228.0,545.6ZM231.9,544.0L233.4,545.0L231.0,547.1ZM234.8,545.9L236.3,546.8L233.9,548.9ZM238.6,548.5L240.0,549.5L237.6,551.2ZM241.3,550.5L242.6,551.5L240.3,553.2ZM243.3,552.1L244.4,553.1L242.2,554.5ZM246.4,554.9L247.5,555.9L245.2,557.3ZM249.1,557.5L250.0,558.5L247.9,559.5ZM251.5,560.1L252.5,561.1L250.4,562.1ZM253.6,562.4L254.3,563.3L252.4,564.1ZM255.6,564.9L256.3,565.8L254.4,566.6ZM257.6,567.4L258.2,568.3L256.4,568.8ZM260.1,571.1L260.6,572.0L258.9,572.5ZM262.0,574.3L262.5,575.1L261.0,575.4ZM263.7,577.2L264.1,578.0L262.6,578.3ZM265.3,580.2L265.6,580.9L264.3,581.1ZM266.8,583.5L267.1,584.2L265.8,584.4ZM267.9,586.0L268.1,586.6L267.1,586.6ZM269.3,589.8L269.5,590.4L268.5,590.5ZM270.2,592.4L270.3,592.9L269.5,592.9ZM271.2,595.8L271.3,596.3L270.5,596.3ZM272.3,600.7L272.4,601.1L271.7,601.0ZM272.8,603.3L272.9,603.7L272.2,603.6ZM273.5,607.3L273.5,607.8L272.8,607.6ZM273.8,610.0L273.8,610.5L273.1,610.3ZM274.1,613.6L274.1,614.1L273.4,613.9ZM274.2,617.3L274.2,617.8L273.5,617.6ZM274.2,621.6L274.1,622.0L273.4,621.8ZM274.0,624.5L274.0,625.0L273.3,624.7ZM273.8,627.1L273.8,627.5L273.1,627.2ZM273.3,631.5L273.2,632.0L272.5,631.7ZM272.8,634.6L272.7,635.0L272.0,634.7ZM272.0,638.1L271.9,638.5L271.3,638.1ZM270.1,645.0L270.0,645.4L269.4,645.0ZM269.3,647.5L269.1,648.0L268.5,647.4ZM267.9,651.1L267.7,651.6L267.1,651.0ZM266.8,653.8L266.6,654.4L265.8,653.6ZM264.7,658.2L264.4,658.8L263.6,658.0ZM262.9,661.5L262.5,662.2L261.7,661.2ZM261.1,664.5L260.7,665.2L259.9,664.2ZM260.2,666.0L259.7,666.7L258.8,665.5ZM257.9,669.3L257.4,670.0L256.5,668.9ZM256.0,671.9L255.4,672.6L254.5,671.3ZM253.0,675.5L252.4,676.3L251.5,674.9ZM250.7,678.1L249.9,678.9L249.1,677.2ZM249.1,679.7L248.4,680.5L247.5,678.9ZM245.9,682.8L245.1,683.6L244.2,681.7ZM242.9,685.5L242.0,686.2L241.2,684.4ZM240.3,687.6L239.2,688.3L238.5,686.2ZM238.7,688.7L237.7,689.4L236.9,687.4ZM235.1,691.3L233.9,692.0L233.3,689.7ZM232.8,692.6L231.7,693.4L231.1,691.1ZM229.0,694.9L227.7,695.6L227.2,693.1ZM225.5,696.7L224.2,697.4L223.7,694.8ZM223.9,697.5L222.4,698.1L222.2,695.4ZM219.6,699.3L218.2,699.9L217.9,697.2ZM216.4,700.6L214.8,701.1L214.8,698.2ZM212.7,701.8L211.1,702.3L211.1,699.4ZM209.8,702.6L208.1,703.0L208.3,700.0ZM206.6,703.4L205.0,703.8L205.1,700.7ZM199.1,704.7L197.4,705.0L197.8,701.9ZM196.8,705.1L194.9,705.2L195.6,702.0ZM191.9,705.4L190.0,705.6L190.7,702.3ZM188.8,705.5L186.9,705.5L187.9,702.2ZM181.9,705.4L179.8,705.2L181.2,701.8ZM179.2,705.1L177.1,705.0L178.5,701.5ZM174.9,704.7L172.7,704.3L174.4,700.8ZM171.6,704.1L169.5,703.7L171.2,700.2ZM168.0,703.4L165.8,702.8L167.9,699.2ZM165.5,702.8L163.4,702.2L165.4,698.6ZM162.4,701.9L160.2,701.2L162.7,697.6ZM158.4,700.6L156.2,699.8L158.6,696.2ZM154.8,699.2L152.5,698.3L155.4,694.7ZM151.5,697.8L149.3,696.8L152.1,693.3ZM148.4,696.4L146.3,695.2L149.5,691.7ZM146.2,695.2L144.0,694.0L147.3,690.5ZM142.4,693.1L140.3,691.7L143.9,688.4ZM139.2,691.0L137.0,689.6L140.7,686.3ZM137.7,690.0L135.6,688.5L139.6,685.3ZM133.7,687.0L131.6,685.5L135.7,682.3ZM129.2,683.2L127.2,681.4L131.6,678.6ZM126.1,680.4L124.3,678.4L128.9,675.9ZM124.2,678.4L122.4,676.4L127.0,673.9ZM185.4,540.9L188.1,540.9L186.7,545.2ZM187.7,540.9L190.3,540.9L189.0,545.2ZM192.1,541.0L194.6,541.2L193.0,545.2ZM195.2,541.3L197.7,541.5L196.1,545.4ZM199.0,541.7L201.3,542.1L199.5,545.7ZM201.7,542.2L204.0,542.6L202.2,546.2ZM204.4,542.6L206.5,543.2L204.5,546.5ZM207.7,543.5L209.9,544.1L207.9,547.3ZM211.1,544.5L213.1,545.2L211.0,548.0ZM214.5,545.7L216.5,546.4L214.3,549.2ZM217.1,546.6L218.9,547.4L216.7,549.9ZM221.6,548.7L223.4,549.5L221.2,552.0ZM223.2,549.4L224.7,550.3L222.5,552.4ZM227.2,551.7L228.8,552.5L226.6,554.7ZM229.7,553.2L231.1,554.1L228.9,555.8ZM232.5,555.0L233.8,556.0L231.6,557.7ZM238.2,559.5L239.4,560.4L237.3,561.9ZM240.3,561.3L241.3,562.2L239.3,563.3ZM243.1,564.0L244.0,564.9L242.0,566.0ZM245.5,566.5L246.3,567.4L244.4,568.2ZM249.1,570.7L249.7,571.6L248.0,572.1ZM251.1,573.4L251.7,574.3L250.0,574.8ZM252.8,575.9L253.3,576.7L251.8,577.0ZM255.1,579.6L255.5,580.3L254.1,580.7ZM258.5,586.0L258.8,586.7L257.6,586.9ZM259.6,588.5L259.8,589.1L258.8,589.2ZM261.8,594.2L261.9,594.7L261.1,594.7ZM263.7,601.3L263.8,601.8L263.1,601.7ZM264.4,604.3L264.5,604.8L263.8,604.7ZM265.3,610.5L265.4,611.0L264.7,610.8ZM265.6,613.7L265.6,614.2L264.9,614.0ZM265.8,618.3L265.8,618.8L265.1,618.6ZM265.7,621.4L265.7,621.8L265.1,621.6ZM265.6,624.7L265.6,625.2L264.9,624.9ZM265.0,630.1L264.9,630.5L264.3,630.2ZM263.5,637.6L263.4,638.1L262.8,637.7ZM262.8,640.6L262.6,641.0L262.0,640.6ZM262.0,643.1L261.8,643.5L261.3,643.1ZM260.9,646.3L260.7,646.8L260.1,646.2ZM259.4,649.9L259.2,650.4L258.6,649.8ZM258.4,652.3L258.1,652.9L257.3,652.2ZM256.4,656.1L256.2,656.7L255.4,655.9ZM254.9,658.9L254.5,659.5L253.7,658.6ZM253.7,660.8L253.3,661.5L252.5,660.5ZM249.1,667.4L248.5,668.1L247.7,666.9ZM247.9,668.8L247.3,669.6L246.5,668.2ZM245.7,671.4L245.0,672.1L244.2,670.7ZM242.6,674.6L241.9,675.3L241.1,673.7ZM240.6,676.5L239.8,677.2L239.1,675.6ZM237.8,679.0L236.9,679.7L236.2,677.9ZM235.3,680.9L234.4,681.7L233.7,679.9ZM233.4,682.4L232.4,683.1L231.8,681.1ZM229.8,684.8L228.8,685.5L228.2,683.5ZM228.1,686.0L226.9,686.7L226.4,684.4ZM224.8,687.8L223.6,688.4L223.2,686.2ZM222.3,689.2L220.9,689.8L220.6,687.3ZM218.0,691.1L216.7,691.7L216.4,689.2ZM216.2,691.9L214.8,692.4L214.7,689.8ZM212.7,693.1L211.2,693.6L211.1,691.0ZM206.8,694.8L205.2,695.2L205.4,692.5ZM202.7,695.8L201.0,696.0L201.4,693.2ZM199.6,696.3L197.9,696.6L198.3,693.7ZM196.9,696.7L195.1,696.9L195.8,693.9ZM189.0,697.2L187.2,697.2L188.1,694.2ZM187.1,697.2L185.3,697.2L186.2,694.2ZM182.6,697.1L180.7,696.9L181.9,693.8ZM179.5,696.8L177.5,696.6L178.8,693.5ZM175.9,696.4L173.9,696.0L175.5,692.8ZM172.8,695.8L170.8,695.5L172.4,692.3ZM170.9,695.5L168.8,694.9L170.8,691.7ZM166.3,694.3L164.3,693.7L166.3,690.5ZM164.4,693.8L162.3,693.0L164.7,689.8ZM160.0,692.2L157.9,691.4L160.2,688.2ZM157.6,691.3L155.5,690.3L158.2,687.1ZM155.0,690.1L153.0,689.1L155.7,686.0ZM151.4,688.4L149.3,687.2L152.4,684.1ZM149.3,687.2L147.3,686.0L150.4,683.0ZM145.8,685.2L143.8,683.8L147.3,680.9ZM143.4,683.5L141.4,682.2L144.9,679.2ZM140.4,681.4L138.5,679.8L142.2,677.1ZM137.4,679.0L135.5,677.4L139.3,674.7ZM135.8,677.7L134.0,675.9L138.1,673.5ZM132.6,674.6L130.8,672.9L134.9,670.4ZM130.4,672.4L128.7,670.5L133.1,668.4ZM128.0,669.7L126.4,667.7L130.7,665.6ZM126.0,667.2L124.5,665.1L129.0,663.4ZM124.3,664.9L122.8,662.8L127.3,661.1ZM122.1,661.7L120.7,659.5L125.4,658.1ZM120.3,658.8L119.0,656.6L123.6,655.2ZM119.2,657.1L118.1,654.8L122.8,653.9ZM117.6,653.7L116.4,651.4L121.2,650.5ZM116.1,650.8L115.2,648.5L120.0,648.0ZM115.1,648.2L114.2,645.9L118.9,645.3ZM113.7,644.5L112.9,642.1L117.6,642.0ZM112.8,641.7L112.1,639.4L116.8,639.2ZM111.6,637.5L111.1,635.1L115.7,635.4ZM111.1,635.0L110.6,632.6L115.2,632.9ZM110.4,631.7L110.1,629.4L114.5,630.0ZM110.1,628.8L109.8,626.5L114.2,627.1ZM109.6,624.1L109.5,621.8L113.7,622.8ZM109.5,621.4L109.4,619.1L113.6,620.1ZM109.4,618.2L109.5,615.9L113.6,617.2ZM109.6,614.0L109.7,611.7L113.8,613.0ZM109.7,612.2L110.0,609.8L114.1,611.6ZM110.1,608.7L110.5,606.3L114.6,608.0ZM110.5,605.9L111.0,603.5L115.1,605.7ZM111.5,601.4L112.0,599.0L116.1,601.2ZM111.8,599.5L112.6,597.0L116.6,599.6ZM113.2,595.3L113.9,592.8L117.9,595.4ZM114.2,592.1L115.2,589.6L119.1,592.6ZM115.6,588.6L116.6,586.1L120.5,589.1ZM116.2,587.0L117.4,584.6L121.1,588.0ZM118.2,583.2L119.4,580.8L123.1,584.2ZM119.4,580.7L120.8,578.4L124.3,582.1ZM121.4,577.5L122.8,575.3L126.2,579.0ZM123.3,574.6L124.8,572.5L128.0,576.5ZM124.9,572.4L126.4,570.3L129.6,574.3ZM127.4,569.1L129.2,567.1L132.0,571.4ZM131.4,564.6L133.4,562.8L135.8,567.3ZM134.5,561.7L136.4,559.9L138.9,564.4ZM139.5,557.4L141.6,555.8L143.6,560.5ZM141.2,556.0L143.4,554.6L145.1,559.4ZM147.6,551.9L149.9,550.6L151.1,555.5ZM150.7,550.2L153.0,548.9L154.2,553.8ZM152.3,549.2L154.7,548.2L155.4,553.1ZM158.6,546.4L161.1,545.5L161.4,550.5ZM162.5,545.0L165.0,544.2L165.3,549.1ZM165.4,544.1L167.9,543.4L167.8,548.3ZM168.6,543.2L171.1,542.6L171.0,547.5ZM170.9,542.6L173.5,542.2L173.0,546.9ZM176.0,541.8L178.6,541.3L178.0,546.0ZM179.1,541.3L181.7,541.1L180.7,545.6ZM182.3,541.1L184.9,540.9L184.0,545.4ZM238.5,570.5L239.2,571.3L237.5,572.1ZM240.9,573.2L241.6,574.0L239.9,574.8ZM242.9,575.5L243.5,576.3L241.9,576.8ZM245.4,578.9L246.0,579.8L244.5,580.3ZM246.6,580.5L247.0,581.3L245.7,581.6ZM249.8,586.0L250.1,586.6L249.0,586.8ZM251.5,589.4L251.9,590.1L250.7,590.3ZM253.9,595.0L254.1,595.6L253.2,595.6ZM254.9,597.8L255.0,598.3L254.3,598.2ZM255.6,600.5L255.8,600.9L255.0,600.9ZM256.4,603.3L256.5,603.7L255.8,603.6ZM257.1,606.9L257.2,607.4L256.5,607.3ZM257.6,609.6L257.6,610.0L257.0,609.9ZM258.0,613.3L258.0,613.8L257.4,613.6ZM258.2,616.4L258.2,616.8L257.6,616.6ZM258.3,619.7L258.3,620.2L257.6,620.0ZM258.2,622.8L258.1,623.2L257.5,623.0ZM258.0,625.8L257.9,626.2L257.3,625.9ZM257.7,628.6L257.6,629.0L257.0,628.7ZM257.2,631.5L257.2,631.9L256.6,631.6ZM256.6,634.8L256.5,635.2L255.9,634.9ZM255.7,638.1L255.6,638.5L255.1,638.1ZM255.0,640.6L254.9,641.0L254.3,640.6ZM254.0,643.5L253.9,643.9L253.3,643.5ZM252.8,646.6L252.6,647.1L252.0,646.5ZM251.2,650.3L250.9,650.8L250.3,650.2ZM250.0,652.6L249.7,653.1L249.0,652.4ZM249.0,654.4L248.6,655.0L247.9,654.2ZM247.1,657.4L246.7,658.0L246.0,657.1ZM245.4,660.0L244.9,660.7L244.2,659.7ZM243.3,662.8L242.7,663.5L242.0,662.3ZM239.3,667.5L238.6,668.2L237.9,666.8ZM237.4,669.4L236.8,670.1L236.0,668.7ZM234.9,671.8L234.1,672.5L233.5,670.9ZM232.2,674.1L231.4,674.8L230.8,673.2ZM230.4,675.6L229.4,676.2L228.9,674.4ZM227.4,677.7L226.5,678.3L225.9,676.5ZM225.3,679.0L224.3,679.7L223.8,677.7ZM222.2,680.9L221.1,681.5L220.7,679.5ZM220.5,681.9L219.3,682.4L219.0,680.3ZM217.7,683.2L216.5,683.7L216.2,681.6ZM214.2,684.7L212.8,685.2L212.8,682.9ZM210.5,686.1L209.2,686.6L209.1,684.2ZM208.6,686.7L207.2,687.1L207.3,684.7ZM204.8,687.8L203.3,688.2L203.4,685.7ZM202.7,688.3L201.1,688.6L201.5,686.0ZM199.4,688.9L197.8,689.1L198.1,686.6ZM196.7,689.3L195.1,689.4L195.7,686.8ZM193.1,689.6L191.4,689.8L192.0,687.1ZM190.5,689.8L188.8,689.8L189.6,687.1ZM186.4,689.8L184.7,689.8L185.5,687.1ZM184.1,689.7L182.3,689.6L183.5,686.8ZM181.1,689.5L179.3,689.3L180.5,686.5ZM177.8,689.1L175.9,688.8L177.4,685.9ZM175.3,688.7L173.5,688.3L175.0,685.4ZM172.1,688.1L170.1,687.5L172.0,684.6ZM166.3,686.5L164.3,685.7L166.5,682.8ZM162.2,684.9L160.2,684.2L162.4,681.3ZM160.7,684.4L158.8,683.5L161.3,680.7ZM157.1,682.7L155.2,681.8L157.7,678.9ZM154.1,681.2L152.2,680.1L155.1,677.3ZM151.0,679.4L149.1,678.2L152.0,675.5ZM149.1,678.2L147.3,676.9L150.5,674.3ZM146.7,676.5L144.8,675.1L148.0,672.6ZM144.0,674.5L142.2,673.0L145.8,670.7ZM141.1,672.0L139.3,670.5L142.9,668.2ZM139.4,670.5L137.8,668.8L141.6,666.8ZM137.3,668.3L135.7,666.6L139.5,664.6ZM135.1,666.0L133.6,664.1L137.6,662.4ZM131.2,661.2L129.9,659.2L134.1,657.9ZM127.9,656.3L126.7,654.2L131.0,653.2ZM125.9,652.7L124.8,650.7L129.0,649.7ZM123.2,647.1L122.2,644.9L126.5,644.3ZM122.4,645.5L121.7,643.2L126.0,643.0ZM121.1,641.5L120.3,639.3L124.6,639.0ZM120.1,638.2L119.5,635.9L123.7,636.1ZM119.5,635.9L118.9,633.7L123.1,633.8ZM118.8,633.2L118.5,631.0L122.5,631.5ZM118.3,629.6L117.9,627.4L122.0,627.9ZM117.9,627.2L117.8,625.0L121.6,625.8ZM117.6,623.2L117.5,621.1L121.3,621.9ZM117.5,619.6L117.6,617.5L121.3,618.6ZM117.6,617.9L117.6,615.8L121.3,616.9ZM117.7,613.8L118.0,611.5L121.7,613.1ZM118.1,610.7L118.3,608.5L122.1,610.0ZM118.3,608.4L118.8,606.1L122.5,608.1ZM119.1,604.8L119.6,602.5L123.3,604.4ZM119.5,602.5L120.2,600.2L123.9,602.5ZM120.6,598.9L121.3,596.5L124.9,598.9ZM121.6,595.9L122.5,593.6L126.0,596.3ZM123.0,592.3L123.9,590.0L127.4,592.8ZM123.7,590.5L124.8,588.3L128.2,591.3ZM125.0,587.9L126.1,585.7L129.4,588.8ZM126.3,585.3L127.6,583.2L130.7,586.6ZM128.1,582.5L129.4,580.4L132.5,583.8ZM130.2,579.1L131.7,577.1L134.5,580.8ZM132.2,576.5L133.7,574.5L136.5,578.2ZM133.1,575.1L134.8,573.3L137.3,577.2ZM135.7,572.3L137.3,570.5L139.8,574.4ZM137.7,570.1L139.5,568.4L141.7,572.5ZM140.0,568.0L141.8,566.3L143.9,570.4ZM143.0,565.3L144.9,563.8L146.7,568.1ZM144.8,563.8L146.8,562.3L148.5,566.6ZM147.2,562.0L149.3,560.6L150.7,565.1ZM150.6,559.8L152.7,558.4L154.1,562.9ZM153.3,558.2L155.5,557.0L156.4,561.5ZM155.7,556.9L157.8,555.8L158.8,560.3ZM161.7,554.2L163.9,553.2L164.5,557.7ZM164.5,553.1L166.9,552.3L167.0,556.8ZM166.7,552.4L169.0,551.6L169.2,556.1ZM170.6,551.2L173.0,550.7L172.7,555.1ZM173.7,550.5L176.1,550.0L175.8,554.4ZM175.7,550.1L178.2,549.8L177.5,554.0ZM178.7,549.7L181.1,549.4L180.4,553.6ZM182.7,549.3L185.2,549.2L184.1,553.2ZM185.8,549.1L188.3,549.0L187.2,553.0ZM187.8,549.0L190.2,549.1L188.8,552.9ZM194.3,549.3L196.6,549.6L194.9,553.0ZM197.2,549.7L199.5,550.0L197.9,553.4ZM200.7,550.2L202.8,550.7L201.0,553.8ZM203.3,550.8L205.4,551.3L203.6,554.4ZM207.5,551.9L209.4,552.5L207.5,555.2ZM209.7,552.6L211.6,553.2L209.7,555.9ZM212.6,553.5L214.4,554.3L212.4,556.6ZM215.3,554.6L217.0,555.4L215.0,557.7ZM218.5,556.1L220.1,556.9L218.0,558.9ZM221.9,557.9L223.5,558.7L221.4,560.7ZM224.0,559.0L225.3,559.9L223.3,561.5ZM226.5,560.6L227.8,561.5L225.8,563.2ZM230.0,563.0L231.1,563.9L229.1,565.2ZM231.6,564.4L232.8,565.3L230.8,566.6ZM234.7,566.9L235.6,567.8L233.8,568.8ZM237.3,569.4L238.3,570.3L236.4,571.3ZM248.0,598.8L248.1,599.2L247.4,599.2ZM248.9,601.6L249.0,602.1L248.3,602.0ZM249.7,604.7L249.8,605.1L249.2,605.0ZM250.4,608.0L250.5,608.4L249.9,608.3ZM250.8,609.9L250.8,610.3L250.2,610.2ZM251.2,613.3L251.3,613.7L250.6,613.6ZM251.5,616.5L251.5,616.9L250.9,616.7ZM251.5,619.0L251.6,619.4L250.9,619.3ZM251.5,621.5L251.5,621.9L250.9,621.6ZM251.4,624.7L251.3,625.1L250.7,624.9ZM251.1,627.7L251.0,628.1L250.4,627.9ZM250.6,630.5L250.6,630.9L250.0,630.6ZM250.2,632.9L250.1,633.3L249.6,633.0ZM249.4,636.1L249.3,636.5L248.8,636.2ZM248.8,638.5L248.6,638.9L248.1,638.5ZM247.6,641.8L247.5,642.1L247.0,641.7ZM246.7,644.2L246.5,644.7L245.9,644.1ZM245.4,647.0L245.2,647.5L244.6,646.9ZM244.3,649.3L244.0,649.8L243.4,649.1ZM242.7,652.1L242.4,652.7L241.7,651.9ZM240.7,655.2L240.3,655.8L239.6,654.9ZM239.0,657.7L238.6,658.3L237.9,657.4ZM238.0,659.0L237.5,659.6L236.8,658.5ZM236.2,661.2L235.6,661.8L235.0,660.7ZM233.7,664.0L233.0,664.6L232.4,663.3ZM231.8,665.8L231.1,666.5L230.5,665.2ZM229.4,668.0L228.6,668.6L228.0,667.1ZM226.9,670.1L226.1,670.7L225.5,669.2ZM224.9,671.5L224.0,672.1L223.5,670.4ZM223.0,672.8L222.1,673.4L221.6,671.7ZM219.9,674.7L218.8,675.3L218.5,673.4ZM218.1,675.7L217.1,676.2L216.7,674.4ZM215.5,677.1L214.4,677.6L214.2,675.5ZM212.5,678.3L211.3,678.8L211.2,676.8ZM210.4,679.3L209.1,679.7L209.1,677.5ZM206.6,680.5L205.3,680.9L205.3,678.7ZM203.6,681.3L202.2,681.6L202.4,679.3ZM200.8,681.9L199.4,682.3L199.6,680.0ZM198.5,682.4L197.0,682.6L197.5,680.2ZM195.6,682.8L194.1,683.0L194.6,680.6ZM192.1,683.1L190.6,683.2L191.3,680.7ZM189.9,683.2L188.3,683.2L189.1,680.8ZM186.3,683.2L184.6,683.1L185.6,680.6ZM184.5,683.1L182.8,683.0L183.8,680.5ZM181.6,682.9L179.9,682.7L181.2,680.1ZM178.5,682.5L176.7,682.2L178.0,679.6ZM174.9,681.8L173.1,681.4L174.7,678.8ZM172.1,681.1L170.2,680.7L171.9,678.1ZM169.3,680.4L167.5,679.7L169.4,677.1ZM167.1,679.6L165.3,679.0L167.2,676.3ZM163.6,678.3L161.7,677.4L164.0,674.9ZM160.8,677.0L159.0,676.2L161.3,673.6ZM158.6,675.9L156.8,674.9L159.4,672.4ZM156.1,674.5L154.3,673.4L156.9,671.0ZM154.4,673.6L152.7,672.3L155.6,670.0ZM151.5,671.5L149.7,670.2L152.6,667.9ZM148.6,669.4L146.9,668.0L150.2,665.9ZM146.5,667.6L144.8,666.1L148.0,664.1ZM144.5,665.8L142.9,664.2L146.4,662.4ZM142.8,664.1L141.2,662.5L144.7,660.7ZM140.2,661.2L138.7,659.5L142.4,658.0ZM138.7,659.4L137.2,657.6L140.9,656.1ZM137.3,657.8L136.1,655.9L139.9,654.7ZM135.3,654.8L134.1,652.9L137.9,651.7ZM133.9,652.6L132.8,650.6L136.7,649.8ZM132.1,649.4L131.0,647.4L134.9,646.6ZM131.1,647.5L130.2,645.5L134.1,645.0ZM129.7,644.3L128.9,642.3L132.8,641.8ZM128.5,641.1L127.8,639.0L131.6,638.9ZM127.8,639.1L127.2,637.0L131.0,637.0ZM127.0,636.7L126.5,634.6L130.3,634.8ZM126.3,633.4L125.8,631.3L129.6,631.6ZM125.6,630.3L125.4,628.2L129.0,628.8ZM125.3,627.9L125.1,625.8L128.7,626.4ZM124.9,624.4L124.9,622.4L128.3,623.3ZM124.8,621.1L124.8,619.0L128.2,620.0ZM124.7,619.3L124.9,617.2L128.2,618.5ZM124.9,615.9L125.1,613.8L128.4,615.0ZM125.0,613.6L125.4,611.4L128.7,613.0ZM125.5,610.3L125.9,608.2L129.2,609.8ZM126.0,607.2L126.6,605.1L129.9,607.0ZM126.7,604.5L127.3,602.3L130.6,604.3ZM127.4,601.7L128.2,599.5L131.4,601.9ZM128.3,599.3L129.0,597.1L132.2,599.4ZM129.7,595.3L130.7,593.2L133.7,595.9ZM130.4,593.8L131.4,591.7L134.4,594.4ZM132.2,590.0L133.4,588.0L136.2,591.0ZM133.1,588.5L134.2,586.5L137.1,589.5ZM134.7,585.7L136.1,583.8L138.7,587.1ZM136.6,583.1L137.9,581.2L140.5,584.4ZM138.6,580.3L140.1,578.6L142.4,582.1ZM142.2,576.2L143.8,574.6L145.8,578.3ZM143.9,574.5L145.6,572.9L147.6,576.6ZM145.6,572.8L147.4,571.3L149.1,575.2ZM149.0,570.1L150.8,568.6L152.4,572.5ZM150.4,568.9L152.3,567.6L153.6,571.6ZM153.8,566.6L155.7,565.4L157.0,569.4ZM155.2,565.6L157.2,564.5L158.1,568.6ZM158.8,563.7L160.8,562.6L161.7,566.7ZM160.6,562.7L162.7,561.8L163.2,565.9ZM164.1,561.2L166.2,560.3L166.7,564.4ZM166.0,560.4L168.2,559.7L168.3,563.7ZM168.9,559.5L171.1,558.8L171.2,562.8ZM171.4,558.7L173.7,558.2L173.4,562.1ZM174.9,557.9L177.1,557.4L176.8,561.3ZM178.0,557.3L180.3,557.0L179.6,560.8ZM183.3,556.6L185.6,556.5L184.6,560.1ZM185.9,556.5L188.2,556.5L187.1,560.0ZM189.3,556.4L191.6,556.6L190.3,559.9ZM192.6,556.6L194.8,556.8L193.5,560.1ZM197.5,557.2L199.6,557.5L198.1,560.5ZM200.9,557.7L202.8,558.2L201.1,560.9ZM204.3,558.6L206.2,559.0L204.5,561.7ZM207.2,559.4L209.0,560.0L207.2,562.4ZM210.0,560.4L211.8,561.0L210.0,563.3ZM212.0,561.1L213.6,561.8L211.7,563.8ZM215.1,562.5L216.7,563.2L214.8,565.2ZM217.4,563.6L218.8,564.4L216.9,566.1ZM220.5,565.4L221.9,566.2L220.0,567.8ZM223.3,567.1L224.5,567.9L222.6,569.3ZM225.0,568.3L226.2,569.1L224.4,570.5ZM227.7,570.2L228.6,571.1L226.9,572.2ZM229.6,571.9L230.5,572.7L228.8,573.8ZM231.9,573.9L232.7,574.7L231.0,575.5ZM234.7,576.8L235.5,577.6L233.8,578.4ZM238.5,581.3L239.1,582.1L237.6,582.7ZM240.1,583.4L240.5,584.2L239.2,584.5ZM241.6,585.8L242.1,586.5L240.8,586.9ZM242.8,587.8L243.2,588.4L242.1,588.6ZM244.8,591.3L245.1,592.0L244.0,592.2ZM245.8,593.5L246.0,594.0L245.1,594.1ZM246.8,595.9L247.1,596.4L246.1,596.5ZM245.0,628.2L245.0,628.5L244.4,628.2ZM244.5,631.3L244.4,631.7L243.9,631.4ZM243.9,634.1L243.8,634.5L243.3,634.2ZM243.1,636.8L243.0,637.1L242.5,636.8ZM242.4,639.1L242.2,639.5L241.7,639.1ZM241.4,641.6L241.3,642.0L240.7,641.6ZM240.6,643.7L240.3,644.2L239.7,643.6ZM239.1,646.7L238.8,647.2L238.3,646.6ZM237.6,649.3L237.3,649.8L236.7,649.1ZM236.7,650.8L236.4,651.3L235.7,650.6ZM235.2,653.1L234.7,653.7L234.1,652.8ZM233.2,655.7L232.8,656.3L232.1,655.4ZM231.6,657.7L231.0,658.3L230.4,657.2ZM229.7,659.8L229.1,660.3L228.5,659.2ZM228.4,661.2L227.7,661.8L227.1,660.5ZM226.2,663.0L225.6,663.6L225.0,662.3ZM223.4,665.4L222.6,666.0L222.1,664.5ZM221.3,667.0L220.5,667.5L220.0,666.1ZM216.7,669.9L215.8,670.4L215.5,668.8ZM214.4,671.1L213.3,671.6L213.1,669.8ZM209.8,673.2L208.6,673.7L208.6,671.7ZM207.7,674.0L206.5,674.4L206.5,672.5ZM205.4,674.8L204.1,675.2L204.3,673.1ZM202.2,675.7L200.9,676.0L201.1,673.9ZM199.4,676.3L198.0,676.5L198.4,674.4ZM197.0,676.7L195.7,676.9L196.0,674.8ZM194.3,677.1L192.9,677.2L193.4,675.0ZM191.2,677.3L189.7,677.4L190.3,675.2ZM188.7,677.4L187.2,677.3L188.0,675.1ZM185.4,677.3L183.9,677.2L184.8,675.0ZM183.1,677.1L181.5,676.9L182.6,674.6ZM180.2,676.8L178.6,676.5L179.7,674.2ZM177.6,676.3L176.0,676.0L177.4,673.6ZM175.5,675.8L173.8,675.5L175.2,673.1ZM172.2,675.0L170.5,674.4L172.2,672.1ZM170.7,674.5L169.0,674.0L170.8,671.6ZM168.2,673.7L166.5,673.0L168.5,670.6ZM164.7,672.2L163.0,671.4L165.0,669.1ZM162.2,671.0L160.5,670.1L162.9,667.8ZM160.6,670.1L158.9,669.1L161.2,666.9ZM158.1,668.7L156.5,667.5L159.1,665.5ZM155.6,667.0L154.0,665.8L156.6,663.7ZM154.1,666.0L152.6,664.7L155.5,662.8ZM151.1,663.4L149.5,662.1L152.4,660.2ZM149.4,662.0L148.0,660.5L151.1,658.9ZM147.3,659.8L145.8,658.3L149.0,656.7ZM146.0,658.5L144.7,656.9L148.0,655.6ZM143.9,655.9L142.5,654.3L145.9,652.9ZM141.1,652.1L139.9,650.4L143.4,649.3ZM139.5,649.8L138.5,648.0L142.0,647.3ZM137.7,646.4L136.7,644.5L140.2,643.8ZM137.0,645.2L136.2,643.2L139.7,642.9ZM135.5,641.5L134.7,639.6L138.2,639.2ZM134.7,639.6L134.1,637.7L137.6,637.7ZM133.9,637.3L133.3,635.3L136.8,635.3ZM133.1,634.4L132.7,632.5L136.1,632.8ZM132.4,631.3L132.0,629.4L135.4,629.7ZM132.0,629.2L131.8,627.2L135.0,627.9ZM131.6,625.5L131.4,623.6L134.6,624.2ZM131.4,624.1L131.4,622.2L134.4,623.1ZM131.4,620.8L131.3,619.0L134.4,619.9ZM131.4,618.0L131.5,616.0L134.5,617.2ZM131.6,615.5L131.7,613.5L134.7,614.7ZM131.8,612.6L132.2,610.6L135.2,612.2ZM132.2,610.6L132.5,608.6L135.6,610.1ZM132.9,606.7L133.5,604.7L136.5,606.6ZM133.4,605.1L133.9,603.1L136.9,605.0ZM134.1,602.5L134.9,600.5L137.7,602.7ZM135.2,599.5L136.0,597.5L138.9,599.7ZM136.2,597.0L137.2,595.1L139.9,597.6ZM138.3,592.8L139.4,591.0L141.9,593.8ZM140.3,589.5L141.5,587.7L143.9,590.5ZM141.7,587.3L143.1,585.6L145.3,588.7ZM143.3,585.2L144.7,583.5L146.9,586.6ZM144.6,583.5L146.1,582.0L148.0,585.2ZM148.7,579.2L150.3,577.7L152.0,581.2ZM150.9,577.2L152.5,575.8L154.2,579.2ZM152.6,575.7L154.3,574.4L155.6,578.0ZM154.7,574.2L156.5,572.9L157.8,576.5ZM156.9,572.6L158.7,571.5L159.7,575.1ZM159.2,571.2L161.1,570.1L162.0,573.7ZM162.3,569.4L164.2,568.5L164.8,572.2ZM164.1,568.6L166.0,567.7L166.6,571.4ZM166.2,567.6L168.3,566.8L168.5,570.5ZM168.8,566.6L170.8,565.9L171.0,569.6ZM172.2,565.5L174.3,564.9L174.1,568.5ZM174.4,564.9L176.5,564.4L176.3,568.0ZM176.7,564.3L178.8,563.9L178.3,567.4ZM179.2,563.9L181.3,563.6L180.8,567.0ZM182.1,563.4L184.2,563.3L183.4,566.6ZM187.6,563.1L189.7,563.1L188.5,566.2ZM190.8,563.2L192.9,563.2L191.7,566.3ZM192.8,563.2L194.8,563.5L193.5,566.3ZM196.8,563.7L198.8,564.0L197.4,566.8ZM199.1,564.1L201.0,564.5L199.4,567.0ZM202.0,564.8L203.9,565.2L202.3,567.7ZM204.1,565.3L205.8,565.8L204.1,568.0ZM206.5,566.1L208.2,566.6L206.5,568.8ZM208.7,566.8L210.2,567.4L208.5,569.3ZM211.6,568.0L213.1,568.7L211.4,570.6ZM214.0,569.1L215.3,569.8L213.6,571.4ZM216.5,570.5L217.8,571.2L216.0,572.8ZM219.5,572.3L220.7,573.1L219.0,574.3ZM221.1,573.4L222.2,574.2L220.5,575.4ZM224.1,575.6L225.1,576.4L223.4,577.4ZM225.3,576.6L226.3,577.4L224.6,578.4ZM228.2,579.2L228.9,579.9L227.4,580.7ZM229.4,580.5L230.2,581.2L228.7,582.0ZM231.6,582.8L232.2,583.5L230.8,584.1ZM233.5,585.1L234.1,585.9L232.7,586.4ZM234.8,586.8L235.2,587.4L234.0,587.8ZM236.8,589.8L237.2,590.4L236.0,590.8ZM237.9,591.6L238.2,592.2L237.2,592.4ZM239.2,594.0L239.5,594.6L238.5,594.8ZM240.4,596.5L240.6,597.0L239.8,597.1ZM241.6,599.4L241.9,599.9L241.0,600.0ZM242.5,601.7L242.6,602.1L241.9,602.1ZM243.2,604.1L243.4,604.5L242.7,604.5ZM243.9,606.3L244.0,606.7L243.4,606.6ZM245.0,611.7L245.0,612.1L244.4,612.0ZM245.4,615.5L245.4,615.8L244.8,615.7ZM245.5,617.2L245.5,617.5L244.9,617.4ZM245.6,620.1L245.6,620.4L245.0,620.3ZM245.5,622.6L245.5,623.0L245.0,622.7ZM245.3,625.9L245.3,626.3L244.7,626.0ZM143.9,595.3L144.7,593.9L146.3,595.8ZM145.3,592.9L146.1,591.6L147.7,593.5ZM146.7,590.7L147.7,589.5L149.1,591.6ZM148.4,588.6L149.3,587.4L150.7,589.5ZM150.0,586.7L151.1,585.5L152.3,587.7ZM153.2,583.3L154.4,582.2L155.4,584.6ZM156.7,580.2L158.1,579.2L158.8,581.7ZM159.3,578.3L160.6,577.4L161.4,579.8ZM161.7,576.8L163.1,576.0L163.6,578.4ZM164.3,575.3L165.7,574.5L166.1,577.0ZM166.2,574.3L167.6,573.6L167.9,576.1ZM167.7,573.6L169.2,572.9L169.4,575.4ZM170.0,572.6L171.5,572.1L171.5,574.5ZM173.2,571.5L174.7,571.0L174.7,573.5ZM176.1,570.7L177.6,570.3L177.3,572.7ZM177.6,570.3L179.2,570.0L178.9,572.4ZM180.8,569.7L182.4,569.5L181.9,571.8ZM182.7,569.5L184.2,569.3L183.8,571.5ZM186.0,569.2L187.5,569.1L186.8,571.3ZM189.0,569.1L190.5,569.1L189.8,571.2ZM191.0,569.1L192.4,569.2L191.5,571.2ZM193.9,569.4L195.3,569.5L194.4,571.4ZM195.7,569.5L197.1,569.8L196.1,571.5ZM198.1,570.0L199.4,570.2L198.4,572.0ZM200.5,570.4L201.7,570.8L200.6,572.3ZM203.5,571.3L204.7,571.6L203.6,573.2ZM205.5,571.9L206.6,572.3L205.4,573.6ZM208.4,573.0L209.5,573.5L208.3,574.8ZM211.3,574.3L212.3,574.8L211.1,575.9ZM212.9,575.1L213.8,575.6L212.6,576.7ZM215.1,576.3L215.9,576.9L214.8,577.8ZM217.3,577.8L218.1,578.3L217.0,579.2ZM220.0,579.6L220.6,580.2L219.5,580.9ZM223.4,582.5L223.9,583.0L222.9,583.5ZM225.2,584.3L225.8,584.8L224.7,585.4ZM227.6,586.8L228.0,587.3L227.1,587.7ZM229.2,588.8L229.7,589.3L228.7,589.7ZM230.4,590.2L230.7,590.7L229.8,591.0ZM232.0,592.7L232.3,593.2L231.5,593.4ZM233.1,594.4L233.4,594.9L232.6,595.0ZM234.7,597.3L234.9,597.8L234.1,597.9ZM235.7,599.6L235.9,599.9L235.3,600.0ZM236.6,601.6L236.7,601.9L236.1,602.0ZM237.5,604.1L237.6,604.4L237.1,604.4ZM238.5,607.3L238.6,607.6L238.1,607.6ZM239.4,611.6L239.5,611.9L239.0,611.8ZM240.1,616.3L240.1,616.6L239.6,616.5ZM240.2,618.9L240.2,619.2L239.8,619.1ZM240.2,621.6L240.2,621.9L239.8,621.7ZM240.1,624.8L240.0,625.1L239.6,624.9ZM239.8,627.0L239.8,627.3L239.4,627.1ZM239.4,629.9L239.3,630.2L238.9,630.0ZM238.8,632.9L238.7,633.2L238.3,633.0ZM238.4,634.3L238.3,634.6L237.9,634.3ZM237.4,637.5L237.3,637.7L236.9,637.5ZM236.7,639.5L236.5,639.8L236.1,639.4ZM235.7,641.9L235.5,642.2L235.1,641.8ZM233.4,646.3L233.2,646.6L232.7,646.2ZM232.3,648.1L232.0,648.5L231.6,647.9ZM230.8,650.4L230.5,650.8L230.0,650.2ZM229.3,652.4L229.0,652.8L228.5,652.1ZM227.6,654.4L227.3,654.8L226.8,654.1ZM225.7,656.5L225.2,657.0L224.8,656.1ZM223.9,658.3L223.4,658.7L223.0,657.8ZM221.5,660.4L221.0,660.8L220.6,659.8ZM217.4,663.4L216.8,663.8L216.5,662.7ZM215.9,664.4L215.2,664.8L215.0,663.7ZM213.8,665.7L213.1,666.0L212.9,664.8ZM211.7,666.7L211.0,667.1L210.8,665.9ZM209.0,668.0L208.2,668.3L208.2,667.0ZM206.6,668.9L205.8,669.2L205.7,667.9ZM203.9,669.9L203.0,670.1L203.1,668.7ZM201.5,670.5L200.6,670.8L200.7,669.4ZM196.0,671.6L195.1,671.8L195.3,670.3ZM194.3,671.9L193.3,671.9L193.7,670.4ZM189.2,672.2L188.1,672.1L188.7,670.6ZM186.5,672.1L185.4,672.0L186.0,670.5ZM183.3,671.8L182.1,671.7L182.9,670.1ZM181.1,671.6L180.0,671.4L180.8,669.9ZM179.2,671.3L178.0,671.0L179.0,669.4ZM176.4,670.6L175.3,670.4L176.2,668.8ZM174.3,670.1L173.1,669.7L174.3,668.1ZM170.9,669.0L169.8,668.6L171.0,667.0ZM168.6,668.0L167.4,667.5L168.8,666.0ZM166.4,667.0L165.2,666.5L166.7,665.0ZM164.3,666.0L163.1,665.3L164.8,663.9ZM160.6,663.9L159.5,663.0L161.3,661.7ZM157.5,661.6L156.4,660.8L158.2,659.5ZM154.2,658.9L153.2,657.9L155.2,656.7ZM151.9,656.7L151.0,655.7L153.1,654.7ZM150.2,654.8L149.2,653.7L151.3,652.7ZM148.7,653.1L147.9,652.0L150.1,651.2ZM147.0,650.8L146.1,649.6L148.4,648.9ZM145.6,648.8L144.9,647.6L147.2,647.1ZM144.5,647.0L143.8,645.8L146.1,645.2ZM143.2,644.8L142.6,643.6L144.9,643.2ZM142.0,642.2L141.3,640.9L143.7,640.6ZM140.9,639.9L140.4,638.5L142.8,638.5ZM140.1,637.7L139.7,636.4L142.0,636.3ZM139.1,634.5L138.8,633.1L141.0,633.3ZM138.6,632.4L138.3,631.0L140.5,631.2ZM138.0,629.6L137.8,628.3L140.0,628.6ZM137.7,627.8L137.5,626.5L139.7,626.8ZM137.4,624.9L137.3,623.6L139.4,624.2ZM137.2,621.8L137.2,620.5L139.2,621.0ZM137.2,619.3L137.3,618.0L139.3,618.7ZM137.3,617.2L137.4,615.9L139.4,616.7ZM137.6,614.2L137.8,612.9L139.8,613.9ZM137.9,612.5L138.1,611.1L140.1,612.1ZM138.2,610.1L138.6,608.8L140.6,610.0ZM139.2,606.6L139.5,605.2L141.5,606.5ZM139.7,604.7L140.2,603.4L142.1,604.8ZM141.6,599.7L142.3,598.3L144.1,600.0ZM142.7,597.5L143.4,596.2L145.1,597.9ZM189.1,574.4L190.4,574.5L189.6,576.3ZM191.9,574.6L193.2,574.7L192.5,576.5ZM194.1,574.7L195.3,574.9L194.4,576.6ZM196.7,575.2L198.0,575.4L197.1,577.0ZM198.7,575.5L199.8,575.8L198.8,577.2ZM201.8,576.3L202.9,576.6L201.9,578.0ZM203.6,576.8L204.6,577.2L203.6,578.4ZM206.1,577.8L207.1,578.2L206.1,579.4ZM208.3,578.6L209.2,579.1L208.1,580.1ZM210.3,579.7L211.2,580.2L210.2,581.2ZM213.3,581.3L214.0,581.8L213.0,582.7ZM214.9,582.4L215.7,582.9L214.6,583.7ZM217.1,583.9L217.7,584.4L216.7,585.1ZM218.5,585.1L219.1,585.6L218.1,586.2ZM220.6,586.9L221.1,587.4L220.1,587.9ZM222.3,588.6L222.9,589.1L221.9,589.6ZM224.3,590.7L224.7,591.2L223.8,591.5ZM225.6,592.4L226.0,592.8L225.1,593.2ZM227.2,594.5L227.5,594.9L226.7,595.1ZM229.9,598.8L230.1,599.2L229.4,599.3ZM231.0,601.0L231.2,601.4L230.5,601.5ZM231.7,602.5L231.8,602.8L231.2,602.9ZM232.7,605.2L232.9,605.6L232.3,605.6ZM233.5,607.6L233.6,607.9L233.1,607.9ZM234.3,610.4L234.4,610.7L233.9,610.7ZM234.7,612.5L234.8,612.8L234.3,612.7ZM235.1,614.8L235.1,615.1L234.7,615.0ZM235.3,617.1L235.4,617.4L234.9,617.2ZM235.5,620.2L235.5,620.5L235.1,620.4ZM235.5,622.0L235.5,622.3L235.0,622.2ZM235.3,625.0L235.3,625.3L234.9,625.1ZM235.1,627.2L235.0,627.5L234.6,627.3ZM234.8,628.8L234.8,629.1L234.4,628.9ZM234.2,631.8L234.2,632.0L233.8,631.8ZM233.5,634.5L233.4,634.8L233.0,634.5ZM233.0,636.0L232.9,636.3L232.5,636.0ZM231.9,639.1L231.7,639.4L231.3,639.1ZM231.3,640.4L231.1,640.7L230.7,640.3ZM229.9,643.2L229.7,643.5L229.3,643.1ZM228.7,645.3L228.4,645.7L228.0,645.1ZM227.4,647.2L227.2,647.6L226.7,647.0ZM225.9,649.3L225.6,649.7L225.2,649.0ZM222.7,653.1L222.3,653.5L221.9,652.7ZM221.5,654.3L221.1,654.7L220.7,653.9ZM219.5,656.2L219.0,656.6L218.6,655.6ZM217.0,658.1L216.5,658.5L216.2,657.6ZM215.9,659.0L215.3,659.3L215.1,658.3ZM213.8,660.3L213.2,660.7L212.9,659.7ZM211.5,661.7L210.8,662.1L210.7,660.9ZM209.4,662.8L208.7,663.1L208.6,662.0ZM207.4,663.7L206.7,664.0L206.6,662.8ZM204.5,664.9L203.7,665.2L203.7,663.9ZM203.0,665.4L202.1,665.6L202.2,664.3ZM200.8,666.0L199.9,666.2L200.0,664.9ZM198.1,666.6L197.2,666.8L197.5,665.4ZM195.5,667.0L194.6,667.2L194.8,665.9ZM193.3,667.3L192.4,667.4L192.8,666.0ZM191.0,667.4L190.0,667.5L190.5,666.1ZM188.2,667.5L187.2,667.5L187.8,666.1ZM186.0,667.4L185.0,667.3L185.6,665.9ZM183.6,667.2L182.5,667.0L183.3,665.6ZM181.2,666.8L180.1,666.7L180.9,665.2ZM178.4,666.3L177.3,666.0L178.2,664.5ZM176.0,665.7L174.9,665.4L175.9,663.9ZM174.0,665.0L172.8,664.6L174.0,663.2ZM171.2,664.0L170.1,663.5L171.2,662.1ZM169.1,663.1L168.0,662.5L169.4,661.1ZM167.4,662.2L166.3,661.6L167.6,660.2ZM165.7,661.3L164.7,660.6L166.2,659.4ZM163.6,659.9L162.5,659.2L164.1,658.0ZM161.5,658.6L160.5,657.8L162.3,656.6ZM159.2,656.7L158.2,655.8L159.9,654.7ZM157.5,655.2L156.5,654.3L158.4,653.3ZM155.5,653.3L154.6,652.3L156.5,651.4ZM154.3,652.0L153.5,651.0L155.5,650.2ZM152.8,650.1L151.9,649.1L153.9,648.3ZM151.3,648.3L150.5,647.1L152.6,646.6ZM150.0,646.2L149.2,645.1L151.3,644.5ZM148.2,643.3L147.6,642.1L149.7,641.8ZM147.2,641.4L146.6,640.2L148.7,639.8ZM146.1,639.0L145.6,637.7L147.8,637.6ZM145.5,637.5L145.0,636.2L147.2,636.1ZM144.5,634.6L144.2,633.4L146.3,633.5ZM143.8,632.0L143.5,630.7L145.6,630.9ZM143.4,630.5L143.2,629.2L145.2,629.5ZM143.0,627.9L142.8,626.6L144.8,626.9ZM142.7,625.7L142.6,624.5L144.5,625.0ZM142.5,623.0L142.5,621.7L144.4,622.3ZM142.5,620.9L142.5,619.6L144.3,620.3ZM142.6,617.3L142.7,616.0L144.5,616.8ZM142.7,616.2L142.9,614.9L144.7,615.8ZM143.2,612.9L143.4,611.6L145.2,612.6ZM143.6,610.8L144.0,609.5L145.7,610.6ZM144.2,608.4L144.6,607.1L146.4,608.3ZM144.9,606.2L145.4,604.9L147.1,606.3ZM145.6,604.2L146.1,602.9L147.8,604.3ZM146.5,602.1L147.1,600.8L148.7,602.4ZM148.9,597.3L149.8,596.1L151.2,597.9ZM150.2,595.4L151.0,594.1L152.4,595.9ZM151.6,593.3L152.6,592.1L153.8,594.1ZM152.9,591.7L153.8,590.6L155.1,592.5ZM155.0,589.2L156.1,588.1L157.1,590.2ZM156.5,587.7L157.6,586.6L158.6,588.7ZM157.8,586.4L159.0,585.5L159.8,587.6ZM160.5,584.2L161.7,583.3L162.5,585.4ZM161.7,583.3L163.0,582.5L163.5,584.7ZM163.6,582.0L164.9,581.2L165.5,583.5ZM166.6,580.2L168.0,579.5L168.3,581.8ZM168.9,579.1L170.2,578.4L170.5,580.6ZM169.9,578.5L171.3,578.0L171.4,580.2ZM172.8,577.4L174.2,576.9L174.2,579.1ZM175.3,576.5L176.8,576.1L176.6,578.3ZM177.9,575.9L179.3,575.5L179.1,577.7ZM179.2,575.5L180.7,575.2L180.3,577.3ZM181.8,575.1L183.2,574.8L182.8,576.9ZM185.0,574.7L186.4,574.6L185.8,576.6ZM187.1,574.5L188.5,574.5L187.9,576.5Z" fill="#fff" filter="url(#cb)"/>
<path d="M138.5,616.8l0.9,1.2l-1.8,0zM146.5,662.8l0.6,0.8l-1.2,0zM219.0,660.9l0.6,0.8l-1.1,0zM130.9,622.4l0.6,0.8l-1.1,0zM138.3,631.2l0.8,1.1l-1.6,0zM133.8,618.7l0.6,0.9l-1.2,0zM145.9,650.2l0.6,0.8l-1.2,0zM193.1,683.4l0.8,1.1l-1.6,0zM227.1,590.4l0.8,1.1l-1.6,0zM184.6,669.3l0.7,1.0l-1.5,0zM135.4,615.0l1.0,1.4l-2.1,0zM137.5,586.6l0.9,1.3l-1.9,0zM166.5,563.5l0.7,1.0l-1.4,0zM210.1,569.3l0.5,0.7l-1.0,0zM166.7,575.4l0.7,1.0l-1.4,0zM157.0,677.1l1.1,1.5l-2.2,0zM200.8,558.9l0.9,1.2l-1.8,0zM207.8,676.5l1.0,1.4l-1.9,0zM187.6,570.8l1.0,1.4l-2.0,0zM131.1,645.4l1.0,1.4l-1.9,0zM226.2,582.6l0.8,1.1l-1.6,0zM237.1,604.4l1.0,1.4l-1.9,0zM188.2,683.0l0.6,0.9l-1.3,0zM124.6,623.9l0.9,1.3l-1.8,0zM175.3,568.1l1.0,1.4l-1.9,0zM205.4,563.8l1.0,1.4l-2.0,0zM147.0,648.5l0.9,1.2l-1.8,0zM139.8,624.3l0.6,0.8l-1.1,0zM136.2,635.2l0.6,0.9l-1.3,0zM150.6,670.4l0.9,1.2l-1.7,0zM175.8,668.8l0.7,0.9l-1.3,0zM171.9,568.2l0.9,1.3l-1.8,0zM180.2,684.4l0.7,1.0l-1.4,0zM244.4,605.5l0.6,0.9l-1.2,0zM241.0,621.1l0.8,1.1l-1.5,0zM236.0,654.9l0.8,1.1l-1.6,0zM142.7,665.4l1.0,1.5l-2.1,0zM163.8,578.4l0.9,1.2l-1.7,0zM127.7,643.0l0.7,1.0l-1.4,0zM157.4,571.3l0.7,1.0l-1.5,0zM129.1,612.8l1.0,1.5l-2.1,0zM133.8,621.6l1.1,1.5l-2.2,0zM136.0,601.4l1.0,1.3l-1.9,0zM138.9,590.9l0.5,0.7l-1.1,0zM140.9,658.9l0.9,1.2l-1.8,0zM177.1,680.6l0.7,0.9l-1.3,0zM135.0,605.9l1.1,1.5l-2.2,0zM151.8,571.6l0.9,1.3l-1.8,0zM141.2,664.7l0.9,1.3l-1.9,0zM169.5,572.0l0.6,0.8l-1.2,0zM132.9,592.9l1.0,1.4l-2.0,0zM159.5,662.2l0.8,1.1l-1.6,0zM172.6,673.0l1.1,1.5l-2.2,0zM141.9,639.8l0.7,0.9l-1.3,0zM145.3,654.6l1.1,1.5l-2.2,0zM183.5,672.1l1.0,1.5l-2.1,0zM128.8,640.1l0.9,1.2l-1.8,0zM191.5,565.2l0.8,1.2l-1.7,0zM159.4,567.8l0.7,0.9l-1.3,0zM147.0,669.1l0.8,1.1l-1.6,0zM174.7,677.8l0.7,0.9l-1.3,0zM195.7,572.7l0.8,1.2l-1.7,0zM149.6,671.6l0.7,0.9l-1.3,0zM191.1,670.1l0.8,1.2l-1.7,0zM190.4,561.7l0.7,1.0l-1.5,0zM148.8,570.4l0.9,1.2l-1.8,0zM166.8,564.1l0.7,1.0l-1.5,0zM140.1,659.4l0.7,1.0l-1.4,0zM129.2,613.1l1.0,1.5l-2.1,0zM139.8,650.2l1.0,1.4l-2.0,0zM160.0,570.9l0.7,1.0l-1.5,0zM141.0,597.5l1.0,1.4l-2.0,0zM159.7,567.6l0.8,1.1l-1.6,0zM214.9,567.9l0.6,0.8l-1.2,0zM171.7,563.7l0.9,1.2l-1.7,0zM181.1,669.5l0.9,1.2l-1.7,0zM173.3,574.2l1.0,1.4l-2.0,0zM166.7,663.8l0.9,1.2l-1.8,0zM133.9,640.2l1.0,1.4l-2.0,0zM160.4,671.2l0.6,0.9l-1.3,0zM203.2,571.4l1.0,1.4l-2.0,0zM140.8,609.8l1.0,1.4l-1.9,0zM141.0,593.2l0.8,1.1l-1.6,0zM144.2,593.6l1.0,1.4l-2.0,0zM251.6,619.3l0.7,1.0l-1.4,0zM174.3,567.3l0.7,1.0l-1.4,0zM140.5,640.3l0.9,1.3l-1.8,0zM169.2,559.8l0.9,1.3l-1.9,0zM179.5,572.8l0.6,0.9l-1.2,0zM152.4,582.7l0.7,1.0l-1.4,0zM219.9,671.1l0.7,1.0l-1.4,0zM198.8,566.0l1.0,1.5l-2.1,0zM204.8,567.2l0.6,0.8l-1.2,0zM240.3,588.6l1.1,1.5l-2.2,0zM132.3,644.3l0.7,1.0l-1.5,0zM153.4,654.2l1.0,1.4l-2.0,0zM162.5,673.3l1.0,1.4l-2.1,0zM129.4,626.7l0.6,0.9l-1.2,0zM191.7,684.1l0.7,1.0l-1.5,0zM149.0,575.8l0.8,1.1l-1.5,0zM134.1,631.0l0.9,1.3l-1.8,0zM177.0,570.3l0.9,1.2l-1.8,0zM168.7,568.8l0.6,0.8l-1.2,0zM193.7,685.3l0.6,0.9l-1.3,0zM140.4,659.3l1.0,1.4l-2.0,0zM147.9,576.0l0.5,0.7l-1.0,0zM243.5,656.7l0.5,0.7l-1.0,0zM239.6,636.7l0.6,0.9l-1.3,0zM158.4,565.0l0.9,1.2l-1.8,0zM238.1,658.7l1.0,1.5l-2.1,0zM137.1,586.7l0.5,0.8l-1.1,0zM149.8,650.0l0.9,1.3l-1.9,0zM251.4,630.3l0.8,1.1l-1.5,0zM143.1,642.5l1.1,1.5l-2.2,0zM136.3,605.6l0.6,0.8l-1.1,0zM181.1,559.3l1.0,1.4l-2.0,0zM193.0,570.7l0.9,1.2l-1.7,0zM141.9,588.0l0.8,1.1l-1.5,0zM139.4,653.0l0.9,1.2l-1.8,0zM242.2,590.8l1.0,1.5l-2.1,0zM162.3,564.6l0.8,1.1l-1.5,0zM226.5,585.6l0.8,1.1l-1.5,0zM174.6,570.7l0.7,1.0l-1.4,0zM157.4,664.5l0.6,0.8l-1.1,0zM127.5,643.6l0.9,1.2l-1.8,0zM245.4,595.9l1.1,1.5l-2.2,0zM189.9,568.4l0.6,0.9l-1.3,0zM146.9,646.3l0.6,0.9l-1.3,0zM197.0,560.6l1.0,1.4l-2.0,0zM139.2,611.1l1.0,1.4l-2.0,0zM165.8,674.8l0.7,1.0l-1.4,0zM125.4,606.1l0.6,0.8l-1.2,0zM130.1,609.6l0.8,1.2l-1.6,0zM240.7,600.2l0.9,1.3l-1.8,0zM174.0,682.4l0.5,0.7l-1.0,0zM185.1,680.8l1.1,1.5l-2.2,0zM166.5,564.7l1.0,1.3l-1.9,0zM189.5,673.3l0.5,0.7l-1.0,0zM170.0,573.0l0.7,0.9l-1.3,0zM156.1,572.8l0.9,1.3l-1.8,0zM172.4,667.3l0.5,0.8l-1.1,0zM232.6,657.6l0.9,1.3l-1.8,0zM179.9,681.2l0.6,0.8l-1.2,0zM168.0,569.5l0.9,1.3l-1.9,0zM213.5,578.8l0.6,0.9l-1.3,0zM180.5,668.5l0.6,0.9l-1.2,0zM137.5,590.3l0.6,0.9l-1.2,0zM220.4,660.0l0.7,1.0l-1.5,0zM155.2,574.0l0.6,0.9l-1.3,0zM234.2,640.1l0.6,0.8l-1.2,0zM150.4,663.3l0.6,0.8l-1.1,0zM189.7,682.3l0.7,0.9l-1.3,0zM143.6,662.4l0.6,0.9l-1.3,0zM149.3,665.0l0.8,1.1l-1.6,0zM141.8,639.9l0.8,1.1l-1.6,0zM176.9,572.9l0.6,0.8l-1.1,0zM137.5,627.5l0.6,0.9l-1.3,0zM141.5,639.3l0.5,0.8l-1.1,0zM152.4,663.8l1.1,1.5l-2.1,0zM141.7,604.4l0.6,0.9l-1.3,0zM186.9,563.6l1.0,1.4l-2.0,0zM235.4,647.1l0.8,1.1l-1.6,0zM183.1,572.1l0.8,1.1l-1.5,0zM167.3,667.8l0.9,1.3l-1.8,0zM156.2,659.3l1.1,1.5l-2.2,0zM137.3,626.9l0.5,0.7l-1.0,0zM155.9,574.6l0.5,0.7l-1.0,0zM128.5,632.2l0.8,1.2l-1.6,0zM194.7,677.1l0.9,1.2l-1.7,0zM159.0,580.0l1.0,1.4l-2.0,0zM247.0,600.8l0.7,1.0l-1.4,0zM136.5,584.6l0.5,0.8l-1.1,0zM132.7,589.2l0.7,1.0l-1.5,0zM167.8,577.5l1.1,1.5l-2.1,0zM243.4,603.1l0.9,1.2l-1.7,0zM155.6,670.3l0.5,0.7l-1.0,0zM152.6,657.1l1.0,1.4l-2.0,0zM132.9,637.3l0.9,1.3l-1.9,0zM130.7,613.0l1.0,1.4l-2.1,0zM140.3,592.5l0.7,1.0l-1.5,0zM235.0,582.9l1.1,1.5l-2.1,0zM181.3,684.3l0.7,1.0l-1.5,0zM126.6,609.6l1.0,1.4l-2.0,0zM156.1,574.5l0.6,0.8l-1.1,0zM191.4,679.9l0.9,1.2l-1.7,0zM209.3,561.2l0.6,0.9l-1.2,0zM193.7,674.9l0.8,1.1l-1.6,0zM166.9,576.8l0.9,1.3l-1.9,0zM148.5,581.7l0.9,1.3l-1.8,0zM162.3,567.2l0.9,1.2l-1.8,0zM216.7,678.9l0.6,0.9l-1.3,0zM129.8,648.0l0.6,0.9l-1.2,0zM134.0,655.6l1.0,1.5l-2.1,0zM156.9,569.0l0.6,0.8l-1.2,0zM144.8,644.5l0.8,1.2l-1.7,0zM173.1,567.9l0.6,0.8l-1.2,0zM140.0,626.5l0.9,1.3l-1.8,0zM218.3,666.9l1.0,1.3l-1.9,0zM170.7,559.4l0.6,0.9l-1.2,0zM214.7,568.7l1.0,1.4l-2.1,0zM144.6,593.8l0.5,0.7l-1.0,0zM129.1,607.9l0.7,0.9l-1.3,0zM172.6,575.7l0.6,0.9l-1.3,0zM183.2,680.6l1.1,1.5l-2.2,0zM239.6,627.0l1.1,1.5l-2.2,0zM165.1,670.7l0.8,1.1l-1.6,0zM186.3,669.9l0.6,0.8l-1.1,0zM171.4,571.5l1.0,1.4l-2.0,0zM181.7,567.8l0.8,1.1l-1.6,0zM143.0,660.6l0.6,0.9l-1.3,0zM144.2,594.6l0.9,1.3l-1.8,0zM186.0,676.0l0.8,1.1l-1.6,0zM181.1,573.1l0.9,1.3l-1.9,0zM167.5,566.7l1.0,1.5l-2.1,0zM185.5,671.5l0.6,0.9l-1.3,0zM164.5,676.0l0.5,0.7l-1.1,0zM149.9,589.6l0.5,0.7l-1.1,0zM137.6,616.6l1.1,1.5l-2.1,0zM149.2,666.5l0.8,1.1l-1.6,0zM145.6,657.5l0.7,0.9l-1.3,0zM163.2,575.9l0.7,1.0l-1.4,0zM128.5,629.7l1.0,1.3l-1.9,0zM149.8,661.0l1.1,1.5l-2.1,0zM131.5,637.1l0.7,0.9l-1.3,0zM252.9,636.0l0.6,0.8l-1.2,0zM130.8,633.4l0.7,1.0l-1.4,0zM245.1,646.3l0.8,1.1l-1.5,0zM194.3,566.1l0.7,1.0l-1.4,0zM227.0,657.4l0.6,0.8l-1.1,0zM185.3,681.3l1.0,1.4l-2.1,0zM236.0,589.4l0.9,1.2l-1.7,0zM175.3,675.1l0.9,1.3l-1.9,0zM183.9,571.1l0.6,0.9l-1.2,0zM238.1,608.1l0.7,1.0l-1.4,0zM189.7,673.3l0.8,1.1l-1.6,0zM240.4,618.0l0.7,1.0l-1.4,0zM210.5,671.8l1.0,1.4l-2.0,0zM145.2,599.1l1.0,1.3l-1.9,0zM138.6,581.9l1.1,1.5l-2.1,0zM159.5,676.0l1.0,1.4l-2.0,0zM183.5,674.8l0.7,1.0l-1.4,0zM155.6,664.4l0.6,0.8l-1.1,0zM146.9,573.7l1.0,1.3l-1.9,0zM191.3,684.3l1.0,1.4l-2.0,0zM250.3,617.5l1.0,1.4l-2.0,0zM187.8,679.9l0.7,1.0l-1.5,0zM156.5,673.8l0.7,1.0l-1.4,0zM224.3,569.4l0.6,0.8l-1.2,0zM160.3,581.1l1.0,1.4l-2.0,0zM134.8,604.6l0.7,1.0l-1.4,0zM201.8,561.2l0.6,0.9l-1.3,0zM160.3,665.0l0.6,0.8l-1.1,0zM166.0,663.9l1.0,1.4l-2.0,0zM186.1,569.8l0.8,1.1l-1.6,0zM137.9,656.5l1.1,1.5l-2.1,0zM167.0,675.5l1.0,1.5l-2.1,0zM125.8,632.6l0.9,1.3l-1.9,0zM164.9,679.0l0.8,1.2l-1.7,0zM235.4,656.7l0.8,1.1l-1.6,0zM133.2,626.5l1.0,1.4l-2.1,0zM162.4,576.6l0.7,1.0l-1.4,0zM146.4,669.5l0.9,1.3l-1.8,0zM141.6,591.2l0.9,1.3l-1.9,0zM143.3,642.3l0.8,1.1l-1.6,0zM199.7,680.5l0.6,0.9l-1.3,0zM144.3,661.8l1.1,1.5l-2.1,0zM183.2,570.2l0.8,1.2l-1.7,0zM128.6,620.9l0.6,0.8l-1.2,0zM203.6,572.0l0.8,1.2l-1.7,0zM192.8,558.6l0.7,1.0l-1.4,0zM124.7,620.0l1.0,1.5l-2.1,0zM244.4,605.2l0.8,1.2l-1.7,0zM226.0,667.0l0.8,1.1l-1.5,0zM146.2,589.7l0.7,0.9l-1.3,0zM138.4,648.2l0.8,1.1l-1.6,0zM176.3,561.8l0.6,0.9l-1.3,0zM187.0,677.6l0.6,0.8l-1.2,0zM137.6,583.0l0.6,0.9l-1.2,0zM136.4,590.3l0.9,1.3l-1.9,0zM174.6,562.8l0.7,0.9l-1.3,0zM243.7,620.2l0.6,0.9l-1.3,0zM149.1,585.1l0.6,0.8l-1.2,0zM165.9,672.7l0.6,0.9l-1.2,0zM133.0,628.0l1.1,1.5l-2.2,0zM124.2,626.5l0.8,1.1l-1.6,0zM140.0,645.4l0.9,1.3l-1.8,0zM148.9,652.8l1.0,1.4l-2.0,0zM144.9,599.8l1.0,1.4l-2.0,0zM181.6,567.6l0.9,1.2l-1.8,0zM171.6,675.6l0.9,1.3l-1.8,0zM182.9,557.4l0.6,0.8l-1.2,0zM146.8,667.4l1.0,1.4l-1.9,0zM137.9,589.2l0.7,1.0l-1.4,0zM210.0,666.5l1.0,1.4l-2.0,0zM133.8,622.5l1.0,1.5l-2.1,0zM154.9,667.1l1.1,1.5l-2.1,0zM152.4,578.1l0.7,1.0l-1.4,0zM144.0,658.9l1.0,1.4l-1.9,0zM185.3,675.1l0.7,1.0l-1.5,0zM147.0,669.0l0.8,1.2l-1.6,0zM180.2,673.9l1.0,1.4l-2.0,0zM206.5,666.9l0.6,0.8l-1.2,0zM182.6,561.3l1.0,1.5l-2.1,0zM244.2,602.3l0.6,0.8l-1.1,0zM188.2,558.7l0.7,1.0l-1.5,0zM242.2,655.6l0.9,1.2l-1.7,0zM154.2,584.6l0.6,0.8l-1.2,0zM243.1,610.7l0.8,1.1l-1.5,0zM147.7,654.1l0.6,0.9l-1.3,0zM152.5,669.6l0.5,0.7l-1.1,0zM129.5,609.8l0.5,0.7l-1.0,0zM131.0,643.7l0.8,1.2l-1.7,0zM128.0,639.8l0.9,1.2l-1.7,0zM160.0,667.7l1.1,1.5l-2.1,0zM171.1,576.2l1.0,1.4l-2.0,0zM133.4,595.4l0.7,1.0l-1.5,0zM252.2,605.1l0.9,1.2l-1.7,0zM166.6,670.6l0.7,0.9l-1.3,0zM240.4,586.2l1.0,1.4l-2.0,0zM191.5,568.7l0.9,1.2l-1.7,0zM178.8,683.6l0.5,0.8l-1.1,0zM193.1,563.6l1.0,1.5l-2.1,0zM140.8,592.5l1.1,1.5l-2.1,0zM180.5,670.2l1.0,1.4l-2.0,0zM131.7,642.5l0.7,0.9l-1.3,0zM181.6,562.6l0.6,0.8l-1.1,0zM127.8,623.3l0.6,0.9l-1.3,0zM158.6,577.6l0.7,1.0l-1.4,0zM246.0,590.3l0.8,1.1l-1.5,0zM132.5,594.2l1.0,1.3l-1.9,0zM127.7,638.0l0.7,1.0l-1.5,0zM188.7,570.6l0.9,1.3l-1.8,0zM185.9,570.9l0.9,1.2l-1.8,0zM151.0,657.5l1.0,1.4l-2.0,0z" fill="#d5dde8"/>
</g>
<path fill-rule="evenodd" d="M51.1,613.5 a132.6,132.6 0 1,0 265.2,0 a132.6,132.6 0 1,0 -265.2,0 Z M49.2,610.0 a131.5,131.5 0 1,0 263,0 a131.5,131.5 0 1,0 -263,0 Z" fill="#232427"/>
<ellipse cx="189.2" cy="619.8" rx="48.8" ry="49.8" fill="#686b6e"/>
<ellipse cx="188.6" cy="619.0" rx="46.6" ry="47.4" fill="url(#rimg)"/>
<ellipse cx="187" cy="617.3" rx="42.2" ry="42.6" fill="#5d6063"/>
<path d="M187,574.7 A42.2,42.6 0 0,0 187,659.9 A46,46 0 0,1 187,574.7Z" fill="#9b9ea1"/>
<ellipse cx="184" cy="615.7" rx="38.4" ry="38.8" fill="#fff"/>
<g clip-path="url(#hubclip)"><path d="M184.5,615.7L186.1,571.7L177.7,571.7L179.3,615.7ZM183.2,617.9L221.8,596.6L217.5,589.4L180.6,613.5ZM180.6,618.0L218.3,640.7L222.4,633.4L183.2,613.4ZM179.3,615.4L173.1,659.0L181.5,659.9L184.5,616.0ZM180.9,613.3L139.8,629.0L143.0,636.8L182.9,618.1ZM183.4,613.6L148.3,587.0L143.4,593.9L180.4,617.8Z" fill="#6e7174" stroke="#54575a" stroke-width="0.7"/></g>
<circle cx="181.9" cy="615.7" r="7" fill="#7b7e81"/><circle cx="181.9" cy="615.7" r="4.2" fill="#fff"/>
</g>
<path d="M176,757 Q182,757.5 186,751.5 Q190,757 200,756.5 L206,760 L178,761 Z" fill="#fff"/>
<path d="M183,752.5 L197,751.5 L210,762.5 L210.5,771 L197,775 L183.5,763 Z" fill="#d98488"/>
<path d="M183.5,763 L197,775 L210.5,771 L210.5,775.5 L197,780 L183.5,768.5 Z" fill="#a84e5a"/>
<path d="M183,752.5 L197,751.5 L210,762.5 L197,765 Z" fill="#e39a9a"/>
<path d="M187,756 L200.5,755 M191,759.5 L204.5,758.5 M183.5,757.5 L197,769.5 M190,764 L203.5,767.5 M197,765 L197,775" stroke="#9a4652" stroke-width="0.5" fill="none"/>
<defs><clipPath id="insclip"><rect x="15" y="462" width="163.5" height="152"/></clipPath></defs><g id="inset" clip-path="url(#insclip)">
<circle cx="147" cy="556" r="36.5" fill="#333437"/><circle cx="146" cy="556.5" r="33" fill="#1b2d49"/>
<path d="M176.3,556.0h1.4l-0.7,1.3zM176.1,559.2h1.4l-0.7,1.3zM175.6,562.4h1.4l-0.7,1.3zM172.1,571.5h1.4l-0.7,1.3zM170.4,574.2h1.4l-0.7,1.3zM168.3,576.7h1.4l-0.7,1.3zM160.8,582.8h1.4l-0.7,1.3zM154.9,585.5h1.4l-0.7,1.3zM151.7,586.3h1.4l-0.7,1.3zM115.8,546.4h1.4l-0.7,1.3zM117.0,543.4h1.4l-0.7,1.3zM118.5,540.5h1.4l-0.7,1.3zM120.2,537.8h1.4l-0.7,1.3zM122.3,535.3h1.4l-0.7,1.3zM127.1,530.9h1.4l-0.7,1.3zM132.7,527.7h1.4l-0.7,1.3zM138.9,525.7h1.4l-0.7,1.3zM157.9,527.7h1.4l-0.7,1.3zM163.5,530.9h1.4l-0.7,1.3zM166.0,533.0h1.4l-0.7,1.3zM174.8,546.4h1.4l-0.7,1.3zM175.6,549.6h1.4l-0.7,1.3zM172.5,562.5h1.4l-0.7,1.3zM168.7,571.4h1.4l-0.7,1.3zM166.7,574.0h1.4l-0.7,1.3zM164.5,576.4h1.4l-0.7,1.3zM162.0,578.5h1.4l-0.7,1.3zM159.3,580.2h1.4l-0.7,1.3zM156.4,581.7h1.4l-0.7,1.3zM153.3,582.8h1.4l-0.7,1.3zM121.9,540.6h1.4l-0.7,1.3zM126.1,535.6h1.4l-0.7,1.3zM134.2,530.3h1.4l-0.7,1.3zM143.7,528.0h1.4l-0.7,1.3zM146.9,528.0h1.4l-0.7,1.3zM150.2,528.4h1.4l-0.7,1.3zM153.3,529.2h1.4l-0.7,1.3zM156.4,530.3h1.4l-0.7,1.3zM159.3,531.8h1.4l-0.7,1.3zM162.0,533.5h1.4l-0.7,1.3zM171.6,546.4h1.4l-0.7,1.3zM170.3,556.0h1.4l-0.7,1.3zM168.5,565.4h1.4l-0.7,1.3zM165.3,571.0h1.4l-0.7,1.3zM160.9,575.5h1.4l-0.7,1.3zM155.4,578.9h1.4l-0.7,1.3zM152.4,580.0h1.4l-0.7,1.3zM121.6,548.1h1.4l-0.7,1.3zM122.8,545.2h1.4l-0.7,1.3zM124.3,542.4h1.4l-0.7,1.3zM146.1,531.0h1.4l-0.7,1.3zM149.3,531.3h1.4l-0.7,1.3zM152.4,532.0h1.4l-0.7,1.3zM158.3,534.6h1.4l-0.7,1.3zM163.3,538.6h1.4l-0.7,1.3zM165.3,541.0h1.4l-0.7,1.3zM170.1,552.8h1.4l-0.7,1.3zM167.3,556.0h1.4l-0.7,1.3zM167.1,559.2h1.4l-0.7,1.3zM165.2,565.3h1.4l-0.7,1.3zM161.7,570.7h1.4l-0.7,1.3zM156.8,574.8h1.4l-0.7,1.3zM153.9,576.2h1.4l-0.7,1.3zM147.7,577.9h1.4l-0.7,1.3zM126.1,545.2h1.4l-0.7,1.3zM132.5,538.1h1.4l-0.7,1.3zM138.2,535.2h1.4l-0.7,1.3zM141.3,534.4h1.4l-0.7,1.3zM144.5,534.0h1.4l-0.7,1.3zM163.6,543.9h1.4l-0.7,1.3zM167.1,552.8h1.4l-0.7,1.3z" fill="#cfd8e3"/>
<path d="M23.5,472.3 L79,477.8 L102.1,501.6 L91.2,507.7 L90,510.1 L59.5,483.3 L36.3,480.2 L23.5,474.5 Z" fill="#6f7275"/>
<path d="M27,474 L77,479.3 L78.5,481 L30,476.2 Z" fill="#d9dcde"/>
<path d="M23.5,474.1 L36.3,480.2 L37.5,504 L23.5,515 Z" fill="#2c2d30"/>
<path d="M26,480 L34,483.5 L28,507 L25.5,509 Z" fill="#4a4c4f"/>
<path d="M59.5,482.3 L79,478.4 L102.1,501.6 L91.2,507.7 L90,510.1 Z" fill="#b3bac0" stroke="#3f4144" stroke-width="1.1" stroke-linejoin="round"/>
<path d="M64,483.5 L73,481.8 L94.5,504.5 L90.5,507 Z" fill="#d4d9dc"/>
<path d="M74.1,481.5 L96,505.2" stroke="#4a4c4f" stroke-width="0.9"/>
<path d="M37.5,504 L52,505.2 L57,508.5 L61,514.5 L66,519.8 L90,524.1 L90,538 L47.3,531.8 L41,530.5 L36.3,522.3 L23.5,515 L23.5,513 L37.5,504.5 Z" fill="#25272a"/>
<path d="M44,507 Q52,508 54,513 Q56,520 62,524 L88,528" stroke="#4d5053" stroke-width="0.7" fill="none"/>
<path d="M46,510 Q48,518 51,521 L49,527" stroke="#55585b" stroke-width="0.6" fill="none"/>
<path d="M23.5,515.6 L36.3,522.3 L41.2,530.9 L90,538.2 L90,550.4 L23.5,549.1 Z" fill="#b7bcc0"/>
<path d="M23.5,515.6 L36.3,522.3 L41.2,530.9 L23.5,548.5 Z" fill="#a4a9ad"/>
<path d="M23.5,549.1 L90,550.4 L90,557.7 L23.5,556.5 Z" fill="#8b9094"/>
<path d="M41.2,531.2 L23.5,549.1" stroke="#5a5c5f" stroke-width="1.3"/>
<path d="M36.3,522.3 L41.2,530.9 L90,538.2" stroke="#4a4c4f" stroke-width="1.4" fill="none"/>
<path d="M91.2,510.5 L160,512.5 L161,520 L128,516.5 Q105,521 95,543 L91.2,548 Z" fill="#bcc1c5"/>
<path d="M91.2,507.7 L102.1,501.6 L150,504.6 Q161.5,506 162,513.5 L150,510.8 L91.2,510.5 Z" fill="#cfd3d6"/>
<g fill="none" stroke="#37383b" stroke-linejoin="round" stroke-linecap="round">
<path d="M23.5,472.3 L79,477.8 L102.1,501.6 L150,504.6 Q162,506 162.5,516 L163,553" stroke-width="2.3"/>
<path d="M36.3,480.2 L59.5,483.3 L90,510.1" stroke-width="1.4"/>
<path d="M91.2,510.8 L158,512.6" stroke-width="1.6"/>
<path d="M90.8,508 L90.6,558.5" stroke-width="2"/>
<path d="M23.6,472.5 L23.6,557" stroke-width="1.5"/>
<path d="M23.5,557.6 L90,559.2 M23.5,549.2 L90,550.6" stroke-width="1.7"/>
<path d="M47,557.5 L47,560.5" stroke-width="1.5"/>
<path d="M82.5,517.5 L90,510.5" stroke-width="2.1"/>
<path d="M95,545 Q106,520 129,516" stroke-width="2.2"/>
<path d="M103,531 L106.5,522 L109,529" stroke-width="1.2"/>
</g>
<path d="M25,473.4 L78,478.8" stroke="#e9eaeb" stroke-width="0.8" fill="none"/>
<path d="M104,502.8 L150,505.7 Q159,506.8 160.5,512" stroke="#eceded" stroke-width="0.9" fill="none"/>
<circle cx="134.0" cy="566.5" r="41.0" fill="#3b3c3f"/>
<circle cx="134.0" cy="566.5" r="39.8" fill="#2c2d30"/>
<circle cx="134.5" cy="567.0" r="36.5" fill="#1a2d4a"/>
<path d="M166.7,576.0h2l-1,1.8zM165.6,579.2h2l-1,1.8zM162.5,585.1h2l-1,1.8zM160.6,587.8h2l-1,1.8zM150.6,596.5h2l-1,1.8zM131.3,600.9h2l-1,1.8zM124.8,599.9h2l-1,1.8zM107.9,589.6h2l-1,1.8zM102.4,581.3h2l-1,1.8zM101.1,578.3h2l-1,1.8zM99.1,568.5h2l-1,1.8zM99.0,565.2h2l-1,1.8zM102.1,552.3h2l-1,1.8zM103.6,549.3h2l-1,1.8zM105.4,546.5h2l-1,1.8zM109.8,541.5h2l-1,1.8zM112.3,539.3h2l-1,1.8zM127.4,532.6h2l-1,1.8zM134.0,532.0h2l-1,1.8zM140.6,532.7h2l-1,1.8zM143.8,533.6h2l-1,1.8zM150.0,536.2h2l-1,1.8zM152.8,537.9h2l-1,1.8zM155.5,539.9h2l-1,1.8zM160.2,544.6h2l-1,1.8zM163.9,550.2h2l-1,1.8zM165.3,553.2h2l-1,1.8zM167.3,559.5h2l-1,1.8zM167.8,562.8h2l-1,1.8zM164.9,566.9h2l-1,1.8zM164.7,570.3h2l-1,1.8zM164.1,573.6h2l-1,1.8zM163.2,576.8h2l-1,1.8zM160.3,582.8h2l-1,1.8zM153.9,590.4h2l-1,1.8zM135.6,597.8h2l-1,1.8zM128.9,597.6h2l-1,1.8zM113.8,590.9h2l-1,1.8zM102.1,567.7h2l-1,1.8zM102.2,564.4h2l-1,1.8zM103.3,557.8h2l-1,1.8zM104.4,554.7h2l-1,1.8zM111.9,543.7h2l-1,1.8zM114.4,541.5h2l-1,1.8zM117.2,539.7h2l-1,1.8zM123.2,536.8h2l-1,1.8zM133.1,535.1h2l-1,1.8zM136.4,535.2h2l-1,1.8zM139.7,535.7h2l-1,1.8zM151.9,541.1h2l-1,1.8zM156.9,545.5h2l-1,1.8zM159.0,548.1h2l-1,1.8zM160.8,550.9h2l-1,1.8zM162.3,553.9h2l-1,1.8zM163.4,557.0h2l-1,1.8zM164.8,563.6h2l-1,1.8zM161.8,566.6h2l-1,1.8zM161.6,570.0h2l-1,1.8zM161.0,573.3h2l-1,1.8zM160.0,576.5h2l-1,1.8zM158.6,579.5h2l-1,1.8zM152.5,587.5h2l-1,1.8zM144.0,592.8h2l-1,1.8zM140.9,593.8h2l-1,1.8zM137.6,594.5h2l-1,1.8zM134.2,594.8h2l-1,1.8zM118.3,590.4h2l-1,1.8zM113.1,586.1h2l-1,1.8zM109.1,580.8h2l-1,1.8zM106.4,574.7h2l-1,1.8zM105.2,568.1h2l-1,1.8zM107.6,555.0h2l-1,1.8zM111.1,549.2h2l-1,1.8zM115.8,544.5h2l-1,1.8zM118.5,542.5h2l-1,1.8zM124.5,539.7h2l-1,1.8zM127.8,538.8h2l-1,1.8zM134.4,538.2h2l-1,1.8zM144.2,540.3h2l-1,1.8zM147.3,541.8h2l-1,1.8zM155.0,548.1h2l-1,1.8zM157.0,550.8h2l-1,1.8zM161.6,563.3h2l-1,1.8zM158.7,566.6h2l-1,1.8zM158.5,570.0h2l-1,1.8zM156.7,576.5h2l-1,1.8zM155.1,579.5h2l-1,1.8zM148.3,586.9h2l-1,1.8zM145.5,588.7h2l-1,1.8zM139.2,591.0h2l-1,1.8zM132.5,591.7h2l-1,1.8zM111.0,577.8h2l-1,1.8zM108.3,568.1h2l-1,1.8zM109.7,558.1h2l-1,1.8zM111.1,555.0h2l-1,1.8zM114.9,549.5h2l-1,1.8zM120.0,545.2h2l-1,1.8zM123.0,543.6h2l-1,1.8zM129.4,541.6h2l-1,1.8zM136.1,541.4h2l-1,1.8zM145.7,544.5h2l-1,1.8zM148.6,546.3h2l-1,1.8zM151.1,548.5h2l-1,1.8zM155.2,553.8h2l-1,1.8zM156.8,556.8h2l-1,1.8zM157.8,560.0h2l-1,1.8zM158.5,563.3h2l-1,1.8zM155.7,569.9h2l-1,1.8zM155.0,573.2h2l-1,1.8zM153.7,576.3h2l-1,1.8zM147.5,584.2h2l-1,1.8zM114.9,579.1h2l-1,1.8zM111.2,569.8h2l-1,1.8zM111.0,566.4h2l-1,1.8zM111.3,563.1h2l-1,1.8zM115.0,553.7h2l-1,1.8zM117.1,551.1h2l-1,1.8zM125.4,545.5h2l-1,1.8zM131.9,544.1h2l-1,1.8zM135.3,544.1h2l-1,1.8zM138.6,544.6h2l-1,1.8zM141.8,545.6h2l-1,1.8zM144.8,547.1h2l-1,1.8zM153.1,569.6h2l-1,1.8zM152.3,572.8h2l-1,1.8zM150.9,575.9h2l-1,1.8zM144.1,583.2h2l-1,1.8zM141.1,584.8h2l-1,1.8zM134.6,586.3h2l-1,1.8zM128.0,585.5h2l-1,1.8zM117.2,577.8h2l-1,1.8zM114.4,571.7h2l-1,1.8zM116.9,555.6h2l-1,1.8zM121.5,550.7h2l-1,1.8zM124.3,548.9h2l-1,1.8zM134.1,546.7h2l-1,1.8zM143.7,549.5h2l-1,1.8zM146.4,551.5h2l-1,1.8zM148.7,553.9h2l-1,1.8zM152.1,559.7h2l-1,1.8zM153.0,562.9h2l-1,1.8zM150.5,568.6h2l-1,1.8zM134.7,583.6h2l-1,1.8zM116.4,567.7h2l-1,1.8zM120.6,555.3h2l-1,1.8zM123.0,553.0h2l-1,1.8zM125.8,551.2h2l-1,1.8zM129.0,550.0h2l-1,1.8zM138.9,550.3h2l-1,1.8zM142.0,551.6h2l-1,1.8zM144.7,553.6h2l-1,1.8zM150.6,565.3h2l-1,1.8z" fill="#35587f"/>
<path d="M168.3,569.9h1.2l-0.6,0.9zM167.8,573.3h1.2l-0.6,0.9zM164.5,582.6h1.4l-0.7,1.1zM158.7,590.7h1.4l-0.7,1.2zM156.4,593.1h1.1l-0.6,0.9zM153.7,595.1h1.3l-0.6,1.0zM147.7,598.3h1.7l-0.9,1.4zM144.9,599.7h1.2l-0.6,0.9zM141.6,600.5h1.4l-0.7,1.1zM138.1,601.0h1.7l-0.9,1.4zM134.8,601.3h1.6l-0.8,1.3zM128.3,600.9h1.5l-0.8,1.2zM121.9,599.3h1.3l-0.6,1.0zM118.9,598.0h1.2l-0.6,0.9zM116.0,596.4h1.2l-0.6,0.9zM113.1,594.5h1.5l-0.8,1.2zM110.5,592.3h1.6l-0.8,1.3zM106.2,587.5h1.2l-0.6,1.0zM104.2,584.7h1.4l-0.7,1.1zM100.5,575.5h1.2l-0.6,1.0zM99.8,572.3h1.2l-0.6,0.9zM99.6,562.2h1.4l-0.7,1.1zM100.2,559.0h1.4l-0.7,1.1zM101.3,555.8h1.2l-0.6,0.9zM107.7,544.2h1.4l-0.7,1.1zM115.2,537.7h1.6l-0.8,1.2zM118.3,536.2h1.2l-0.6,1.0zM121.4,534.8h1.2l-0.6,1.0zM124.4,533.7h1.4l-0.7,1.2zM131.1,532.5h1.2l-0.6,1.0zM137.7,532.6h1.3l-0.6,1.0zM147.4,535.2h1.1l-0.6,0.9zM158.3,542.6h1.3l-0.7,1.1zM162.5,547.7h1.4l-0.7,1.1zM166.7,556.7h1.5l-0.7,1.2zM168.4,566.6h1.3l-0.6,1.0zM162.2,580.2h1.5l-0.7,1.2zM158.8,586.0h1.3l-0.6,1.0zM156.5,588.5h1.5l-0.7,1.2zM151.4,592.8h1.6l-0.8,1.3zM148.5,594.5h1.6l-0.8,1.3zM145.4,595.8h1.8l-0.9,1.5zM142.6,597.2h1.1l-0.6,0.9zM139.1,597.7h1.7l-0.8,1.3zM132.6,598.3h1.2l-0.6,1.0zM126.0,597.3h1.2l-0.6,1.0zM122.6,596.2h1.7l-0.9,1.4zM119.8,595.0h1.1l-0.6,0.9zM116.5,593.1h2.0l-1.0,1.6zM111.3,588.9h2.0l-1.0,1.6zM109.1,586.4h1.9l-1.0,1.5zM107.1,583.7h2.0l-1.0,1.6zM105.5,580.8h1.9l-0.9,1.5zM104.5,578.0h1.3l-0.6,1.0zM103.4,574.7h1.4l-0.7,1.1zM102.8,571.5h1.3l-0.7,1.1zM103.0,561.5h1.2l-0.6,1.0zM106.1,552.0h1.4l-0.7,1.1zM107.9,549.2h1.4l-0.7,1.1zM109.9,546.5h1.5l-0.7,1.2zM120.4,538.4h1.6l-0.8,1.3zM126.8,536.3h1.2l-0.6,1.0zM130.0,535.7h1.5l-0.7,1.2zM143.3,537.0h1.3l-0.7,1.0zM146.5,538.2h1.2l-0.6,1.0zM149.4,539.6h1.4l-0.7,1.2zM154.9,543.6h1.2l-0.6,1.0zM164.7,560.7h1.1l-0.6,0.9zM157.3,582.8h1.3l-0.6,1.0zM155.1,585.4h1.6l-0.8,1.3zM150.2,590.0h1.4l-0.7,1.1zM147.3,591.7h1.4l-0.7,1.2zM131.2,595.0h1.5l-0.7,1.2zM127.6,594.4h2.0l-1.0,1.6zM124.7,593.7h1.2l-0.6,1.0zM121.2,592.2h2.0l-1.0,1.6zM115.6,588.6h1.9l-1.0,1.5zM111.3,584.0h1.3l-0.6,1.0zM108.0,578.3h1.2l-0.6,1.0zM106.0,571.8h1.4l-0.7,1.1zM105.7,565.2h1.1l-0.6,0.9zM106.0,561.8h1.3l-0.6,1.0zM106.8,558.5h1.3l-0.6,1.0zM109.5,552.4h1.4l-0.7,1.2zM113.7,547.2h1.1l-0.6,0.9zM121.8,541.3h1.2l-0.6,1.0zM131.4,538.7h1.4l-0.7,1.1zM138.2,539.0h1.1l-0.6,0.9zM141.4,539.6h1.4l-0.7,1.1zM150.5,544.0h1.2l-0.6,1.0zM153.0,546.1h1.3l-0.6,1.0zM159.0,554.0h1.5l-0.8,1.2zM160.3,557.1h1.4l-0.7,1.2zM161.4,560.4h1.3l-0.7,1.1zM158.0,573.6h1.5l-0.7,1.2zM153.5,582.6h1.3l-0.7,1.1zM151.2,585.1h1.5l-0.8,1.2zM142.7,590.4h1.4l-0.7,1.1zM136.2,592.0h1.3l-0.7,1.0zM129.2,591.5h2.0l-1.0,1.6zM126.1,590.9h1.5l-0.8,1.2zM123.2,589.8h1.1l-0.6,0.9zM120.2,588.1h1.2l-0.6,1.0zM117.4,586.0h1.5l-0.8,1.2zM115.0,583.7h1.4l-0.7,1.1zM112.9,581.0h1.6l-0.8,1.3zM109.9,575.0h1.5l-0.7,1.2zM109.1,571.8h1.3l-0.7,1.1zM108.6,565.0h1.5l-0.8,1.2zM109.2,561.8h1.3l-0.6,1.0zM113.2,552.6h1.1l-0.6,0.9zM117.7,547.6h1.2l-0.6,0.9zM126.5,542.8h1.3l-0.6,1.0zM133.1,541.7h1.3l-0.7,1.0zM139.8,542.4h1.3l-0.6,1.0zM143.0,543.4h1.4l-0.7,1.1zM153.6,551.4h1.4l-0.7,1.1zM156.3,567.0h1.5l-0.7,1.2zM152.4,579.7h1.2l-0.6,1.0zM150.2,582.2h1.5l-0.8,1.2zM144.9,586.4h1.6l-0.8,1.2zM141.9,587.8h1.6l-0.8,1.2zM138.7,588.8h1.5l-0.7,1.2zM135.3,589.3h1.5l-0.8,1.2zM132.0,589.3h1.5l-0.8,1.2zM128.8,588.8h1.2l-0.6,1.0zM125.3,587.7h1.7l-0.9,1.4zM122.3,586.2h1.7l-0.9,1.4zM119.6,584.3h1.7l-0.8,1.3zM117.2,582.1h1.5l-0.8,1.2zM113.3,576.5h1.7l-0.9,1.4zM112.3,573.4h1.4l-0.7,1.1zM112.3,560.2h1.4l-0.7,1.1zM113.5,557.0h1.6l-0.8,1.3zM119.8,549.2h1.5l-0.8,1.2zM122.6,547.3h1.5l-0.8,1.2zM128.8,544.9h1.5l-0.8,1.2zM147.9,549.3h1.5l-0.7,1.2zM150.5,551.7h1.1l-0.6,0.9zM152.6,554.4h1.1l-0.6,0.9zM154.1,557.2h1.4l-0.7,1.1zM155.4,560.4h1.2l-0.6,0.9zM156.2,563.7h1.2l-0.6,1.0zM149.3,579.1h1.6l-0.8,1.3zM146.9,581.5h1.7l-0.9,1.4zM138.3,586.2h1.2l-0.6,0.9zM131.4,586.5h1.6l-0.8,1.3zM124.9,584.6h1.8l-0.9,1.4zM122.0,582.8h1.9l-0.9,1.5zM119.7,580.8h1.3l-0.6,1.0zM115.7,575.2h1.7l-0.9,1.4zM114.0,568.8h1.5l-0.8,1.2zM114.1,565.5h1.2l-0.6,1.0zM114.5,562.1h1.6l-0.8,1.3zM115.7,559.0h1.4l-0.7,1.1zM119.3,553.4h1.5l-0.7,1.2zM127.8,548.1h1.2l-0.6,1.0zM131.0,547.3h1.5l-0.7,1.2zM137.7,547.5h1.4l-0.7,1.1zM140.9,548.4h1.5l-0.8,1.2zM151.0,557.0h1.4l-0.7,1.1zM153.7,566.7h1.2l-0.6,1.0zM150.0,572.3h1.4l-0.7,1.1zM148.7,575.4h1.3l-0.7,1.1zM146.6,578.0h1.6l-0.8,1.3zM144.2,580.3h1.7l-0.8,1.3zM141.4,582.1h1.5l-0.8,1.2zM138.4,583.4h1.2l-0.6,1.0zM131.5,583.7h1.8l-0.9,1.5zM128.2,583.0h1.7l-0.9,1.4zM125.3,581.7h1.5l-0.8,1.2zM122.3,579.6h2.0l-1.0,1.6zM120.4,577.4h1.2l-0.6,1.0zM118.4,574.5h1.5l-0.8,1.2zM117.4,571.4h1.3l-0.6,1.0zM116.9,564.8h1.2l-0.6,0.9zM117.6,561.5h1.4l-0.7,1.1zM119.0,558.4h1.3l-0.7,1.1zM132.5,549.8h1.6l-0.8,1.3zM136.1,550.0h1.1l-0.6,0.9zM147.3,556.4h1.4l-0.7,1.1zM149.1,559.2h1.4l-0.7,1.1zM150.3,562.4h1.3l-0.7,1.1z" fill="#c3cfdd"/>
<circle cx="133.5" cy="567.0" r="14.2" fill="#4b4c4f"/><circle cx="133.5" cy="567.0" r="12.3" fill="#77797c"/><circle cx="133.2" cy="566.7" r="10.6" fill="#3f4043"/>
<path d="M133.2,566.7L143.0,568.4M133.2,566.7L140.1,573.9M133.2,566.7L134.6,576.6M133.2,566.7L128.5,575.5M133.2,566.7L124.2,571.1M133.2,566.7L123.4,565.0M133.2,566.7L126.3,559.5M133.2,566.7L131.8,556.8M133.2,566.7L137.9,557.9M133.2,566.7L142.2,562.3" stroke="#8e9093" stroke-width="1.1" fill="none"/>
<circle cx="133.2" cy="566.7" r="2.3" fill="#8e9093"/>
<path d="M128,603.5 L137,603 L143,611 L124,613.5 Z" fill="#cf5a66"/>
</g>
</g><defs>
<clipPath id="dclip"><path clip-rule="evenodd" d="M363.0,601.6 a145.6,145.6 0 1,0 291.2,0 a145.6,145.6 0 1,0 -291.2,0 Z M465.0,603.3 a44.0,44.0 0 1,0 88.0,0 a44.0,44.0 0 1,0 -88.0,0 Z"/></clipPath>
<filter id="b1" x="-20%" y="-20%" width="140%" height="140%"><feGaussianBlur stdDeviation="1.2"/></filter>
<filter id="b2" x="-20%" y="-20%" width="140%" height="140%"><feGaussianBlur stdDeviation="2.2"/></filter>
<filter id="b4" x="-20%" y="-20%" width="140%" height="140%"><feGaussianBlur stdDeviation="4"/></filter>
<filter id="b6" x="-20%" y="-20%" width="140%" height="140%"><feGaussianBlur stdDeviation="6"/></filter>
<linearGradient id="cbar" x1="0" x2="1" y1="0" y2="0">
<stop offset="0" stop-color="#313695"/><stop offset="0.1" stop-color="#4575b4"/><stop offset="0.2" stop-color="#74add1"/>
<stop offset="0.3" stop-color="#abd9e9"/><stop offset="0.4" stop-color="#e0f3f8"/><stop offset="0.5" stop-color="#ffffbf"/>
<stop offset="0.6" stop-color="#fee090"/><stop offset="0.7" stop-color="#fdae61"/><stop offset="0.8" stop-color="#f46d43"/>
<stop offset="0.9" stop-color="#d73027"/><stop offset="1" stop-color="#a50026"/></linearGradient>
</defs>
<g id="panelD">
<g clip-path="url(#dclip)">
<rect x="360" y="450" width="300" height="305" fill="#313695"/>
<g filter="url(#b4)">
<path d="M640,560 L660,600 L655,660 L625,710 L590,735 L560,728 L575,700 L600,690 L615,660 L628,630 L635,590 Z" fill="#3b51a5" opacity="0.9"/>
<path d="M570,690 L590,670 L605,690 L590,715 L565,720 Z" fill="#3f59aa" opacity="0.8"/>
<path d="M600,640 L618,620 L630,650 L612,680 Z" fill="#3d55a8" opacity="0.6"/>
</g>
<g filter="url(#b2)">
<path d="M392,690 A145.6,145.6 0 0,0 470,742 L472,736 A140,140 0 0,1 398,688 Z" fill="#6fa3cf" opacity="0.9"/>
</g>
<g filter="url(#b2)"><path d="M440,738 L445,729 L472,712 L487,702 L496.5,692.5 L506,701 L527,709 L545,717.5 L562,715 L578,710.5 L596,708 L604,725 L600,770 L440,770 Z" fill="#4575b4"/></g>
<g filter="url(#b2)"><path d="M442,742 L449,733.2 L474,716 L488,706 L497,698.2 L506,705.5 L525,713.4 L543.3,721.8 L561.6,719.5 L576.8,715.7 L592,713 L600,728 L600,770 L440,770 Z" fill="#74add1"/></g>
<g filter="url(#b2)"><path d="M448,746 L455.2,737.8 L478,720 L490,711 L497.8,704.3 L506,711 L522,718.8 L540.3,727 L561.6,724.8 L576.8,719.5 L589,719 L596,730 L600,770 L440,770 Z" fill="#e0f3f8"/></g>
<g filter="url(#b2)"><path d="M456,748 L462.8,740.8 L482,725 L492,716.5 L498.5,710.4 L506,717 L520.5,724 L537.3,733.2 L561.6,731.7 L576.8,725.6 L584,725 L590,736 L600,770 L440,770 Z" fill="#ffffbf"/></g>
<g filter="url(#b2)"><path d="M463,750 L470.4,743.8 L486,730 L494,722 L499.3,715.7 L506,722 L519,730 L537,740.8 L561.6,740.8 L574,736 L580,745 L600,770 L440,770 Z" fill="#fdae61"/></g>
<g filter="url(#b1)"><path d="M472,752 L479.5,746 L490,735 L496,727 L500,721 L506,726 L515,735 L522,742 L531,747 L545,748 L600,770 L440,770 Z" fill="#e34a33"/></g>
<g filter="url(#b1)"><path d="M480,752 L485.6,746 L493,737 L497.5,730 L500.8,725.6 L506.5,729 L513,737 L519,744 L525,747.5 L530,750 L600,770 L440,770 Z" fill="#a50026"/></g>
</g>
<path d="M489.5,754 C493.5,748.5 495.5,743.5 497.8,738 C499.5,733.2 502.5,730.9 505.6,730.9 C508.8,730.9 511,733 513,737.5 C515.5,743 518,748 523,754 Z" fill="#fff"/>
<rect x="398.5" y="756.5" width="225.5" height="25.5" fill="url(#cbar)" stroke="#111" stroke-width="1.2"/>
<g class="ax" font-size="22.5" style="stroke-width:0.35px">
<text x="375.5" y="779" textLength="13" lengthAdjust="spacingAndGlyphs">0</text>
<text x="630" y="779" textLength="42" lengthAdjust="spacingAndGlyphs">max</text>
<text x="445" y="807" textLength="140" lengthAdjust="spacingAndGlyphs">Displacement</text>
</g>
</g><defs>
<linearGradient id="dg" x1="0" y1="0" x2="0" y2="1"><stop offset="0" stop-color="#fbfbfb"/><stop offset="1" stop-color="#dcdcdc"/></linearGradient>
<linearGradient id="dg2" x1="0" y1="0" x2="1" y2="0"><stop offset="0" stop-color="#bdbdbd"/><stop offset="0.5" stop-color="#f2f2f2"/><stop offset="1" stop-color="#b5b5b5"/></linearGradient>
<clipPath id="latL"><rect x="691.5" y="624.8" width="115" height="184"/></clipPath>
<clipPath id="latR"><rect x="898" y="625.3" width="146.5" height="185.5"/></clipPath>
</defs>
<g id="panelE">
<g id="drone">
<path d="M896.8,453.3 L966.8,421.7 Q972,420.8 972,423.6 Q971.6,426.6 969.4,427.7 L902.7,458.5 Z" fill="#d9d9d9" stroke="#4d4d4d" stroke-width="0.8" stroke-linejoin="round"/>
<path d="M900,455 L968,424" stroke="#8a8a8a" stroke-width="1.1" fill="none"/>
<path d="M828.2,482.3 Q830,487 835,488.2 Q850,486 859,482.3 Q870,477 879,470 L872,461.5 Q858,466 845.3,471.2 Q835,476 828.2,482.3 Z" fill="#dedede" stroke="#4d4d4d" stroke-width="0.8" stroke-linejoin="round"/>
<path d="M716.2,484.5 Q713,487 713.7,491.7 Q716,495 722.2,497.6 L758.1,513 L765,514 L765.8,505.3 L759.8,507 Z" fill="#d6d6d6" stroke="#4d4d4d" stroke-width="0.8" stroke-linejoin="round"/>
<path d="M940.3,502 Q941,498 945.5,498.3 Q950,499 969.4,515.7 L964.3,522.6 Q945,509 940.3,502 Z" fill="#d2d2d2" stroke="#4d4d4d" stroke-width="0.8" stroke-linejoin="round"/>
<path d="M983.1,529.4 L1000.2,542.2 Q1001,545.6 996.8,546.5 L979.7,538 Z" fill="#d2d2d2" stroke="#4d4d4d" stroke-width="0.8" stroke-linejoin="round"/>
<path d="M755.6,518.2 Q757,512.5 765,512.5 L768.4,510.5 Q767.5,503 771,502.6 Q774,503.5 772.8,510 L777,516.5 Q800,517.5 819.7,515.6 Q838,513.5 852.1,508.8 Q864,503 871,493.4 Q876,485 877.8,476.3 Q878,466 879.5,458 Q881,454 882.2,453.3 Q884.5,444.5 887.4,444.6 Q890.5,445 894.2,452.5 Q901,456 903.6,462 Q904.5,474 901,482.5 Q896,490 894,498 Q893.5,506 895.9,512.3 Q930,522 966,529.4 L969.4,521 Q970,513.5 973,514 Q977,516 980,526.5 L984,530 Q988,534 986,539 Q984,544.5 978,544.8 Q972,544 969.4,539.7 Q940,542 911.3,543 Q905,544 902.8,548 L897,545 L892,540 L882,538 Q870,534 858,536 Q848,538 842,546 L836.8,548 Q835,543.5 833.3,541.2 Q818,535.5 802.6,531.8 L775.2,529.3 Q770,532.5 765,531.8 Q757,530 755.2,523 Z" fill="url(#dg)" stroke="#4d4d4d" stroke-width="0.8" stroke-linejoin="round"/>
<path d="M895.9,512.3 Q930,522 966,529.4 L969,533 Q935,531 905,527 Q898,520 895.9,512.3Z" fill="#a9a9a9"/>
<path d="M911.3,543 Q940,542 969.4,539.7 L966,535.5 Q940,537 916,536.5 Q908,538 905,543.5Z" fill="#9b9b9b"/>
<path d="M884,483.2 Q884,495 880,508 Q878,520 880,534 L888,536 Q886,520 888,508 Q890,495 889,484 Z" fill="#b3b3b3"/>
<path d="M889,484 Q892,500 891,512 Q894,520 900,526 L905,527 Q897,518 895.9,512.3 Q893.5,506 894,498 Q896,490 898,483 Z" fill="#c9c9c9"/>
<path d="M775.2,529.3 L802.6,531.8 Q818,535.5 833.3,541.2 L832,537 Q815,530.5 800,527.5 L778,525.5 Z" fill="#a6a6a6"/>
<path d="M780,520 Q805,521.5 825,519.5 Q845,516.5 858,510 Q869,503 874,494 M782,523.5 Q806,525.5 828,523.5 Q850,520 862,513 Q872,506 877,497" stroke="#6a6a6a" stroke-width="0.6" fill="none"/>
<path d="M779,518.5 Q805,520 825,517.5 Q846,514 858,507.5 Q868,501 873,492 L875,494 Q870,504 860,510.5 Q847,517 826,520.5 Q805,523 780,521.5Z" fill="#fff"/>
<path d="M902,517 Q930,525 962,531.5 L961,533 Q930,527 903,520Z" fill="#fff"/>
<path d="M886,488 Q887,500 884.5,512 Q883,524 884.5,534 L886.5,534 Q885.5,524 887,512 Q889,500 888,488Z" fill="#fff"/>
<ellipse cx="890.8" cy="478.1" rx="11" ry="6.6" fill="#e4e4e4" stroke="#4d4d4d" stroke-width="0.8" stroke-linejoin="round"/><ellipse cx="890.8" cy="478.3" rx="5.2" ry="3" fill="#8a8a8a" stroke="#555" stroke-width="0.6"/>
<path d="M879.6,474 Q890,468.5 902.5,473.5" stroke="#777" stroke-width="0.6" fill="none"/>
<ellipse cx="767.5" cy="527.8" rx="7.2" ry="3.8" fill="#dcdcdc" stroke="#4d4d4d" stroke-width="0.8" stroke-linejoin="round" transform="rotate(8 767.5 527.8)"/><ellipse cx="767.8" cy="528" rx="3.2" ry="1.6" fill="#999" stroke="#555" stroke-width="0.5"/>
<ellipse cx="977.1" cy="538" rx="7.6" ry="4.2" fill="#d8d8d8" stroke="#4d4d4d" stroke-width="0.8" stroke-linejoin="round" transform="rotate(-8 977.1 538)"/><ellipse cx="977.3" cy="538" rx="3.4" ry="1.8" fill="#8d8d8d" stroke="#555" stroke-width="0.5"/>
<circle cx="770.3" cy="508.3" r="1.1" fill="#444"/><circle cx="769.6" cy="513.5" r="1.2" fill="#444"/><circle cx="975.5" cy="519.5" r="1.2" fill="#444"/><circle cx="976.6" cy="525.6" r="1.3" fill="#444"/>
<path d="M838,541 Q832,556 828,566 L821.6,561 L822,563.5 L827,569 L818.5,590 L834,591 L838,586 L855,593 L857.5,592.3 L856,555 Q852,548 846.4,542.7 Z" fill="#e3e3e3" stroke="#4d4d4d" stroke-width="0.8" stroke-linejoin="round"/>
<path d="M843,548 Q838,566 832.7,588.9 L838,586 L852,591 Q847,575 848,556 Z" fill="#fff"/>
<path d="M855.8,554.7 L857.5,596 L872.5,604.3 L863.5,556.4 Z" fill="#d9d9d9" stroke="#4d4d4d" stroke-width="0.8" stroke-linejoin="round"/>
<path d="M882.3,530.8 Q881,555 878.9,578.6 L889,582 L910,583 L916.5,575.2 L894.3,565 Q892,548 892.6,532.5 Z" fill="#dadada" stroke="#4d4d4d" stroke-width="0.8" stroke-linejoin="round"/>
<path d="M884,540 Q883.5,560 881.5,576 L888,578 Q889,560 888.5,542 Z" fill="#a8a8a8"/>
<path d="M899.4,539.3 Q905,560 919.9,590.6 L934.5,592 Q922,566 902.8,537.6 Z" fill="#e0e0e0" stroke="#4d4d4d" stroke-width="0.8" stroke-linejoin="round"/>
<path d="M903,546 L916.5,575.2 L921,572 L907,545 Z" fill="#fff" stroke="#666" stroke-width="0.5"/>
<path d="M852.4,540 Q864,531 880.6,532.5 L882,551.3 L870,556 L855,554 Z" fill="#eeeeee" stroke="#4d4d4d" stroke-width="0.8" stroke-linejoin="round"/>
<path d="M853,543.5 Q866,536 881,537.5 M853.5,547.5 Q866,540.5 881.3,542 M854,551 Q866,544.5 881.6,546.5" stroke="#777" stroke-width="0.9" fill="none"/>
<path d="M853.2,545 Q866,538 881.1,539.6 L881.2,541 Q866,539.6 853.4,546.6Z M853.8,549 Q866,542 881.4,544 L881.5,545.5 Q866,543.8 853.9,550.4Z" fill="#b0b0b0"/>
<path d="M858.4,556 Q866,550 880.6,551.3 L880,568 Q874,574 866,573 Q859,569 858.4,556 Z" fill="#e6e6e6" stroke="#4d4d4d" stroke-width="0.8" stroke-linejoin="round"/>
<circle cx="866.9" cy="563.2" r="2.6" fill="#4a4a4a"/>
<path d="M815.7,595.5 L816.1,610.3 A10.3,4.0 0 0,0 836.6999999999999,610.3 L836.3,595.5 A10.3,4.0 0 0,0 815.7,595.5 Z" fill="#2e3192" stroke="#23256e" stroke-width="0.7"/><ellipse cx="826.4" cy="610.3" rx="10.3" ry="4.0" fill="#7b7b7b" stroke="#333" stroke-width="0.7"/>
<path d="M847.9000000000001,604.5 L848.1000000000001,617.1 A9.3,3.5 0 0,0 866.7,617.1 L866.5,604.5 A9.3,3.5 0 0,0 847.9000000000001,604.5 Z" fill="#2e3192" stroke="#23256e" stroke-width="0.7"/><ellipse cx="857.4000000000001" cy="617.1" rx="9.3" ry="3.5" fill="#7b7b7b" stroke="#333" stroke-width="0.7"/>
<path d="M888.4,583.5 L888.4,597.4 A11,4.0 0 0,0 910.4,597.4 L910.4,583.5 A11,4.0 0 0,0 888.4,583.5 Z" fill="#2e3192" stroke="#23256e" stroke-width="0.7"/><ellipse cx="899.4" cy="597.4" rx="11" ry="4.0" fill="#7b7b7b" stroke="#333" stroke-width="0.7"/>
<path d="M915.4,593.5 L915.4,608 A11,4.0 0 0,0 937.4,608 L937.4,593.5 A11,4.0 0 0,0 915.4,593.5 Z" fill="#2e3192" stroke="#23256e" stroke-width="0.7"/><ellipse cx="926.4" cy="608" rx="11" ry="4.0" fill="#7b7b7b" stroke="#333" stroke-width="0.7"/>
</g>
<rect x="807.3" y="585.2" width="35.2" height="35.2" fill="none" stroke="#3c3c9c" stroke-width="1"/>
<g class="ax" font-size="17.5" style="stroke-width:0.2px"><text x="712.5" y="618" textLength="70.5" lengthAdjust="spacingAndGlyphs">Taking off</text><text x="946.5" y="619" textLength="57" lengthAdjust="spacingAndGlyphs">Landing</text></g>
<text x="838" y="662.8" font-family="Liberation Sans,sans-serif" font-weight="bold" font-size="17.5" fill="#c1121f" stroke="#c1121f" stroke-width="0.5" textLength="31" lengthAdjust="spacingAndGlyphs">FBC</text>
<defs><g id="tL"><path d="M19.5,20L15,36L20.5,38Z" fill="#4f58ae"/><path d="M19.5,20L20.5,38L24.5,35Z" fill="#3d4498"/><path d="M12.6,36.5a2.4,2.4 0 1,0 4.8,0a2.4,2.4 0 1,0 -4.8,0zM22.1,35.5a2.4,2.4 0 1,0 4.8,0a2.4,2.4 0 1,0 -4.8,0zM-10.9,21.5a3.1,3.1 0 1,0 6.2,0a3.1,3.1 0 1,0 -6.2,0zM4.7,20.8a3.1,3.1 0 1,0 6.2,0a3.1,3.1 0 1,0 -6.2,0zM-2,24.6a3,3 0 1,0 6,0a3,3 0 1,0 -6,0zM13.1,30.5a2.9,2.9 0 1,0 5.8,0a2.9,2.9 0 1,0 -5.8,0zM-15.6,31.5a2.6,2.6 0 1,0 5.2,0a2.6,2.6 0 1,0 -5.2,0z" fill="#363b8f"/><path d="M7.5,21.5L16,30L16.5,43Z" fill="#242968"/><path d="M16,30L24.5,19.5L16.5,43Z" fill="#3a4092"/><path d="M7,21.8L25,19L16,30.5Z" fill="#7d85ce"/><path d="M-8,22.5L-22,24.5L-13,31.5Z" fill="#6e76c4"/><path d="M-8,22.5L-13,31.5L-10.5,40Z" fill="#282d70"/><path d="M0,0L-7.8,21L1,24Z" fill="#5d66bb"/><path d="M0,0L1,24L7.8,20.5Z" fill="#4a52a7"/><path d="M-10,20.5a1.3,1.3 0 1,0 2.6,0a1.3,1.3 0 1,0 -2.6,0zM5.6,19.8a1.3,1.3 0 1,0 2.6,0a1.3,1.3 0 1,0 -2.6,0zM-1.2,23.6a1.3,1.3 0 1,0 2.5,0a1.3,1.3 0 1,0 -2.5,0zM13.9,29.5a1.2,1.2 0 1,0 2.4,0a1.2,1.2 0 1,0 -2.4,0zM-15,30.5a1.1,1.1 0 1,0 2.2,0a1.1,1.1 0 1,0 -2.2,0z" fill="#6f77c6"/></g></defs>
<g clip-path="url(#latL)">
<rect x="691" y="624" width="116" height="186" fill="#fff"/>
<use href="#tL" x="696.2" y="632.5"/><use href="#tL" x="735" y="632.5"/><use href="#tL" x="773.8" y="632.5"/><use href="#tL" x="812.6" y="632.5"/><use href="#tL" x="674.9" y="671.1"/><use href="#tL" x="713.7" y="671.1"/><use href="#tL" x="752.5" y="671.1"/><use href="#tL" x="791.3" y="671.1"/><use href="#tL" x="696.2" y="709.7"/><use href="#tL" x="735" y="709.7"/><use href="#tL" x="773.8" y="709.7"/><use href="#tL" x="812.6" y="709.7"/><use href="#tL" x="674.9" y="748.3"/><use href="#tL" x="713.7" y="748.3"/><use href="#tL" x="752.5" y="748.3"/><use href="#tL" x="791.3" y="748.3"/><use href="#tL" x="696.2" y="786.9"/><use href="#tL" x="735" y="786.9"/><use href="#tL" x="773.8" y="786.9"/><use href="#tL" x="812.6" y="786.9"/><use href="#tL" x="674.9" y="825.5"/><use href="#tL" x="713.7" y="825.5"/><use href="#tL" x="752.5" y="825.5"/><use href="#tL" x="791.3" y="825.5"/>
<use href="#tL" x="705.9" y="638.2"/><use href="#tL" x="744.7" y="638.2"/><use href="#tL" x="783.5" y="638.2"/><use href="#tL" x="822.3" y="638.2"/><use href="#tL" x="684.6" y="676.8"/><use href="#tL" x="723.4" y="676.8"/><use href="#tL" x="762.2" y="676.8"/><use href="#tL" x="801" y="676.8"/><use href="#tL" x="705.9" y="715.4"/><use href="#tL" x="744.7" y="715.4"/><use href="#tL" x="783.5" y="715.4"/><use href="#tL" x="822.3" y="715.4"/><use href="#tL" x="684.6" y="754"/><use href="#tL" x="723.4" y="754"/><use href="#tL" x="762.2" y="754"/><use href="#tL" x="801" y="754"/><use href="#tL" x="705.9" y="792.6"/><use href="#tL" x="744.7" y="792.6"/><use href="#tL" x="783.5" y="792.6"/><use href="#tL" x="822.3" y="792.6"/><use href="#tL" x="684.6" y="831.2"/><use href="#tL" x="723.4" y="831.2"/><use href="#tL" x="762.2" y="831.2"/><use href="#tL" x="801" y="831.2"/>
<use href="#tL" x="678.6" y="643.9"/><use href="#tL" x="717.4" y="643.9"/><use href="#tL" x="756.2" y="643.9"/><use href="#tL" x="795" y="643.9"/><use href="#tL" x="696.1" y="682.5"/><use href="#tL" x="734.9" y="682.5"/><use href="#tL" x="773.7" y="682.5"/><use href="#tL" x="812.5" y="682.5"/><use href="#tL" x="678.6" y="721.1"/><use href="#tL" x="717.4" y="721.1"/><use href="#tL" x="756.2" y="721.1"/><use href="#tL" x="795" y="721.1"/><use href="#tL" x="696.1" y="759.7"/><use href="#tL" x="734.9" y="759.7"/><use href="#tL" x="773.7" y="759.7"/><use href="#tL" x="812.5" y="759.7"/><use href="#tL" x="678.6" y="798.3"/><use href="#tL" x="717.4" y="798.3"/><use href="#tL" x="756.2" y="798.3"/><use href="#tL" x="795" y="798.3"/><use href="#tL" x="696.1" y="836.9"/><use href="#tL" x="734.9" y="836.9"/><use href="#tL" x="773.7" y="836.9"/><use href="#tL" x="812.5" y="836.9"/>
</g>
<circle cx="696.0" cy="632.6" r="2.8" fill="#c8102e"/>
<circle cx="705.7" cy="638.2" r="2.8" fill="#c8102e"/>
<circle cx="714.3" cy="644.3" r="2.8" fill="#c8102e"/>
<circle cx="735.0" cy="631.6" r="2.8" fill="#c8102e"/>
<circle cx="744.3" cy="637.4" r="2.8" fill="#c8102e"/>
<circle cx="755.0" cy="643.0" r="2.8" fill="#c8102e"/>
<circle cx="774.0" cy="630.9" r="2.8" fill="#c8102e"/>
<circle cx="783.8" cy="636.2" r="2.8" fill="#c8102e"/>
<circle cx="796.0" cy="641.8" r="2.8" fill="#c8102e"/>
<rect x="691.5" y="624.8" width="115" height="184" fill="none" stroke="#3c3c9c" stroke-width="1.1"/>
<defs><g id="tR0"><path d="M0,0L3.5,23L20,24.5Z" fill="#5a62ba"/><path d="M3.5,23L20,24.5L9,27.5ZM2.3,26.8h2.4v0.8h-2.4zM6.8,40.6h2.4v0.8h-2.4zM29.8,33h2.4v0.8h-2.4zM-3.7,34.5h2.4v0.8h-2.4zM12.8,45.4h2.4v0.8h-2.4zM-0.2,46.4h2.4v0.8h-2.4z" fill="#2b3080"/><path d="M4,25L31,31.5L8,39Z" fill="#727acb"/><path d="M8,39L31,31.5L13,42ZM0,25a3.5,3.5 0 1,0 7,0a3.5,3.5 0 1,0 -7,0zM4.7,39a3.3,3.3 0 1,0 6.6,0a3.3,3.3 0 1,0 -6.6,0zM28,31.5a3,3 0 1,0 6,0a3,3 0 1,0 -6,0zM-5.4,33a2.9,2.9 0 1,0 5.8,0a2.9,2.9 0 1,0 -5.8,0zM11.2,44a2.8,2.8 0 1,0 5.6,0a2.8,2.8 0 1,0 -5.6,0zM-1.7,45a2.7,2.7 0 1,0 5.4,0a2.7,2.7 0 1,0 -5.4,0z" fill="#3c4297"/><path d="M1,23.9a1.5,1.5 0 1,0 2.9,0a1.5,1.5 0 1,0 -2.9,0zM5.6,37.9a1.4,1.4 0 1,0 2.8,0a1.4,1.4 0 1,0 -2.8,0zM28.7,30.4a1.3,1.3 0 1,0 2.5,0a1.3,1.3 0 1,0 -2.5,0zM-4.7,31.9a1.2,1.2 0 1,0 2.4,0a1.2,1.2 0 1,0 -2.4,0zM11.8,42.9a1.2,1.2 0 1,0 2.4,0a1.2,1.2 0 1,0 -2.4,0zM-1.1,43.9a1.1,1.1 0 1,0 2.3,0a1.1,1.1 0 1,0 -2.3,0z" fill="#8088d6"/></g><g id="tR1"><path d="M0,0L3.5,23L20,24.5Z" fill="#7ba3c0"/><path d="M3.5,23L20,24.5L9,27.5ZM2.3,26.8h2.4v0.8h-2.4zM6.8,40.6h2.4v0.8h-2.4zM29.8,33h2.4v0.8h-2.4zM-3.7,34.5h2.4v0.8h-2.4zM12.8,45.4h2.4v0.8h-2.4zM-0.2,46.4h2.4v0.8h-2.4z" fill="#456a85"/><path d="M4,25L31,31.5L8,39Z" fill="#9dc4dd"/><path d="M8,39L31,31.5L13,42ZM0,25a3.5,3.5 0 1,0 7,0a3.5,3.5 0 1,0 -7,0zM4.7,39a3.3,3.3 0 1,0 6.6,0a3.3,3.3 0 1,0 -6.6,0zM28,31.5a3,3 0 1,0 6,0a3,3 0 1,0 -6,0zM-5.4,33a2.9,2.9 0 1,0 5.8,0a2.9,2.9 0 1,0 -5.8,0zM11.2,44a2.8,2.8 0 1,0 5.6,0a2.8,2.8 0 1,0 -5.6,0zM-1.7,45a2.7,2.7 0 1,0 5.4,0a2.7,2.7 0 1,0 -5.4,0z" fill="#6b97b6"/><path d="M1,23.9a1.5,1.5 0 1,0 2.9,0a1.5,1.5 0 1,0 -2.9,0zM5.6,37.9a1.4,1.4 0 1,0 2.8,0a1.4,1.4 0 1,0 -2.8,0zM28.7,30.4a1.3,1.3 0 1,0 2.5,0a1.3,1.3 0 1,0 -2.5,0zM-4.7,31.9a1.2,1.2 0 1,0 2.4,0a1.2,1.2 0 1,0 -2.4,0zM11.8,42.9a1.2,1.2 0 1,0 2.4,0a1.2,1.2 0 1,0 -2.4,0zM-1.1,43.9a1.1,1.1 0 1,0 2.3,0a1.1,1.1 0 1,0 -2.3,0z" fill="#c3e0f0"/></g><g id="tR2"><path d="M0,0L3.5,23L20,24.5Z" fill="#b4bbc2"/><path d="M3.5,23L20,24.5L9,27.5ZM2.3,26.8h2.4v0.8h-2.4zM6.8,40.6h2.4v0.8h-2.4zM29.8,33h2.4v0.8h-2.4zM-3.7,34.5h2.4v0.8h-2.4zM12.8,45.4h2.4v0.8h-2.4zM-0.2,46.4h2.4v0.8h-2.4z" fill="#8d959c"/><path d="M4,25L31,31.5L8,39Z" fill="#eef1f3"/><path d="M8,39L31,31.5L13,42ZM0,25a3.5,3.5 0 1,0 7,0a3.5,3.5 0 1,0 -7,0zM4.7,39a3.3,3.3 0 1,0 6.6,0a3.3,3.3 0 1,0 -6.6,0zM28,31.5a3,3 0 1,0 6,0a3,3 0 1,0 -6,0zM-5.4,33a2.9,2.9 0 1,0 5.8,0a2.9,2.9 0 1,0 -5.8,0zM11.2,44a2.8,2.8 0 1,0 5.6,0a2.8,2.8 0 1,0 -5.6,0zM-1.7,45a2.7,2.7 0 1,0 5.4,0a2.7,2.7 0 1,0 -5.4,0z" fill="#c9d1d7"/><path d="M1,23.9a1.5,1.5 0 1,0 2.9,0a1.5,1.5 0 1,0 -2.9,0zM5.6,37.9a1.4,1.4 0 1,0 2.8,0a1.4,1.4 0 1,0 -2.8,0zM28.7,30.4a1.3,1.3 0 1,0 2.5,0a1.3,1.3 0 1,0 -2.5,0zM-4.7,31.9a1.2,1.2 0 1,0 2.4,0a1.2,1.2 0 1,0 -2.4,0zM11.8,42.9a1.2,1.2 0 1,0 2.4,0a1.2,1.2 0 1,0 -2.4,0zM-1.1,43.9a1.1,1.1 0 1,0 2.3,0a1.1,1.1 0 1,0 -2.3,0z" fill="#ffffff"/></g><g id="tR3"><path d="M0,0L3.5,23L20,24.5Z" fill="#b3a977"/><path d="M3.5,23L20,24.5L9,27.5ZM2.3,26.8h2.4v0.8h-2.4zM6.8,40.6h2.4v0.8h-2.4zM29.8,33h2.4v0.8h-2.4zM-3.7,34.5h2.4v0.8h-2.4zM12.8,45.4h2.4v0.8h-2.4zM-0.2,46.4h2.4v0.8h-2.4z" fill="#7d7450"/><path d="M4,25L31,31.5L8,39Z" fill="#efe6b3"/><path d="M8,39L31,31.5L13,42ZM0,25a3.5,3.5 0 1,0 7,0a3.5,3.5 0 1,0 -7,0zM4.7,39a3.3,3.3 0 1,0 6.6,0a3.3,3.3 0 1,0 -6.6,0zM28,31.5a3,3 0 1,0 6,0a3,3 0 1,0 -6,0zM-5.4,33a2.9,2.9 0 1,0 5.8,0a2.9,2.9 0 1,0 -5.8,0zM11.2,44a2.8,2.8 0 1,0 5.6,0a2.8,2.8 0 1,0 -5.6,0zM-1.7,45a2.7,2.7 0 1,0 5.4,0a2.7,2.7 0 1,0 -5.4,0z" fill="#cdc28b"/><path d="M1,23.9a1.5,1.5 0 1,0 2.9,0a1.5,1.5 0 1,0 -2.9,0zM5.6,37.9a1.4,1.4 0 1,0 2.8,0a1.4,1.4 0 1,0 -2.8,0zM28.7,30.4a1.3,1.3 0 1,0 2.5,0a1.3,1.3 0 1,0 -2.5,0zM-4.7,31.9a1.2,1.2 0 1,0 2.4,0a1.2,1.2 0 1,0 -2.4,0zM11.8,42.9a1.2,1.2 0 1,0 2.4,0a1.2,1.2 0 1,0 -2.4,0zM-1.1,43.9a1.1,1.1 0 1,0 2.3,0a1.1,1.1 0 1,0 -2.3,0z" fill="#fbf5d2"/></g><g id="tR4"><path d="M0,0L3.5,23L20,24.5Z" fill="#b66e47"/><path d="M3.5,23L20,24.5L9,27.5ZM2.3,26.8h2.4v0.8h-2.4zM6.8,40.6h2.4v0.8h-2.4zM29.8,33h2.4v0.8h-2.4zM-3.7,34.5h2.4v0.8h-2.4zM12.8,45.4h2.4v0.8h-2.4zM-0.2,46.4h2.4v0.8h-2.4z" fill="#7a4327"/><path d="M4,25L31,31.5L8,39Z" fill="#e89b6d"/><path d="M8,39L31,31.5L13,42ZM0,25a3.5,3.5 0 1,0 7,0a3.5,3.5 0 1,0 -7,0zM4.7,39a3.3,3.3 0 1,0 6.6,0a3.3,3.3 0 1,0 -6.6,0zM28,31.5a3,3 0 1,0 6,0a3,3 0 1,0 -6,0zM-5.4,33a2.9,2.9 0 1,0 5.8,0a2.9,2.9 0 1,0 -5.8,0zM11.2,44a2.8,2.8 0 1,0 5.6,0a2.8,2.8 0 1,0 -5.6,0zM-1.7,45a2.7,2.7 0 1,0 5.4,0a2.7,2.7 0 1,0 -5.4,0z" fill="#c67c52"/><path d="M1,23.9a1.5,1.5 0 1,0 2.9,0a1.5,1.5 0 1,0 -2.9,0zM5.6,37.9a1.4,1.4 0 1,0 2.8,0a1.4,1.4 0 1,0 -2.8,0zM28.7,30.4a1.3,1.3 0 1,0 2.5,0a1.3,1.3 0 1,0 -2.5,0zM-4.7,31.9a1.2,1.2 0 1,0 2.4,0a1.2,1.2 0 1,0 -2.4,0zM11.8,42.9a1.2,1.2 0 1,0 2.4,0a1.2,1.2 0 1,0 -2.4,0zM-1.1,43.9a1.1,1.1 0 1,0 2.3,0a1.1,1.1 0 1,0 -2.3,0z" fill="#f6bd97"/></g><g id="tR5"><path d="M0,0L3.5,23L20,24.5ZM8,39L31,31.5L13,42ZM0,25a3.5,3.5 0 1,0 7,0a3.5,3.5 0 1,0 -7,0zM4.7,39a3.3,3.3 0 1,0 6.6,0a3.3,3.3 0 1,0 -6.6,0zM28,31.5a3,3 0 1,0 6,0a3,3 0 1,0 -6,0zM-5.4,33a2.9,2.9 0 1,0 5.8,0a2.9,2.9 0 1,0 -5.8,0zM11.2,44a2.8,2.8 0 1,0 5.6,0a2.8,2.8 0 1,0 -5.6,0zM-1.7,45a2.7,2.7 0 1,0 5.4,0a2.7,2.7 0 1,0 -5.4,0z" fill="#6e1230"/><path d="M3.5,23L20,24.5L9,27.5ZM2.3,26.8h2.4v0.8h-2.4zM6.8,40.6h2.4v0.8h-2.4zM29.8,33h2.4v0.8h-2.4zM-3.7,34.5h2.4v0.8h-2.4zM12.8,45.4h2.4v0.8h-2.4zM-0.2,46.4h2.4v0.8h-2.4z" fill="#4a0a1e"/><path d="M4,25L31,31.5L8,39Z" fill="#8d1f3a"/><path d="M1,23.9a1.5,1.5 0 1,0 2.9,0a1.5,1.5 0 1,0 -2.9,0zM5.6,37.9a1.4,1.4 0 1,0 2.8,0a1.4,1.4 0 1,0 -2.8,0zM28.7,30.4a1.3,1.3 0 1,0 2.5,0a1.3,1.3 0 1,0 -2.5,0zM-4.7,31.9a1.2,1.2 0 1,0 2.4,0a1.2,1.2 0 1,0 -2.4,0zM11.8,42.9a1.2,1.2 0 1,0 2.4,0a1.2,1.2 0 1,0 -2.4,0zM-1.1,43.9a1.1,1.1 0 1,0 2.3,0a1.1,1.1 0 1,0 -2.3,0z" fill="#a8324c"/></g></defs>
<g clip-path="url(#latR)">
<rect x="897" y="624" width="149" height="188" fill="#fff"/>
<use href="#tR0" x="896.5" y="631"/><use href="#tR0" x="934.8" y="630.4"/><use href="#tR0" x="973.1" y="629.8"/><use href="#tR0" x="1011.4" y="629.2"/><use href="#tR1" x="866.7" y="668.6"/><use href="#tR1" x="905" y="668"/><use href="#tR1" x="943.3" y="667.4"/><use href="#tR1" x="981.6" y="666.8"/><use href="#tR1" x="1019.9" y="666.2"/><use href="#tR2" x="863.2" y="704.6"/><use href="#tR2" x="901.5" y="704"/><use href="#tR2" x="939.8" y="703.4"/><use href="#tR2" x="978.1" y="702.8"/><use href="#tR2" x="1016.4" y="702.2"/><use href="#tR3" x="871.7" y="738.6"/><use href="#tR3" x="910" y="738"/><use href="#tR3" x="948.3" y="737.4"/><use href="#tR3" x="986.6" y="736.8"/><use href="#tR3" x="1024.9" y="736.2"/><use href="#tR4" x="868.2" y="769.6"/><use href="#tR4" x="906.5" y="769"/><use href="#tR4" x="944.8" y="768.4"/><use href="#tR4" x="983.1" y="767.8"/><use href="#tR4" x="1021.4" y="767.2"/><use href="#tR5" x="876.7" y="799.6"/><use href="#tR5" x="915" y="799"/><use href="#tR5" x="953.3" y="798.4"/><use href="#tR5" x="991.6" y="797.8"/><use href="#tR5" x="1029.9" y="797.2"/>
<use href="#tR0" x="869.8" y="635.8"/><use href="#tR0" x="908.1" y="635.2"/><use href="#tR0" x="946.4" y="634.6"/><use href="#tR0" x="984.7" y="634"/><use href="#tR1" x="878.3" y="672.8"/><use href="#tR1" x="916.6" y="672.2"/><use href="#tR1" x="954.9" y="671.6"/><use href="#tR1" x="993.2" y="671"/><use href="#tR1" x="1031.5" y="670.4"/><use href="#tR2" x="874.8" y="708.8"/><use href="#tR2" x="913.1" y="708.2"/><use href="#tR2" x="951.4" y="707.6"/><use href="#tR2" x="989.7" y="707"/><use href="#tR2" x="1028" y="706.4"/><use href="#tR3" x="883.3" y="742.8"/><use href="#tR3" x="921.6" y="742.2"/><use href="#tR3" x="959.9" y="741.6"/><use href="#tR3" x="998.2" y="741"/><use href="#tR3" x="1036.5" y="740.4"/><use href="#tR4" x="879.8" y="773.8"/><use href="#tR4" x="918.1" y="773.2"/><use href="#tR4" x="956.4" y="772.6"/><use href="#tR4" x="994.7" y="772"/><use href="#tR4" x="1033" y="771.4"/><use href="#tR5" x="888.3" y="803.8"/><use href="#tR5" x="926.6" y="803.2"/><use href="#tR5" x="964.9" y="802.6"/><use href="#tR5" x="1003.2" y="802"/><use href="#tR5" x="1041.5" y="801.4"/>
<use href="#tR0" x="881.4" y="640"/><use href="#tR0" x="919.7" y="639.4"/><use href="#tR0" x="958" y="638.8"/><use href="#tR0" x="996.3" y="638.2"/><use href="#tR1" x="889.9" y="677"/><use href="#tR1" x="928.2" y="676.4"/><use href="#tR1" x="966.5" y="675.8"/><use href="#tR1" x="1004.8" y="675.2"/><use href="#tR1" x="1043.1" y="674.6"/><use href="#tR2" x="886.4" y="713"/><use href="#tR2" x="924.7" y="712.4"/><use href="#tR2" x="963" y="711.8"/><use href="#tR2" x="1001.3" y="711.2"/><use href="#tR2" x="1039.6" y="710.6"/><use href="#tR3" x="894.9" y="747"/><use href="#tR3" x="933.2" y="746.4"/><use href="#tR3" x="971.5" y="745.8"/><use href="#tR3" x="1009.8" y="745.2"/><use href="#tR4" x="891.4" y="778"/><use href="#tR4" x="929.7" y="777.4"/><use href="#tR4" x="968" y="776.8"/><use href="#tR4" x="1006.3" y="776.2"/><use href="#tR4" x="1044.6" y="775.6"/><use href="#tR5" x="861.6" y="808.6"/><use href="#tR5" x="899.9" y="808"/><use href="#tR5" x="938.2" y="807.4"/><use href="#tR5" x="976.5" y="806.8"/><use href="#tR5" x="1014.8" y="806.2"/>
<path d="M897,750 L937,813 L897,813 Z" fill="#fff"/>
</g>
<circle cx="906.7" cy="635.2" r="2.7" fill="#c8102e"/>
<circle cx="917.6" cy="639.4" r="2.7" fill="#c8102e"/>
<circle cx="934.7" cy="630.4" r="2.7" fill="#c8102e"/>
<circle cx="945.2" cy="634.0" r="2.7" fill="#c8102e"/>
<circle cx="957.4" cy="638.7" r="2.7" fill="#c8102e"/>
<circle cx="972.5" cy="628.9" r="2.7" fill="#c8102e"/>
<circle cx="984.7" cy="632.6" r="2.7" fill="#c8102e"/>
<circle cx="997.4" cy="637.4" r="2.7" fill="#c8102e"/>
<rect x="898" y="625.3" width="146.5" height="185.5" fill="none" stroke="#3c3c9c" stroke-width="1.1"/>
<path d="M796,641.8 L837.4,655.2 M870.6,656.5 L906.7,635.2" stroke="#c1121f" stroke-width="1.1" fill="none"/>
</g></svg></body></html>
